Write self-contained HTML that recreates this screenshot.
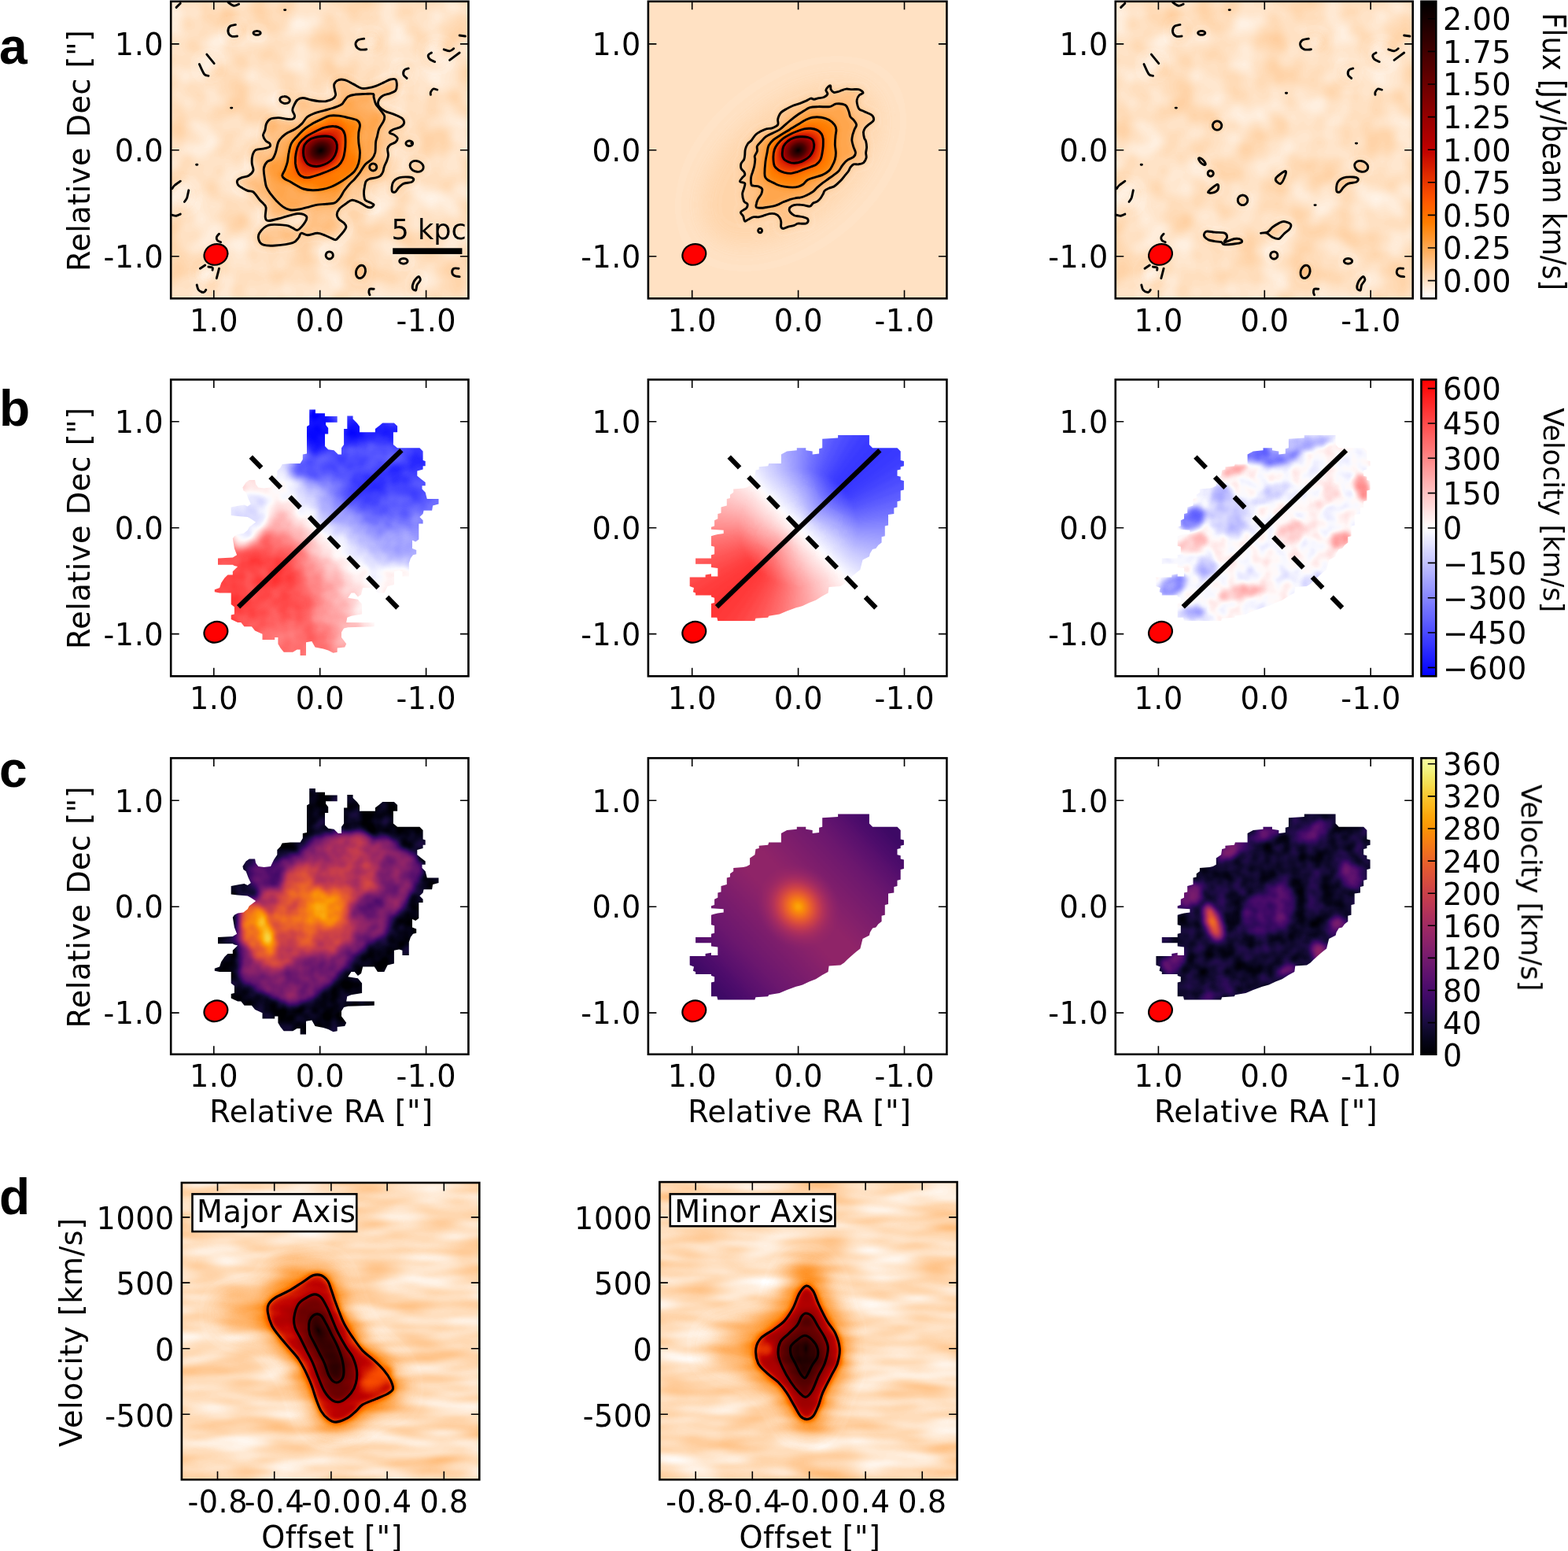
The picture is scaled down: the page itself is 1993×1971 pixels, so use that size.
<!DOCTYPE html><html><head><meta charset="utf-8"><title>figure</title>
<style>html,body{margin:0;padding:0;background:#fff;overflow:hidden;}svg{display:block;}</style></head><body>
<svg width="1993" height="1971" viewBox="0 0 1993 1971" font-family="'DejaVu Sans', 'Liberation Sans', sans-serif">
<defs><filter id="cm_heat" x="0" y="0" width="1" height="1" color-interpolation-filters="sRGB"><feComponentTransfer><feFuncR type="table" tableValues="1.0000 1.0000 1.0000 1.0000 1.0000 1.0000 1.0000 1.0000 1.0000 1.0000 1.0000 1.0000 1.0000 1.0000 1.0000 1.0000 1.0000 1.0000 1.0000 1.0000 1.0000 1.0000 0.9765 0.9529 0.9294 0.9059 0.8824 0.8588 0.8353 0.8118 0.7882 0.7647 0.7353 0.7118 0.6882 0.6647 0.6412 0.6176 0.5941 0.5706 0.5471 0.5235 0.5000 0.4765 0.4529 0.4294 0.4059 0.3824 0.3529 0.3294 0.3059 0.2824 0.2588 0.2353 0.2118 0.1882 0.1647 0.1412 0.1176 0.0941 0.0706 0.0471 0.0235 0.0000"/><feFuncG type="table" tableValues="1.0000 0.9686 0.9373 0.9059 0.8745 0.8431 0.8118 0.7804 0.7490 0.7176 0.6863 0.6549 0.6235 0.5922 0.5608 0.5294 0.4902 0.4588 0.4275 0.3961 0.3647 0.3333 0.3020 0.2706 0.2392 0.2078 0.1765 0.1451 0.1137 0.0824 0.0510 0.0196 0.0000 0.0000 0.0000 0.0000 0.0000 0.0000 0.0000 0.0000 0.0000 0.0000 0.0000 0.0000 0.0000 0.0000 0.0000 0.0000 0.0000 0.0000 0.0000 0.0000 0.0000 0.0000 0.0000 0.0000 0.0000 0.0000 0.0000 0.0000 0.0000 0.0000 0.0000 0.0000"/><feFuncB type="table" tableValues="1.0000 0.9373 0.8745 0.8118 0.7490 0.6863 0.6235 0.5608 0.4980 0.4353 0.3725 0.3098 0.2471 0.1843 0.1216 0.0588 0.0000 0.0000 0.0000 0.0000 0.0000 0.0000 0.0000 0.0000 0.0000 0.0000 0.0000 0.0000 0.0000 0.0000 0.0000 0.0000 0.0000 0.0000 0.0000 0.0000 0.0000 0.0000 0.0000 0.0000 0.0000 0.0000 0.0000 0.0000 0.0000 0.0000 0.0000 0.0000 0.0000 0.0000 0.0000 0.0000 0.0000 0.0000 0.0000 0.0000 0.0000 0.0000 0.0000 0.0000 0.0000 0.0000 0.0000 0.0000"/></feComponentTransfer></filter><filter id="cm_bwr" x="0" y="0" width="1" height="1" color-interpolation-filters="sRGB"><feComponentTransfer><feFuncR type="table" tableValues="0.0000 0.0314 0.0627 0.0941 0.1255 0.1569 0.1882 0.2196 0.2510 0.2824 0.3137 0.3451 0.3765 0.4078 0.4392 0.4706 0.5098 0.5412 0.5725 0.6039 0.6353 0.6667 0.6980 0.7294 0.7608 0.7922 0.8235 0.8549 0.8863 0.9176 0.9490 0.9804 1.0000 1.0000 1.0000 1.0000 1.0000 1.0000 1.0000 1.0000 1.0000 1.0000 1.0000 1.0000 1.0000 1.0000 1.0000 1.0000 1.0000 1.0000 1.0000 1.0000 1.0000 1.0000 1.0000 1.0000 1.0000 1.0000 1.0000 1.0000 1.0000 1.0000 1.0000 1.0000"/><feFuncG type="table" tableValues="0.0000 0.0314 0.0627 0.0941 0.1255 0.1569 0.1882 0.2196 0.2510 0.2824 0.3137 0.3451 0.3765 0.4078 0.4392 0.4706 0.5098 0.5412 0.5725 0.6039 0.6353 0.6667 0.6980 0.7294 0.7608 0.7922 0.8235 0.8549 0.8863 0.9176 0.9490 0.9804 0.9804 0.9490 0.9176 0.8863 0.8549 0.8235 0.7922 0.7608 0.7294 0.6980 0.6667 0.6353 0.6039 0.5725 0.5412 0.5098 0.4706 0.4392 0.4078 0.3765 0.3451 0.3137 0.2824 0.2510 0.2196 0.1882 0.1569 0.1255 0.0941 0.0627 0.0314 0.0000"/><feFuncB type="table" tableValues="1.0000 1.0000 1.0000 1.0000 1.0000 1.0000 1.0000 1.0000 1.0000 1.0000 1.0000 1.0000 1.0000 1.0000 1.0000 1.0000 1.0000 1.0000 1.0000 1.0000 1.0000 1.0000 1.0000 1.0000 1.0000 1.0000 1.0000 1.0000 1.0000 1.0000 1.0000 1.0000 0.9804 0.9490 0.9176 0.8863 0.8549 0.8235 0.7922 0.7608 0.7294 0.6980 0.6667 0.6353 0.6039 0.5725 0.5412 0.5098 0.4706 0.4392 0.4078 0.3765 0.3451 0.3137 0.2824 0.2510 0.2196 0.1882 0.1569 0.1255 0.0941 0.0627 0.0314 0.0000"/></feComponentTransfer></filter><filter id="cm_inf" x="0" y="0" width="1" height="1" color-interpolation-filters="sRGB"><feComponentTransfer><feFuncR type="table" tableValues="0.0015 0.0060 0.0140 0.0258 0.0423 0.0613 0.0820 0.1046 0.1293 0.1558 0.1834 0.2111 0.2383 0.2648 0.2908 0.3163 0.3478 0.3728 0.3977 0.4225 0.4474 0.4723 0.4973 0.5222 0.5472 0.5721 0.5969 0.6217 0.6463 0.6706 0.6946 0.7183 0.7471 0.7696 0.7913 0.8122 0.8323 0.8514 0.8694 0.8863 0.9020 0.9165 0.9296 0.9415 0.9521 0.9613 0.9692 0.9757 0.9819 0.9853 0.9873 0.9879 0.9871 0.9849 0.9812 0.9761 0.9698 0.9625 0.9550 0.9487 0.9464 0.9517 0.9662 0.9884"/><feFuncG type="table" tableValues="0.0005 0.0047 0.0112 0.0193 0.0281 0.0366 0.0433 0.0470 0.0473 0.0446 0.0403 0.0370 0.0366 0.0396 0.0456 0.0535 0.0646 0.0739 0.0833 0.0925 0.1016 0.1105 0.1194 0.1281 0.1369 0.1458 0.1548 0.1642 0.1739 0.1842 0.1950 0.2066 0.2224 0.2361 0.2509 0.2668 0.2839 0.3023 0.3218 0.3426 0.3645 0.3875 0.4115 0.4364 0.4622 0.4887 0.5159 0.5438 0.5794 0.6084 0.6379 0.6677 0.6979 0.7284 0.7591 0.7900 0.8208 0.8515 0.8816 0.9105 0.9372 0.9606 0.9807 0.9984"/><feFuncB type="table" tableValues="0.0139 0.0386 0.0719 0.1059 0.1411 0.1776 0.2153 0.2534 0.2908 0.3253 0.3550 0.3786 0.3964 0.4093 0.4186 0.4251 0.4302 0.4324 0.4332 0.4327 0.4311 0.4283 0.4245 0.4195 0.4135 0.4064 0.3981 0.3888 0.3784 0.3669 0.3544 0.3409 0.3229 0.3075 0.2914 0.2747 0.2574 0.2396 0.2215 0.2030 0.1841 0.1649 0.1454 0.1254 0.1050 0.0843 0.0635 0.0436 0.0262 0.0242 0.0349 0.0583 0.0877 0.1208 0.1569 0.1960 0.2387 0.2855 0.3375 0.3953 0.4586 0.5242 0.5872 0.6449"/></feComponentTransfer></filter><linearGradient id="cg_heat" x1="0" y1="0" x2="0" y2="1"><stop offset="0.0000" stop-color="rgb(0,0,0)"/><stop offset="0.0213" stop-color="rgb(8,0,0)"/><stop offset="0.0426" stop-color="rgb(15,0,0)"/><stop offset="0.0638" stop-color="rgb(24,0,0)"/><stop offset="0.0851" stop-color="rgb(32,0,0)"/><stop offset="0.1064" stop-color="rgb(41,0,0)"/><stop offset="0.1277" stop-color="rgb(48,0,0)"/><stop offset="0.1489" stop-color="rgb(57,0,0)"/><stop offset="0.1702" stop-color="rgb(65,0,0)"/><stop offset="0.1915" stop-color="rgb(74,0,0)"/><stop offset="0.2128" stop-color="rgb(81,0,0)"/><stop offset="0.2340" stop-color="rgb(89,0,0)"/><stop offset="0.2553" stop-color="rgb(98,0,0)"/><stop offset="0.2766" stop-color="rgb(105,0,0)"/><stop offset="0.2979" stop-color="rgb(114,0,0)"/><stop offset="0.3191" stop-color="rgb(122,0,0)"/><stop offset="0.3404" stop-color="rgb(130,0,0)"/><stop offset="0.3617" stop-color="rgb(138,0,0)"/><stop offset="0.3830" stop-color="rgb(147,0,0)"/><stop offset="0.4043" stop-color="rgb(155,0,0)"/><stop offset="0.4255" stop-color="rgb(162,0,0)"/><stop offset="0.4468" stop-color="rgb(171,0,0)"/><stop offset="0.4681" stop-color="rgb(178,0,0)"/><stop offset="0.4894" stop-color="rgb(188,0,0)"/><stop offset="0.5106" stop-color="rgb(195,5,0)"/><stop offset="0.5319" stop-color="rgb(204,17,0)"/><stop offset="0.5532" stop-color="rgb(212,27,0)"/><stop offset="0.5745" stop-color="rgb(220,39,0)"/><stop offset="0.5957" stop-color="rgb(228,49,0)"/><stop offset="0.6170" stop-color="rgb(236,59,0)"/><stop offset="0.6383" stop-color="rgb(244,71,0)"/><stop offset="0.6596" stop-color="rgb(252,81,0)"/><stop offset="0.6809" stop-color="rgb(255,93,0)"/><stop offset="0.7021" stop-color="rgb(255,103,0)"/><stop offset="0.7234" stop-color="rgb(255,115,0)"/><stop offset="0.7447" stop-color="rgb(255,125,0)"/><stop offset="0.7660" stop-color="rgb(255,137,19)"/><stop offset="0.7872" stop-color="rgb(255,147,39)"/><stop offset="0.8085" stop-color="rgb(255,157,59)"/><stop offset="0.8298" stop-color="rgb(255,169,83)"/><stop offset="0.8511" stop-color="rgb(255,179,103)"/><stop offset="0.8723" stop-color="rgb(255,191,127)"/><stop offset="0.8936" stop-color="rgb(255,201,147)"/><stop offset="0.9149" stop-color="rgb(255,213,171)"/><stop offset="0.9362" stop-color="rgb(255,223,191)"/><stop offset="0.9574" stop-color="rgb(255,235,215)"/><stop offset="0.9787" stop-color="rgb(255,245,235)"/><stop offset="1.0000" stop-color="rgb(255,255,255)"/></linearGradient><linearGradient id="cg_bwr" x1="0" y1="0" x2="0" y2="1"><stop offset="0.0000" stop-color="rgb(255,0,0)"/><stop offset="0.0213" stop-color="rgb(255,10,10)"/><stop offset="0.0426" stop-color="rgb(255,20,20)"/><stop offset="0.0638" stop-color="rgb(255,32,32)"/><stop offset="0.0851" stop-color="rgb(255,42,42)"/><stop offset="0.1064" stop-color="rgb(255,54,54)"/><stop offset="0.1277" stop-color="rgb(255,64,64)"/><stop offset="0.1489" stop-color="rgb(255,76,76)"/><stop offset="0.1702" stop-color="rgb(255,86,86)"/><stop offset="0.1915" stop-color="rgb(255,98,98)"/><stop offset="0.2128" stop-color="rgb(255,108,108)"/><stop offset="0.2340" stop-color="rgb(255,118,118)"/><stop offset="0.2553" stop-color="rgb(255,130,130)"/><stop offset="0.2766" stop-color="rgb(255,140,140)"/><stop offset="0.2979" stop-color="rgb(255,152,152)"/><stop offset="0.3191" stop-color="rgb(255,162,162)"/><stop offset="0.3404" stop-color="rgb(255,174,174)"/><stop offset="0.3617" stop-color="rgb(255,184,184)"/><stop offset="0.3830" stop-color="rgb(255,196,196)"/><stop offset="0.4043" stop-color="rgb(255,206,206)"/><stop offset="0.4255" stop-color="rgb(255,216,216)"/><stop offset="0.4468" stop-color="rgb(255,228,228)"/><stop offset="0.4681" stop-color="rgb(255,238,238)"/><stop offset="0.4894" stop-color="rgb(255,250,250)"/><stop offset="0.5106" stop-color="rgb(250,250,255)"/><stop offset="0.5319" stop-color="rgb(238,238,255)"/><stop offset="0.5532" stop-color="rgb(228,228,255)"/><stop offset="0.5745" stop-color="rgb(216,216,255)"/><stop offset="0.5957" stop-color="rgb(206,206,255)"/><stop offset="0.6170" stop-color="rgb(196,196,255)"/><stop offset="0.6383" stop-color="rgb(184,184,255)"/><stop offset="0.6596" stop-color="rgb(174,174,255)"/><stop offset="0.6809" stop-color="rgb(162,162,255)"/><stop offset="0.7021" stop-color="rgb(152,152,255)"/><stop offset="0.7234" stop-color="rgb(140,140,255)"/><stop offset="0.7447" stop-color="rgb(130,130,255)"/><stop offset="0.7660" stop-color="rgb(118,118,255)"/><stop offset="0.7872" stop-color="rgb(108,108,255)"/><stop offset="0.8085" stop-color="rgb(98,98,255)"/><stop offset="0.8298" stop-color="rgb(86,86,255)"/><stop offset="0.8511" stop-color="rgb(76,76,255)"/><stop offset="0.8723" stop-color="rgb(64,64,255)"/><stop offset="0.8936" stop-color="rgb(54,54,255)"/><stop offset="0.9149" stop-color="rgb(42,42,255)"/><stop offset="0.9362" stop-color="rgb(32,32,255)"/><stop offset="0.9574" stop-color="rgb(20,20,255)"/><stop offset="0.9787" stop-color="rgb(10,10,255)"/><stop offset="1.0000" stop-color="rgb(0,0,255)"/></linearGradient><linearGradient id="cg_inf" x1="0" y1="0" x2="0" y2="1"><stop offset="0.0000" stop-color="rgb(252,255,164)"/><stop offset="0.0213" stop-color="rgb(245,249,146)"/><stop offset="0.0426" stop-color="rgb(242,242,125)"/><stop offset="0.0638" stop-color="rgb(242,232,101)"/><stop offset="0.0851" stop-color="rgb(244,223,83)"/><stop offset="0.1064" stop-color="rgb(247,211,64)"/><stop offset="0.1277" stop-color="rgb(249,201,50)"/><stop offset="0.1489" stop-color="rgb(251,190,35)"/><stop offset="0.1702" stop-color="rgb(252,180,24)"/><stop offset="0.1915" stop-color="rgb(252,168,13)"/><stop offset="0.2128" stop-color="rgb(252,159,7)"/><stop offset="0.2340" stop-color="rgb(251,150,6)"/><stop offset="0.2553" stop-color="rgb(249,139,11)"/><stop offset="0.2766" stop-color="rgb(247,130,18)"/><stop offset="0.2979" stop-color="rgb(243,120,25)"/><stop offset="0.3191" stop-color="rgb(240,111,32)"/><stop offset="0.3404" stop-color="rgb(235,102,40)"/><stop offset="0.3617" stop-color="rgb(231,94,46)"/><stop offset="0.3830" stop-color="rgb(225,86,53)"/><stop offset="0.4043" stop-color="rgb(219,80,59)"/><stop offset="0.4255" stop-color="rgb(213,74,65)"/><stop offset="0.4468" stop-color="rgb(206,67,71)"/><stop offset="0.4681" stop-color="rgb(199,62,76)"/><stop offset="0.4894" stop-color="rgb(191,57,82)"/><stop offset="0.5106" stop-color="rgb(183,53,87)"/><stop offset="0.5319" stop-color="rgb(174,48,92)"/><stop offset="0.5532" stop-color="rgb(166,45,96)"/><stop offset="0.5745" stop-color="rgb(157,41,100)"/><stop offset="0.5957" stop-color="rgb(149,38,103)"/><stop offset="0.6170" stop-color="rgb(141,35,105)"/><stop offset="0.6383" stop-color="rgb(132,32,107)"/><stop offset="0.6596" stop-color="rgb(124,29,109)"/><stop offset="0.6809" stop-color="rgb(114,26,110)"/><stop offset="0.7021" stop-color="rgb(106,23,110)"/><stop offset="0.7234" stop-color="rgb(97,19,110)"/><stop offset="0.7447" stop-color="rgb(89,16,110)"/><stop offset="0.7660" stop-color="rgb(79,13,108)"/><stop offset="0.7872" stop-color="rgb(71,11,106)"/><stop offset="0.8085" stop-color="rgb(62,9,102)"/><stop offset="0.8298" stop-color="rgb(52,10,95)"/><stop offset="0.8511" stop-color="rgb(43,11,87)"/><stop offset="0.8723" stop-color="rgb(33,12,74)"/><stop offset="0.8936" stop-color="rgb(25,12,62)"/><stop offset="0.9149" stop-color="rgb(17,10,48)"/><stop offset="0.9362" stop-color="rgb(11,7,36)"/><stop offset="0.9574" stop-color="rgb(5,4,23)"/><stop offset="0.9787" stop-color="rgb(2,2,12)"/><stop offset="1.0000" stop-color="rgb(0,0,4)"/></linearGradient><clipPath id="clip_00"><rect x="217.2" y="1.8" width="378.2" height="377.5"/></clipPath><filter id="f1" filterUnits="userSpaceOnUse" x="217.2" y="1.8" width="378.2" height="377.5" color-interpolation-filters="sRGB"><feTurbulence type="fractalNoise" baseFrequency="0.025" numOctaves="2" seed="7" result="n"/><feColorMatrix in="n" type="matrix" values="1 0 0 0 0 1 0 0 0 0 1 0 0 0 0 0 0 0 0 1" result="ng"/><feComposite in="SourceGraphic" in2="ng" operator="arithmetic" k1="0" k2="1" k3="0.100" k4="-0.050" result="s"/><feComponentTransfer in="s"><feFuncR type="table" tableValues="1.000 1.000 1.000 1.000 1.000 1.000 1.000 1.000 1.000 1.000 1.000 1.000 1.000 1.000 1.000 1.000 1.000 1.000 1.000 1.000 1.000 1.000 0.976 0.953 0.929 0.906 0.882 0.859 0.835 0.812 0.788 0.765 0.735 0.712 0.688 0.665 0.641 0.618 0.594 0.571 0.547 0.524 0.500 0.476 0.453 0.429 0.406 0.382 0.353 0.329 0.306 0.282 0.259 0.235 0.212 0.188 0.165 0.141 0.118 0.094 0.071 0.047 0.024 0.000"/><feFuncG type="table" tableValues="1.000 0.969 0.937 0.906 0.875 0.843 0.812 0.780 0.749 0.718 0.686 0.655 0.624 0.592 0.561 0.529 0.490 0.459 0.427 0.396 0.365 0.333 0.302 0.271 0.239 0.208 0.176 0.145 0.114 0.082 0.051 0.020 0.000 0.000 0.000 0.000 0.000 0.000 0.000 0.000 0.000 0.000 0.000 0.000 0.000 0.000 0.000 0.000 0.000 0.000 0.000 0.000 0.000 0.000 0.000 0.000 0.000 0.000 0.000 0.000 0.000 0.000 0.000 0.000"/><feFuncB type="table" tableValues="1.000 0.937 0.875 0.812 0.749 0.686 0.624 0.561 0.498 0.435 0.373 0.310 0.247 0.184 0.122 0.059 0.000 0.000 0.000 0.000 0.000 0.000 0.000 0.000 0.000 0.000 0.000 0.000 0.000 0.000 0.000 0.000 0.000 0.000 0.000 0.000 0.000 0.000 0.000 0.000 0.000 0.000 0.000 0.000 0.000 0.000 0.000 0.000 0.000 0.000 0.000 0.000 0.000 0.000 0.000 0.000 0.000 0.000 0.000 0.000 0.000 0.000 0.000 0.000"/></feComponentTransfer></filter><filter id="b2" x="-20%" y="-20%" width="140%" height="140%" color-interpolation-filters="sRGB"><feGaussianBlur stdDeviation="6"/></filter><filter id="b3" x="-20%" y="-20%" width="140%" height="140%" color-interpolation-filters="sRGB"><feGaussianBlur stdDeviation="4.5"/></filter><radialGradient id="g4"><stop offset="0" stop-color="rgb(252,252,252)"/><stop offset="0.5" stop-color="rgb(201,201,201)"/><stop offset="1" stop-color="rgb(162,162,162)" stop-opacity="0"/></radialGradient><clipPath id="clip_01"><rect x="823.9" y="1.8" width="379.5" height="377.5"/></clipPath><filter id="f5" filterUnits="userSpaceOnUse" x="823.9" y="1.8" width="379.5" height="377.5" color-interpolation-filters="sRGB"><feComponentTransfer in="SourceGraphic"><feFuncR type="table" tableValues="1.000 1.000 1.000 1.000 1.000 1.000 1.000 1.000 1.000 1.000 1.000 1.000 1.000 1.000 1.000 1.000 1.000 1.000 1.000 1.000 1.000 1.000 0.976 0.953 0.929 0.906 0.882 0.859 0.835 0.812 0.788 0.765 0.735 0.712 0.688 0.665 0.641 0.618 0.594 0.571 0.547 0.524 0.500 0.476 0.453 0.429 0.406 0.382 0.353 0.329 0.306 0.282 0.259 0.235 0.212 0.188 0.165 0.141 0.118 0.094 0.071 0.047 0.024 0.000"/><feFuncG type="table" tableValues="1.000 0.969 0.937 0.906 0.875 0.843 0.812 0.780 0.749 0.718 0.686 0.655 0.624 0.592 0.561 0.529 0.490 0.459 0.427 0.396 0.365 0.333 0.302 0.271 0.239 0.208 0.176 0.145 0.114 0.082 0.051 0.020 0.000 0.000 0.000 0.000 0.000 0.000 0.000 0.000 0.000 0.000 0.000 0.000 0.000 0.000 0.000 0.000 0.000 0.000 0.000 0.000 0.000 0.000 0.000 0.000 0.000 0.000 0.000 0.000 0.000 0.000 0.000 0.000"/><feFuncB type="table" tableValues="1.000 0.937 0.875 0.812 0.749 0.686 0.624 0.561 0.498 0.435 0.373 0.310 0.247 0.184 0.122 0.059 0.000 0.000 0.000 0.000 0.000 0.000 0.000 0.000 0.000 0.000 0.000 0.000 0.000 0.000 0.000 0.000 0.000 0.000 0.000 0.000 0.000 0.000 0.000 0.000 0.000 0.000 0.000 0.000 0.000 0.000 0.000 0.000 0.000 0.000 0.000 0.000 0.000 0.000 0.000 0.000 0.000 0.000 0.000 0.000 0.000 0.000 0.000 0.000"/></feComponentTransfer></filter><filter id="b6" x="-20%" y="-20%" width="140%" height="140%" color-interpolation-filters="sRGB"><feGaussianBlur stdDeviation="14"/></filter><filter id="b7" x="-20%" y="-20%" width="140%" height="140%" color-interpolation-filters="sRGB"><feGaussianBlur stdDeviation="4.0"/></filter><radialGradient id="g8"><stop offset="0" stop-color="rgb(252,252,252)"/><stop offset="0.5" stop-color="rgb(201,201,201)"/><stop offset="1" stop-color="rgb(162,162,162)" stop-opacity="0"/></radialGradient><clipPath id="clip_02"><rect x="1417.8" y="1.8" width="377.9" height="377.5"/></clipPath><filter id="f9" filterUnits="userSpaceOnUse" x="217.2" y="1.8" width="377.9" height="377.5" color-interpolation-filters="sRGB"><feTurbulence type="fractalNoise" baseFrequency="0.025" numOctaves="2" seed="7" result="n"/><feColorMatrix in="n" type="matrix" values="1 0 0 0 0 1 0 0 0 0 1 0 0 0 0 0 0 0 0 1" result="ng"/><feComposite in="SourceGraphic" in2="ng" operator="arithmetic" k1="0" k2="1" k3="0.100" k4="-0.050" result="s"/><feComponentTransfer in="s"><feFuncR type="table" tableValues="1.000 1.000 1.000 1.000 1.000 1.000 1.000 1.000 1.000 1.000 1.000 1.000 1.000 1.000 1.000 1.000 1.000 1.000 1.000 1.000 1.000 1.000 0.976 0.953 0.929 0.906 0.882 0.859 0.835 0.812 0.788 0.765 0.735 0.712 0.688 0.665 0.641 0.618 0.594 0.571 0.547 0.524 0.500 0.476 0.453 0.429 0.406 0.382 0.353 0.329 0.306 0.282 0.259 0.235 0.212 0.188 0.165 0.141 0.118 0.094 0.071 0.047 0.024 0.000"/><feFuncG type="table" tableValues="1.000 0.969 0.937 0.906 0.875 0.843 0.812 0.780 0.749 0.718 0.686 0.655 0.624 0.592 0.561 0.529 0.490 0.459 0.427 0.396 0.365 0.333 0.302 0.271 0.239 0.208 0.176 0.145 0.114 0.082 0.051 0.020 0.000 0.000 0.000 0.000 0.000 0.000 0.000 0.000 0.000 0.000 0.000 0.000 0.000 0.000 0.000 0.000 0.000 0.000 0.000 0.000 0.000 0.000 0.000 0.000 0.000 0.000 0.000 0.000 0.000 0.000 0.000 0.000"/><feFuncB type="table" tableValues="1.000 0.937 0.875 0.812 0.749 0.686 0.624 0.561 0.498 0.435 0.373 0.310 0.247 0.184 0.122 0.059 0.000 0.000 0.000 0.000 0.000 0.000 0.000 0.000 0.000 0.000 0.000 0.000 0.000 0.000 0.000 0.000 0.000 0.000 0.000 0.000 0.000 0.000 0.000 0.000 0.000 0.000 0.000 0.000 0.000 0.000 0.000 0.000 0.000 0.000 0.000 0.000 0.000 0.000 0.000 0.000 0.000 0.000 0.000 0.000 0.000 0.000 0.000 0.000"/></feComponentTransfer></filter><filter id="b10" x="-20%" y="-20%" width="140%" height="140%" color-interpolation-filters="sRGB"><feGaussianBlur stdDeviation="6"/></filter><filter id="b11" x="-20%" y="-20%" width="140%" height="140%" color-interpolation-filters="sRGB"><feGaussianBlur stdDeviation="3"/></filter><clipPath id="clip_10"><rect x="217.2" y="482.4" width="378.2" height="376.9"/></clipPath><clipPath id="m12"><path d="M393.2 520.6 400.9 520.6 400.9 525.2 413 525.2 413 529 428.7 529 428.7 536.7 414.1 536.7 414.1 539.9 417.2 544.1 417.2 551.4 413 551.4 413 567.1 417.2 571.3 424.5 572.3 429.8 577.6 434 577.6 434 569.2 437.1 565 437.1 545.1 441.3 545.1 441.3 528.4 448.6 528.4 448.6 532.6 453.9 537.8 457 542 457 549.3 476.9 549.3 476.9 545.1 482.1 540.9 486.3 537.4 500.9 537.4 505.1 541.6 505.1 549.3 499.9 549.3 499.9 565 505.1 569.2 533.4 569.2 537.6 573.4 537.6 584.9 540.7 585.9 540.7 592.2 537.6 592.2 537.6 596.4 530.3 598.5 530.3 604.8 535.5 609 540.7 613.1 540.7 617.3 536.5 617.3 536.5 621.5 540.7 625.7 542.8 634.1 557.5 634.1 557.5 640.4 550.1 642.5 549.1 648.7 538.6 648.7 537.6 652.9 533.4 657.1 537.6 661.3 537.6 665.5 532.3 665.5 532.3 685.4 528.2 688.5 524 686.4 524 696.9 529.2 699 529.2 704.2 525 705.2 521.9 709.4 519.8 715.7 519.8 732.5 511.4 732.5 511.4 726.2 507.2 725.1 500.9 726.2 500.9 742.9 492.6 745 488.4 753.4 480 753.4 475.8 747.1 461.2 747.1 459.1 755.5 454.9 758.6 450.7 753.4 446.5 753.4 442.3 759.7 454.9 761.8 460.1 768 460.1 780.6 446.5 782.7 441.3 784.8 440.2 791.1 475.8 791.1 475.8 796.3 442.3 797.3 437.1 798.4 434 803.6 434 809.9 437.1 814.1 440.2 818.3 438.2 822.5 428.7 823.5 428.7 828.7 423.5 829.8 417.2 826.6 410.9 824.6 400.5 822.5 396.3 815.1 389 816.2 389 832.9 381.6 832.9 381.6 825.6 377.5 825.6 372.2 828.7 360.7 828.7 356.5 823.5 353.4 818.3 353.4 809.9 349.2 809.9 349.2 813 333.5 813 333.5 805.7 324.1 801.5 319.9 796.3 310.5 796.3 306.3 791.1 302.1 791.1 293.7 786.9 293.7 781.6 297.9 780.6 297.9 771.2 293.7 768 293.7 753.4 279.1 753.4 272.8 752.3 272.8 749.2 279.1 747.1 281.2 740.8 285.4 734.5 289.5 730.4 295.8 730.4 295.8 726.2 302.1 719.9 297.9 718.9 295.8 717.8 277 717.8 277 709.4 295.8 708.4 301.1 705.2 297.9 696.9 295.8 684.3 297.9 681.2 302.1 679.1 309.4 678 314.7 673.8 316.8 669.7 319.9 667.6 325.1 663.4 318.8 659.2 314.7 657.1 302.1 656.1 293.7 655 293.7 644.5 304.2 642.5 310.5 641.4 314.7 643.5 318.8 640.4 315.7 634.1 312.6 625.7 309.4 623.6 308.4 619.4 312.6 613.1 316.8 610 324.1 610 325.1 615.2 328.3 619.4 335.6 620.5 344 619.4 348.1 611.1 352.3 604.8 352.3 598.5 356.5 594.3 358.6 590.1 369.1 589.1 381.6 589.1 384.8 583.8 384.8 577.6 390 576.5 390 542 393.2 539.9Z"/></clipPath><filter id="f13" filterUnits="userSpaceOnUse" x="217.2" y="482.4" width="378.2" height="376.9" color-interpolation-filters="sRGB"><feTurbulence type="fractalNoise" baseFrequency="0.045" numOctaves="2" seed="11" result="n"/><feColorMatrix in="n" type="matrix" values="1 0 0 0 0 1 0 0 0 0 1 0 0 0 0 0 0 0 0 1" result="ng"/><feComposite in="SourceGraphic" in2="ng" operator="arithmetic" k1="0" k2="1" k3="0.120" k4="-0.060" result="s"/><feComponentTransfer in="s"><feFuncR type="table" tableValues="0.000 0.031 0.063 0.094 0.125 0.157 0.188 0.220 0.251 0.282 0.314 0.345 0.376 0.408 0.439 0.471 0.510 0.541 0.573 0.604 0.635 0.667 0.698 0.729 0.761 0.792 0.824 0.855 0.886 0.918 0.949 0.980 1.000 1.000 1.000 1.000 1.000 1.000 1.000 1.000 1.000 1.000 1.000 1.000 1.000 1.000 1.000 1.000 1.000 1.000 1.000 1.000 1.000 1.000 1.000 1.000 1.000 1.000 1.000 1.000 1.000 1.000 1.000 1.000"/><feFuncG type="table" tableValues="0.000 0.031 0.063 0.094 0.125 0.157 0.188 0.220 0.251 0.282 0.314 0.345 0.376 0.408 0.439 0.471 0.510 0.541 0.573 0.604 0.635 0.667 0.698 0.729 0.761 0.792 0.824 0.855 0.886 0.918 0.949 0.980 0.980 0.949 0.918 0.886 0.855 0.824 0.792 0.761 0.729 0.698 0.667 0.635 0.604 0.573 0.541 0.510 0.471 0.439 0.408 0.376 0.345 0.314 0.282 0.251 0.220 0.188 0.157 0.125 0.094 0.063 0.031 0.000"/><feFuncB type="table" tableValues="1.000 1.000 1.000 1.000 1.000 1.000 1.000 1.000 1.000 1.000 1.000 1.000 1.000 1.000 1.000 1.000 1.000 1.000 1.000 1.000 1.000 1.000 1.000 1.000 1.000 1.000 1.000 1.000 1.000 1.000 1.000 1.000 0.980 0.949 0.918 0.886 0.855 0.824 0.792 0.761 0.729 0.698 0.667 0.635 0.604 0.573 0.541 0.510 0.471 0.439 0.408 0.376 0.345 0.314 0.282 0.251 0.220 0.188 0.157 0.125 0.094 0.063 0.031 0.000"/></feComponentTransfer></filter><filter id="b14" x="-20%" y="-20%" width="140%" height="140%" color-interpolation-filters="sRGB"><feGaussianBlur stdDeviation="6"/></filter><radialGradient id="g15"><stop offset="0" stop-color="rgb(128,128,128)" stop-opacity="0.9"/><stop offset="1" stop-color="rgb(128,128,128)" stop-opacity="0"/></radialGradient><clipPath id="clip_11"><rect x="823.9" y="482.4" width="379.5" height="376.9"/></clipPath><clipPath id="m16"><path d="M1065.1 552.9 1104.9 552.9 1104.9 565 1109.1 569.2 1140.5 569.2 1144.7 573.4 1144.7 584.9 1148.9 585.9 1148.9 592.2 1144.7 593.3 1144.7 596.4 1140.5 597.4 1140.5 604.8 1144.7 605.8 1144.7 610 1148.9 611.1 1148.9 622.6 1144.7 623.6 1144.7 636.2 1140.5 637.2 1140.5 644.5 1136.3 645.6 1136.3 652.9 1129 654 1129 667.6 1124.8 668.6 1124.8 681.2 1120.6 682.2 1120.6 689.5 1116.4 692.7 1113.3 696.9 1109.1 697.9 1105.9 703.2 1104.9 707.3 1096.5 711.5 1093.4 724.1 1089.2 727.2 1085 730.8 1080.8 734.5 1076.6 738.3 1072.9 742.1 1068.3 745 1053.6 746.1 1052.6 753.4 1045.2 757.6 1036.9 762.8 1028.5 765.9 1020.1 770.1 1011.8 772.2 1000.2 776.4 990.8 780.6 977.2 782.7 976.2 784.8 960.5 785.8 959.4 789 912.3 789 911.3 784.8 904 784.8 904 767 908.1 765.9 908.1 759.7 904 758.6 904 756.5 884.1 756.5 884.1 753.4 880.9 752.3 882 747.1 876.7 745 876.7 733.5 896.6 733.5 896.6 730.4 904 729.3 904 732.5 912.3 732.5 912.3 722 904 720.9 904 716.8 884.1 716.8 884.1 709.4 904 709.4 904 705.2 908.1 704.2 908.1 694.8 904 693.7 904 681.2 908.1 680.1 912.3 679.1 919.7 678 919.7 673.8 904 672.8 904 669.7 908.1 668.6 908.1 661.3 912.3 659.2 912.3 652.9 916.5 651.9 916.5 644.5 923.8 642.5 923.8 634.1 928 633 928 628.8 932.2 625.7 932.2 621.5 944.8 620.5 949 619.4 953.1 617.3 953.1 609 959.4 604.8 960.5 597.4 964.7 596.4 964.7 593.3 976.2 592.2 977.2 589.1 992.9 589.1 992.9 577.6 1000.2 573.4 1012.8 572.3 1012.8 569.2 1024.3 569.2 1024.3 572.3 1032.7 573.4 1032.7 577.6 1041.1 576.5 1041.1 570.2 1045.2 569.2 1045.2 557.7 1065.1 556.6Z"/></clipPath><filter id="f17" filterUnits="userSpaceOnUse" x="823.9" y="482.4" width="379.5" height="376.9" color-interpolation-filters="sRGB"><feComponentTransfer in="SourceGraphic"><feFuncR type="table" tableValues="0.000 0.031 0.063 0.094 0.125 0.157 0.188 0.220 0.251 0.282 0.314 0.345 0.376 0.408 0.439 0.471 0.510 0.541 0.573 0.604 0.635 0.667 0.698 0.729 0.761 0.792 0.824 0.855 0.886 0.918 0.949 0.980 1.000 1.000 1.000 1.000 1.000 1.000 1.000 1.000 1.000 1.000 1.000 1.000 1.000 1.000 1.000 1.000 1.000 1.000 1.000 1.000 1.000 1.000 1.000 1.000 1.000 1.000 1.000 1.000 1.000 1.000 1.000 1.000"/><feFuncG type="table" tableValues="0.000 0.031 0.063 0.094 0.125 0.157 0.188 0.220 0.251 0.282 0.314 0.345 0.376 0.408 0.439 0.471 0.510 0.541 0.573 0.604 0.635 0.667 0.698 0.729 0.761 0.792 0.824 0.855 0.886 0.918 0.949 0.980 0.980 0.949 0.918 0.886 0.855 0.824 0.792 0.761 0.729 0.698 0.667 0.635 0.604 0.573 0.541 0.510 0.471 0.439 0.408 0.376 0.345 0.314 0.282 0.251 0.220 0.188 0.157 0.125 0.094 0.063 0.031 0.000"/><feFuncB type="table" tableValues="1.000 1.000 1.000 1.000 1.000 1.000 1.000 1.000 1.000 1.000 1.000 1.000 1.000 1.000 1.000 1.000 1.000 1.000 1.000 1.000 1.000 1.000 1.000 1.000 1.000 1.000 1.000 1.000 1.000 1.000 1.000 1.000 0.980 0.949 0.918 0.886 0.855 0.824 0.792 0.761 0.729 0.698 0.667 0.635 0.604 0.573 0.541 0.510 0.471 0.439 0.408 0.376 0.345 0.314 0.282 0.251 0.220 0.188 0.157 0.125 0.094 0.063 0.031 0.000"/></feComponentTransfer></filter><filter id="b18" x="-20%" y="-20%" width="140%" height="140%" color-interpolation-filters="sRGB"><feGaussianBlur stdDeviation="2.0"/></filter><radialGradient id="g19"><stop offset="0" stop-color="rgb(128,128,128)" stop-opacity="1.0"/><stop offset="0.4" stop-color="rgb(128,128,128)" stop-opacity="0.55"/><stop offset="1" stop-color="rgb(128,128,128)" stop-opacity="0"/></radialGradient><clipPath id="clip_12"><rect x="1417.8" y="482.4" width="377.9" height="376.9"/></clipPath><clipPath id="m20"><path d="M1657.8 552.9 1697.6 552.9 1697.6 565 1701.8 569.2 1733.2 569.2 1737.4 573.4 1737.4 584.9 1741.6 585.9 1741.6 592.2 1737.4 593.3 1737.4 596.4 1733.2 597.4 1733.2 604.8 1737.4 605.8 1737.4 610 1741.6 611.1 1741.6 622.6 1737.4 623.6 1737.4 636.2 1733.2 637.2 1733.2 644.5 1729 645.6 1729 652.9 1721.7 654 1721.7 667.6 1717.5 668.6 1717.5 681.2 1713.3 682.2 1713.3 689.5 1709.1 692.7 1706 696.9 1701.8 697.9 1698.6 703.2 1697.6 707.3 1689.2 711.5 1686.1 724.1 1681.9 727.2 1677.7 730.8 1673.5 734.5 1669.3 738.3 1665.6 742.1 1661 745 1646.3 746.1 1645.3 753.4 1637.9 757.6 1629.6 762.8 1621.2 765.9 1612.8 770.1 1604.5 772.2 1592.9 776.4 1583.5 780.6 1569.9 782.7 1568.9 784.8 1553.2 785.8 1552.1 789 1505 789 1504 784.8 1496.7 784.8 1496.7 767 1500.8 765.9 1500.8 759.7 1496.7 758.6 1496.7 756.5 1476.8 756.5 1476.8 753.4 1473.6 752.3 1474.7 747.1 1469.4 745 1469.4 733.5 1489.3 733.5 1489.3 730.4 1496.7 729.3 1496.7 732.5 1505 732.5 1505 722 1496.7 720.9 1496.7 716.8 1476.8 716.8 1476.8 709.4 1496.7 709.4 1496.7 705.2 1500.8 704.2 1500.8 694.8 1496.7 693.7 1496.7 681.2 1500.8 680.1 1505 679.1 1512.4 678 1512.4 673.8 1496.7 672.8 1496.7 669.7 1500.8 668.6 1500.8 661.3 1505 659.2 1505 652.9 1509.2 651.9 1509.2 644.5 1516.5 642.5 1516.5 634.1 1520.7 633 1520.7 628.8 1524.9 625.7 1524.9 621.5 1537.5 620.5 1541.7 619.4 1545.8 617.3 1545.8 609 1552.1 604.8 1553.2 597.4 1557.4 596.4 1557.4 593.3 1568.9 592.2 1569.9 589.1 1585.6 589.1 1585.6 577.6 1592.9 573.4 1605.5 572.3 1605.5 569.2 1617 569.2 1617 572.3 1625.4 573.4 1625.4 577.6 1633.8 576.5 1633.8 570.2 1637.9 569.2 1637.9 557.7 1657.8 556.6Z"/></clipPath><filter id="f21" filterUnits="userSpaceOnUse" x="1417.8" y="482.4" width="377.9" height="376.9" color-interpolation-filters="sRGB"><feTurbulence type="fractalNoise" baseFrequency="0.05" numOctaves="2" seed="23" result="n"/><feColorMatrix in="n" type="matrix" values="1 0 0 0 0 1 0 0 0 0 1 0 0 0 0 0 0 0 0 1" result="ng"/><feComposite in="SourceGraphic" in2="ng" operator="arithmetic" k1="0" k2="1" k3="0.160" k4="-0.080" result="s"/><feComponentTransfer in="s"><feFuncR type="table" tableValues="0.000 0.031 0.063 0.094 0.125 0.157 0.188 0.220 0.251 0.282 0.314 0.345 0.376 0.408 0.439 0.471 0.510 0.541 0.573 0.604 0.635 0.667 0.698 0.729 0.761 0.792 0.824 0.855 0.886 0.918 0.949 0.980 1.000 1.000 1.000 1.000 1.000 1.000 1.000 1.000 1.000 1.000 1.000 1.000 1.000 1.000 1.000 1.000 1.000 1.000 1.000 1.000 1.000 1.000 1.000 1.000 1.000 1.000 1.000 1.000 1.000 1.000 1.000 1.000"/><feFuncG type="table" tableValues="0.000 0.031 0.063 0.094 0.125 0.157 0.188 0.220 0.251 0.282 0.314 0.345 0.376 0.408 0.439 0.471 0.510 0.541 0.573 0.604 0.635 0.667 0.698 0.729 0.761 0.792 0.824 0.855 0.886 0.918 0.949 0.980 0.980 0.949 0.918 0.886 0.855 0.824 0.792 0.761 0.729 0.698 0.667 0.635 0.604 0.573 0.541 0.510 0.471 0.439 0.408 0.376 0.345 0.314 0.282 0.251 0.220 0.188 0.157 0.125 0.094 0.063 0.031 0.000"/><feFuncB type="table" tableValues="1.000 1.000 1.000 1.000 1.000 1.000 1.000 1.000 1.000 1.000 1.000 1.000 1.000 1.000 1.000 1.000 1.000 1.000 1.000 1.000 1.000 1.000 1.000 1.000 1.000 1.000 1.000 1.000 1.000 1.000 1.000 1.000 0.980 0.949 0.918 0.886 0.855 0.824 0.792 0.761 0.729 0.698 0.667 0.635 0.604 0.573 0.541 0.510 0.471 0.439 0.408 0.376 0.345 0.314 0.282 0.251 0.220 0.188 0.157 0.125 0.094 0.063 0.031 0.000"/></feComponentTransfer></filter><filter id="b22" x="-20%" y="-20%" width="140%" height="140%" color-interpolation-filters="sRGB"><feGaussianBlur stdDeviation="3.5"/></filter><clipPath id="clip_20"><rect x="217.2" y="963.4" width="378.2" height="376.4"/></clipPath><clipPath id="m23"><path d="M393.2 1002.1 400.9 1002.1 400.9 1006.7 413 1006.7 413 1010.5 428.7 1010.5 428.7 1018.2 414.1 1018.2 414.1 1021.4 417.2 1025.6 417.2 1032.9 413 1032.9 413 1048.6 417.2 1052.8 424.5 1053.8 429.8 1059.1 434 1059.1 434 1050.7 437.1 1046.5 437.1 1026.6 441.3 1026.6 441.3 1009.9 448.6 1009.9 448.6 1014.1 453.9 1019.3 457 1023.5 457 1030.8 476.9 1030.8 476.9 1026.6 482.1 1022.4 486.3 1018.9 500.9 1018.9 505.1 1023.1 505.1 1030.8 499.9 1030.8 499.9 1046.5 505.1 1050.7 533.4 1050.7 537.6 1054.9 537.6 1066.4 540.7 1067.4 540.7 1073.7 537.6 1073.7 537.6 1077.9 530.3 1080 530.3 1086.3 535.5 1090.5 540.7 1094.6 540.7 1098.8 536.5 1098.8 536.5 1103 540.7 1107.2 542.8 1115.6 557.5 1115.6 557.5 1121.9 550.1 1124 549.1 1130.2 538.6 1130.2 537.6 1134.4 533.4 1138.6 537.6 1142.8 537.6 1147 532.3 1147 532.3 1166.9 528.2 1170 524 1167.9 524 1178.4 529.2 1180.5 529.2 1185.7 525 1186.7 521.9 1190.9 519.8 1197.2 519.8 1214 511.4 1214 511.4 1207.7 507.2 1206.6 500.9 1207.7 500.9 1224.4 492.6 1226.5 488.4 1234.9 480 1234.9 475.8 1228.6 461.2 1228.6 459.1 1237 454.9 1240.1 450.7 1234.9 446.5 1234.9 442.3 1241.2 454.9 1243.3 460.1 1249.5 460.1 1262.1 446.5 1264.2 441.3 1266.3 440.2 1272.6 475.8 1272.6 475.8 1277.8 442.3 1278.8 437.1 1279.9 434 1285.1 434 1291.4 437.1 1295.6 440.2 1299.8 438.2 1304 428.7 1305 428.7 1310.2 423.5 1311.3 417.2 1308.1 410.9 1306.1 400.5 1304 396.3 1296.6 389 1297.7 389 1314.4 381.6 1314.4 381.6 1307.1 377.5 1307.1 372.2 1310.2 360.7 1310.2 356.5 1305 353.4 1299.8 353.4 1291.4 349.2 1291.4 349.2 1294.5 333.5 1294.5 333.5 1287.2 324.1 1283 319.9 1277.8 310.5 1277.8 306.3 1272.6 302.1 1272.6 293.7 1268.4 293.7 1263.1 297.9 1262.1 297.9 1252.7 293.7 1249.5 293.7 1234.9 279.1 1234.9 272.8 1233.8 272.8 1230.7 279.1 1228.6 281.2 1222.3 285.4 1216 289.5 1211.9 295.8 1211.9 295.8 1207.7 302.1 1201.4 297.9 1200.4 295.8 1199.3 277 1199.3 277 1190.9 295.8 1189.9 301.1 1186.7 297.9 1178.4 295.8 1165.8 297.9 1162.7 302.1 1160.6 309.4 1159.5 314.7 1155.3 316.8 1151.2 319.9 1149.1 325.1 1144.9 318.8 1140.7 314.7 1138.6 302.1 1137.6 293.7 1136.5 293.7 1126 304.2 1124 310.5 1122.9 314.7 1125 318.8 1121.9 315.7 1115.6 312.6 1107.2 309.4 1105.1 308.4 1100.9 312.6 1094.6 316.8 1091.5 324.1 1091.5 325.1 1096.7 328.3 1100.9 335.6 1102 344 1100.9 348.1 1092.6 352.3 1086.3 352.3 1080 356.5 1075.8 358.6 1071.6 369.1 1070.6 381.6 1070.6 384.8 1065.3 384.8 1059.1 390 1058 390 1023.5 393.2 1021.4Z"/></clipPath><filter id="f24" filterUnits="userSpaceOnUse" x="217.2" y="963.4" width="378.2" height="376.4" color-interpolation-filters="sRGB"><feTurbulence type="fractalNoise" baseFrequency="0.05" numOctaves="2" seed="5" result="n"/><feColorMatrix in="n" type="matrix" values="1 0 0 0 0 1 0 0 0 0 1 0 0 0 0 0 0 0 0 1" result="ng"/><feComposite in="SourceGraphic" in2="ng" operator="arithmetic" k1="0" k2="1" k3="0.220" k4="-0.110" result="s"/><feComponentTransfer in="s"><feFuncR type="table" tableValues="0.001 0.006 0.014 0.026 0.042 0.061 0.082 0.105 0.129 0.156 0.183 0.211 0.238 0.265 0.291 0.316 0.348 0.373 0.398 0.423 0.447 0.472 0.497 0.522 0.547 0.572 0.597 0.622 0.646 0.671 0.695 0.718 0.747 0.770 0.791 0.812 0.832 0.851 0.869 0.886 0.902 0.916 0.930 0.942 0.952 0.961 0.969 0.976 0.982 0.985 0.987 0.988 0.987 0.985 0.981 0.976 0.970 0.963 0.955 0.949 0.946 0.952 0.966 0.988"/><feFuncG type="table" tableValues="0.000 0.005 0.011 0.019 0.028 0.037 0.043 0.047 0.047 0.045 0.040 0.037 0.037 0.040 0.046 0.053 0.065 0.074 0.083 0.093 0.102 0.111 0.119 0.128 0.137 0.146 0.155 0.164 0.174 0.184 0.195 0.207 0.222 0.236 0.251 0.267 0.284 0.302 0.322 0.343 0.364 0.387 0.411 0.436 0.462 0.489 0.516 0.544 0.579 0.608 0.638 0.668 0.698 0.728 0.759 0.790 0.821 0.851 0.882 0.910 0.937 0.961 0.981 0.998"/><feFuncB type="table" tableValues="0.014 0.039 0.072 0.106 0.141 0.178 0.215 0.253 0.291 0.325 0.355 0.379 0.396 0.409 0.419 0.425 0.430 0.432 0.433 0.433 0.431 0.428 0.424 0.420 0.414 0.406 0.398 0.389 0.378 0.367 0.354 0.341 0.323 0.307 0.291 0.275 0.257 0.240 0.221 0.203 0.184 0.165 0.145 0.125 0.105 0.084 0.063 0.044 0.026 0.024 0.035 0.058 0.088 0.121 0.157 0.196 0.239 0.286 0.337 0.395 0.459 0.524 0.587 0.645"/></feComponentTransfer></filter><filter id="b25" x="-20%" y="-20%" width="140%" height="140%" color-interpolation-filters="sRGB"><feGaussianBlur stdDeviation="5"/></filter><radialGradient id="g26"><stop offset="0" stop-color="rgb(208,208,208)" stop-opacity="1.0"/><stop offset="0.5" stop-color="rgb(208,208,208)" stop-opacity="0.7"/><stop offset="1" stop-color="rgb(208,208,208)" stop-opacity="0"/></radialGradient><clipPath id="clip_21"><rect x="823.9" y="963.4" width="379.5" height="376.4"/></clipPath><clipPath id="m27"><path d="M1065.1 1034.4 1104.9 1034.4 1104.9 1046.5 1109.1 1050.7 1140.5 1050.7 1144.7 1054.9 1144.7 1066.4 1148.9 1067.4 1148.9 1073.7 1144.7 1074.8 1144.7 1077.9 1140.5 1078.9 1140.5 1086.3 1144.7 1087.3 1144.7 1091.5 1148.9 1092.6 1148.9 1104.1 1144.7 1105.1 1144.7 1117.7 1140.5 1118.7 1140.5 1126 1136.3 1127.1 1136.3 1134.4 1129 1135.5 1129 1149.1 1124.8 1150.1 1124.8 1162.7 1120.6 1163.7 1120.6 1171 1116.4 1174.2 1113.3 1178.4 1109.1 1179.4 1105.9 1184.7 1104.9 1188.8 1096.5 1193 1093.4 1205.6 1089.2 1208.7 1085 1212.3 1080.8 1216 1076.6 1219.8 1072.9 1223.6 1068.3 1226.5 1053.6 1227.6 1052.6 1234.9 1045.2 1239.1 1036.9 1244.3 1028.5 1247.4 1020.1 1251.6 1011.8 1253.7 1000.2 1257.9 990.8 1262.1 977.2 1264.2 976.2 1266.3 960.5 1267.3 959.4 1270.5 912.3 1270.5 911.3 1266.3 904 1266.3 904 1248.5 908.1 1247.4 908.1 1241.2 904 1240.1 904 1238 884.1 1238 884.1 1234.9 880.9 1233.8 882 1228.6 876.7 1226.5 876.7 1215 896.6 1215 896.6 1211.9 904 1210.8 904 1214 912.3 1214 912.3 1203.5 904 1202.4 904 1198.3 884.1 1198.3 884.1 1190.9 904 1190.9 904 1186.7 908.1 1185.7 908.1 1176.3 904 1175.2 904 1162.7 908.1 1161.6 912.3 1160.6 919.7 1159.5 919.7 1155.3 904 1154.3 904 1151.2 908.1 1150.1 908.1 1142.8 912.3 1140.7 912.3 1134.4 916.5 1133.4 916.5 1126 923.8 1124 923.8 1115.6 928 1114.5 928 1110.3 932.2 1107.2 932.2 1103 944.8 1102 949 1100.9 953.1 1098.8 953.1 1090.5 959.4 1086.3 960.5 1078.9 964.7 1077.9 964.7 1074.8 976.2 1073.7 977.2 1070.6 992.9 1070.6 992.9 1059.1 1000.2 1054.9 1012.8 1053.8 1012.8 1050.7 1024.3 1050.7 1024.3 1053.8 1032.7 1054.9 1032.7 1059.1 1041.1 1058 1041.1 1051.7 1045.2 1050.7 1045.2 1039.2 1065.1 1038.1Z"/></clipPath><filter id="f28" filterUnits="userSpaceOnUse" x="823.9" y="963.4" width="379.5" height="376.4" color-interpolation-filters="sRGB"><feComponentTransfer in="SourceGraphic"><feFuncR type="table" tableValues="0.001 0.006 0.014 0.026 0.042 0.061 0.082 0.105 0.129 0.156 0.183 0.211 0.238 0.265 0.291 0.316 0.348 0.373 0.398 0.423 0.447 0.472 0.497 0.522 0.547 0.572 0.597 0.622 0.646 0.671 0.695 0.718 0.747 0.770 0.791 0.812 0.832 0.851 0.869 0.886 0.902 0.916 0.930 0.942 0.952 0.961 0.969 0.976 0.982 0.985 0.987 0.988 0.987 0.985 0.981 0.976 0.970 0.963 0.955 0.949 0.946 0.952 0.966 0.988"/><feFuncG type="table" tableValues="0.000 0.005 0.011 0.019 0.028 0.037 0.043 0.047 0.047 0.045 0.040 0.037 0.037 0.040 0.046 0.053 0.065 0.074 0.083 0.093 0.102 0.111 0.119 0.128 0.137 0.146 0.155 0.164 0.174 0.184 0.195 0.207 0.222 0.236 0.251 0.267 0.284 0.302 0.322 0.343 0.364 0.387 0.411 0.436 0.462 0.489 0.516 0.544 0.579 0.608 0.638 0.668 0.698 0.728 0.759 0.790 0.821 0.851 0.882 0.910 0.937 0.961 0.981 0.998"/><feFuncB type="table" tableValues="0.014 0.039 0.072 0.106 0.141 0.178 0.215 0.253 0.291 0.325 0.355 0.379 0.396 0.409 0.419 0.425 0.430 0.432 0.433 0.433 0.431 0.428 0.424 0.420 0.414 0.406 0.398 0.389 0.378 0.367 0.354 0.341 0.323 0.307 0.291 0.275 0.257 0.240 0.221 0.203 0.184 0.165 0.145 0.125 0.105 0.084 0.063 0.044 0.026 0.024 0.035 0.058 0.088 0.121 0.157 0.196 0.239 0.286 0.337 0.395 0.459 0.524 0.587 0.645"/></feComponentTransfer></filter><filter id="b29" x="-20%" y="-20%" width="140%" height="140%" color-interpolation-filters="sRGB"><feGaussianBlur stdDeviation="2"/></filter><linearGradient id="g30" gradientUnits="userSpaceOnUse" x1="-150" y1="0" x2="150" y2="0"><stop offset="0" stop-color="rgb(49,49,49)"/><stop offset="0.2" stop-color="rgb(76,76,76)"/><stop offset="0.45" stop-color="rgb(100,100,100)"/><stop offset="0.55" stop-color="rgb(100,100,100)"/><stop offset="0.8" stop-color="rgb(76,76,76)"/><stop offset="1" stop-color="rgb(49,49,49)"/></linearGradient><radialGradient id="g31"><stop offset="0" stop-color="rgb(211,211,211)"/><stop offset="0.18" stop-color="rgb(184,184,184)"/><stop offset="0.45" stop-color="rgb(142,142,142)"/><stop offset="0.75" stop-color="rgb(114,114,114)" stop-opacity="0.6"/><stop offset="1" stop-color="rgb(104,104,104)" stop-opacity="0"/></radialGradient><clipPath id="clip_22"><rect x="1417.8" y="963.4" width="377.9" height="376.4"/></clipPath><clipPath id="m32"><path d="M1657.8 1034.4 1697.6 1034.4 1697.6 1046.5 1701.8 1050.7 1733.2 1050.7 1737.4 1054.9 1737.4 1066.4 1741.6 1067.4 1741.6 1073.7 1737.4 1074.8 1737.4 1077.9 1733.2 1078.9 1733.2 1086.3 1737.4 1087.3 1737.4 1091.5 1741.6 1092.6 1741.6 1104.1 1737.4 1105.1 1737.4 1117.7 1733.2 1118.7 1733.2 1126 1729 1127.1 1729 1134.4 1721.7 1135.5 1721.7 1149.1 1717.5 1150.1 1717.5 1162.7 1713.3 1163.7 1713.3 1171 1709.1 1174.2 1706 1178.4 1701.8 1179.4 1698.6 1184.7 1697.6 1188.8 1689.2 1193 1686.1 1205.6 1681.9 1208.7 1677.7 1212.3 1673.5 1216 1669.3 1219.8 1665.6 1223.6 1661 1226.5 1646.3 1227.6 1645.3 1234.9 1637.9 1239.1 1629.6 1244.3 1621.2 1247.4 1612.8 1251.6 1604.5 1253.7 1592.9 1257.9 1583.5 1262.1 1569.9 1264.2 1568.9 1266.3 1553.2 1267.3 1552.1 1270.5 1505 1270.5 1504 1266.3 1496.7 1266.3 1496.7 1248.5 1500.8 1247.4 1500.8 1241.2 1496.7 1240.1 1496.7 1238 1476.8 1238 1476.8 1234.9 1473.6 1233.8 1474.7 1228.6 1469.4 1226.5 1469.4 1215 1489.3 1215 1489.3 1211.9 1496.7 1210.8 1496.7 1214 1505 1214 1505 1203.5 1496.7 1202.4 1496.7 1198.3 1476.8 1198.3 1476.8 1190.9 1496.7 1190.9 1496.7 1186.7 1500.8 1185.7 1500.8 1176.3 1496.7 1175.2 1496.7 1162.7 1500.8 1161.6 1505 1160.6 1512.4 1159.5 1512.4 1155.3 1496.7 1154.3 1496.7 1151.2 1500.8 1150.1 1500.8 1142.8 1505 1140.7 1505 1134.4 1509.2 1133.4 1509.2 1126 1516.5 1124 1516.5 1115.6 1520.7 1114.5 1520.7 1110.3 1524.9 1107.2 1524.9 1103 1537.5 1102 1541.7 1100.9 1545.8 1098.8 1545.8 1090.5 1552.1 1086.3 1553.2 1078.9 1557.4 1077.9 1557.4 1074.8 1568.9 1073.7 1569.9 1070.6 1585.6 1070.6 1585.6 1059.1 1592.9 1054.9 1605.5 1053.8 1605.5 1050.7 1617 1050.7 1617 1053.8 1625.4 1054.9 1625.4 1059.1 1633.8 1058 1633.8 1051.7 1637.9 1050.7 1637.9 1039.2 1657.8 1038.1Z"/></clipPath><filter id="f33" filterUnits="userSpaceOnUse" x="1417.8" y="963.4" width="377.9" height="376.4" color-interpolation-filters="sRGB"><feTurbulence type="fractalNoise" baseFrequency="0.05" numOctaves="2" seed="17" result="n"/><feColorMatrix in="n" type="matrix" values="1 0 0 0 0 1 0 0 0 0 1 0 0 0 0 0 0 0 0 1" result="ng"/><feComposite in="SourceGraphic" in2="ng" operator="arithmetic" k1="0" k2="1" k3="0.220" k4="-0.110" result="s"/><feComponentTransfer in="s"><feFuncR type="table" tableValues="0.001 0.006 0.014 0.026 0.042 0.061 0.082 0.105 0.129 0.156 0.183 0.211 0.238 0.265 0.291 0.316 0.348 0.373 0.398 0.423 0.447 0.472 0.497 0.522 0.547 0.572 0.597 0.622 0.646 0.671 0.695 0.718 0.747 0.770 0.791 0.812 0.832 0.851 0.869 0.886 0.902 0.916 0.930 0.942 0.952 0.961 0.969 0.976 0.982 0.985 0.987 0.988 0.987 0.985 0.981 0.976 0.970 0.963 0.955 0.949 0.946 0.952 0.966 0.988"/><feFuncG type="table" tableValues="0.000 0.005 0.011 0.019 0.028 0.037 0.043 0.047 0.047 0.045 0.040 0.037 0.037 0.040 0.046 0.053 0.065 0.074 0.083 0.093 0.102 0.111 0.119 0.128 0.137 0.146 0.155 0.164 0.174 0.184 0.195 0.207 0.222 0.236 0.251 0.267 0.284 0.302 0.322 0.343 0.364 0.387 0.411 0.436 0.462 0.489 0.516 0.544 0.579 0.608 0.638 0.668 0.698 0.728 0.759 0.790 0.821 0.851 0.882 0.910 0.937 0.961 0.981 0.998"/><feFuncB type="table" tableValues="0.014 0.039 0.072 0.106 0.141 0.178 0.215 0.253 0.291 0.325 0.355 0.379 0.396 0.409 0.419 0.425 0.430 0.432 0.433 0.433 0.431 0.428 0.424 0.420 0.414 0.406 0.398 0.389 0.378 0.367 0.354 0.341 0.323 0.307 0.291 0.275 0.257 0.240 0.221 0.203 0.184 0.165 0.145 0.125 0.105 0.084 0.063 0.044 0.026 0.024 0.035 0.058 0.088 0.121 0.157 0.196 0.239 0.286 0.337 0.395 0.459 0.524 0.587 0.645"/></feComponentTransfer></filter><filter id="b34" x="-20%" y="-20%" width="140%" height="140%" color-interpolation-filters="sRGB"><feGaussianBlur stdDeviation="4"/></filter><clipPath id="clipd0"><rect x="230.9" y="1503" width="378.4" height="377.3"/></clipPath><filter id="f35" filterUnits="userSpaceOnUse" x="230.9" y="1503" width="378.4" height="377.3" color-interpolation-filters="sRGB"><feTurbulence type="fractalNoise" baseFrequency="0.012 0.045" numOctaves="2" seed="31" result="n"/><feColorMatrix in="n" type="matrix" values="1 0 0 0 0 1 0 0 0 0 1 0 0 0 0 0 0 0 0 1" result="ng"/><feComposite in="SourceGraphic" in2="ng" operator="arithmetic" k1="0" k2="1" k3="0.170" k4="-0.085" result="s"/><feComponentTransfer in="s"><feFuncR type="table" tableValues="1.000 1.000 1.000 1.000 1.000 1.000 1.000 1.000 1.000 1.000 1.000 1.000 1.000 1.000 1.000 1.000 1.000 1.000 1.000 1.000 1.000 1.000 0.976 0.953 0.929 0.906 0.882 0.859 0.835 0.812 0.788 0.765 0.735 0.712 0.688 0.665 0.641 0.618 0.594 0.571 0.547 0.524 0.500 0.476 0.453 0.429 0.406 0.382 0.353 0.329 0.306 0.282 0.259 0.235 0.212 0.188 0.165 0.141 0.118 0.094 0.071 0.047 0.024 0.000"/><feFuncG type="table" tableValues="1.000 0.969 0.937 0.906 0.875 0.843 0.812 0.780 0.749 0.718 0.686 0.655 0.624 0.592 0.561 0.529 0.490 0.459 0.427 0.396 0.365 0.333 0.302 0.271 0.239 0.208 0.176 0.145 0.114 0.082 0.051 0.020 0.000 0.000 0.000 0.000 0.000 0.000 0.000 0.000 0.000 0.000 0.000 0.000 0.000 0.000 0.000 0.000 0.000 0.000 0.000 0.000 0.000 0.000 0.000 0.000 0.000 0.000 0.000 0.000 0.000 0.000 0.000 0.000"/><feFuncB type="table" tableValues="1.000 0.937 0.875 0.812 0.749 0.686 0.624 0.561 0.498 0.435 0.373 0.310 0.247 0.184 0.122 0.059 0.000 0.000 0.000 0.000 0.000 0.000 0.000 0.000 0.000 0.000 0.000 0.000 0.000 0.000 0.000 0.000 0.000 0.000 0.000 0.000 0.000 0.000 0.000 0.000 0.000 0.000 0.000 0.000 0.000 0.000 0.000 0.000 0.000 0.000 0.000 0.000 0.000 0.000 0.000 0.000 0.000 0.000 0.000 0.000 0.000 0.000 0.000 0.000"/></feComponentTransfer></filter><filter id="b36" x="-20%" y="-20%" width="140%" height="140%" color-interpolation-filters="sRGB"><feGaussianBlur stdDeviation="12"/></filter><filter id="b37" x="-20%" y="-20%" width="140%" height="140%" color-interpolation-filters="sRGB"><feGaussianBlur stdDeviation="4"/></filter><radialGradient id="g38"><stop offset="0" stop-color="rgb(247,247,247)"/><stop offset="1" stop-color="rgb(204,204,204)" stop-opacity="0"/></radialGradient><clipPath id="clipd1"><rect x="838.4" y="1502.1" width="378.2" height="378.2"/></clipPath><filter id="f39" filterUnits="userSpaceOnUse" x="838.4" y="1502.1" width="378.2" height="378.2" color-interpolation-filters="sRGB"><feTurbulence type="fractalNoise" baseFrequency="0.012 0.045" numOctaves="2" seed="32" result="n"/><feColorMatrix in="n" type="matrix" values="1 0 0 0 0 1 0 0 0 0 1 0 0 0 0 0 0 0 0 1" result="ng"/><feComposite in="SourceGraphic" in2="ng" operator="arithmetic" k1="0" k2="1" k3="0.170" k4="-0.085" result="s"/><feComponentTransfer in="s"><feFuncR type="table" tableValues="1.000 1.000 1.000 1.000 1.000 1.000 1.000 1.000 1.000 1.000 1.000 1.000 1.000 1.000 1.000 1.000 1.000 1.000 1.000 1.000 1.000 1.000 0.976 0.953 0.929 0.906 0.882 0.859 0.835 0.812 0.788 0.765 0.735 0.712 0.688 0.665 0.641 0.618 0.594 0.571 0.547 0.524 0.500 0.476 0.453 0.429 0.406 0.382 0.353 0.329 0.306 0.282 0.259 0.235 0.212 0.188 0.165 0.141 0.118 0.094 0.071 0.047 0.024 0.000"/><feFuncG type="table" tableValues="1.000 0.969 0.937 0.906 0.875 0.843 0.812 0.780 0.749 0.718 0.686 0.655 0.624 0.592 0.561 0.529 0.490 0.459 0.427 0.396 0.365 0.333 0.302 0.271 0.239 0.208 0.176 0.145 0.114 0.082 0.051 0.020 0.000 0.000 0.000 0.000 0.000 0.000 0.000 0.000 0.000 0.000 0.000 0.000 0.000 0.000 0.000 0.000 0.000 0.000 0.000 0.000 0.000 0.000 0.000 0.000 0.000 0.000 0.000 0.000 0.000 0.000 0.000 0.000"/><feFuncB type="table" tableValues="1.000 0.937 0.875 0.812 0.749 0.686 0.624 0.561 0.498 0.435 0.373 0.310 0.247 0.184 0.122 0.059 0.000 0.000 0.000 0.000 0.000 0.000 0.000 0.000 0.000 0.000 0.000 0.000 0.000 0.000 0.000 0.000 0.000 0.000 0.000 0.000 0.000 0.000 0.000 0.000 0.000 0.000 0.000 0.000 0.000 0.000 0.000 0.000 0.000 0.000 0.000 0.000 0.000 0.000 0.000 0.000 0.000 0.000 0.000 0.000 0.000 0.000 0.000 0.000"/></feComponentTransfer></filter><filter id="b40" x="-20%" y="-20%" width="140%" height="140%" color-interpolation-filters="sRGB"><feGaussianBlur stdDeviation="12"/></filter><filter id="b41" x="-20%" y="-20%" width="140%" height="140%" color-interpolation-filters="sRGB"><feGaussianBlur stdDeviation="4"/></filter><radialGradient id="g42"><stop offset="0" stop-color="rgb(247,247,247)"/><stop offset="1" stop-color="rgb(204,204,204)" stop-opacity="0"/></radialGradient></defs>
<rect width="1993" height="1971" fill="#fff"/>
<g clip-path="url(#clip_00)">
<g filter="url(#f1)"><rect x="212.2" y="-3.2" width="388.2" height="387.5" fill="rgb(15,15,15)"/><g filter="url(#b2)"><circle cx="264.9" cy="83.7" r="9.4" fill="rgb(5,5,5)"/><circle cx="229.3" cy="249.1" r="14.7" fill="rgb(5,5,5)"/><circle cx="554.8" cy="69.1" r="12.6" fill="rgb(5,5,5)"/><circle cx="262.8" cy="347.5" r="10.5" fill="rgb(5,5,5)"/><circle cx="471" cy="52.3" r="7.3" fill="rgb(5,5,5)"/><circle cx="512.9" cy="92.1" r="6.3" fill="rgb(5,5,5)"/><circle cx="297.3" cy="39.8" r="7.3" fill="rgb(5,5,5)"/></g><g filter="url(#b3)"><path d="M425.7 115.3C425.4 112.9 424 109.2 424.8 106.9C425.7 104.6 428.3 102.4 430.7 101.5C433.1 100.7 436 101 439.1 101.9C442.1 102.8 445.8 105.2 449.1 106.9C452.5 108.6 456.1 111.4 459.2 112.2C462.2 113.1 464.5 112.4 467.5 111.9C470.6 111.4 474.2 110.6 477.6 109.4C480.9 108.2 484.6 106.3 487.6 104.9C490.7 103.5 493.5 101.7 496 101C498.5 100.4 501.3 99.8 502.7 101C504.1 102.3 504.4 106.2 504.4 108.6C504.4 110.9 504.1 113.6 502.7 115.3C501.3 116.9 498.8 117.5 496 118.6C493.2 119.7 488.5 120.3 486 122C483.5 123.6 481.6 126.4 480.9 128.7C480.2 130.9 480.4 133.3 481.8 135.4C483.2 137.4 486.1 139.5 489.3 141.2C492.5 142.9 497.4 143.9 501 145.4C504.7 146.9 509 148.6 511.1 150.4C513.2 152.2 513.9 154.5 513.6 156.3C513.3 158.1 511.8 159.9 509.4 161.3C507 162.7 501.7 163.4 499.4 164.7C497 165.9 494.9 167.7 495.2 168.8C495.5 170 499.4 170.2 501 171.4C502.7 172.5 504.9 174 505.2 175.5C505.5 177.1 504.2 179.2 502.7 180.6C501.2 182 497.7 182.5 496 183.9C494.3 185.3 493.1 186.7 492.7 188.9C492.2 191.2 493.6 194.8 493.5 197.3C493.4 199.8 492.7 201.6 491.8 204C491 206.4 489.3 209.2 488.5 211.5C487.6 213.9 487.6 216.3 486.8 218.2C486 220.2 485 222 483.5 223.3C481.9 224.5 480 225.1 477.6 225.8C475.2 226.5 471.3 226.6 469.2 227.5C467.1 228.3 466 229.1 465 230.8C464.1 232.5 463.8 235 463.4 237.5C462.9 240 462.4 243.1 462.5 245.9C462.7 248.7 462.8 252.3 464.2 254.2C465.6 256.2 469.1 256.6 470.9 257.6C472.7 258.6 474.9 259.1 475.1 260.1C475.2 261.1 473.3 263 471.7 263.5C470.2 263.9 468.2 263.6 465.9 262.6C463.5 261.6 460.6 259 457.5 257.6C454.4 256.2 450.5 254 447.5 254.2C444.4 254.5 441.7 257.5 439.1 259.3C436.4 261.1 433.4 262.9 431.5 265.1C429.7 267.4 428.3 270.4 428.2 272.7C428.1 274.9 429.2 276.7 430.7 278.5C432.2 280.3 435.9 281.9 437.4 283.5C438.9 285.2 440.1 286.8 439.9 288.6C439.8 290.4 438 292.5 436.6 294.4C435.2 296.4 433.1 298.6 431.5 300.3C430 302 428.6 303.8 427.4 304.5C426.1 305.1 426.4 305 424.2 304.1C421.9 303.3 417.4 300.8 414 299.5C410.5 298.1 407.4 296.4 403.6 296.3C399.8 296.2 394.5 298.8 391 298.8C387.6 298.8 384.7 295.7 382.8 296.3C380.9 296.8 381.3 300.1 379.5 302.1C377.7 304.2 376.9 307 371.9 308.7C367 310.3 355.9 311.6 349.7 312C343.5 312.4 338.2 312.3 334.8 311.2C331.3 310.1 329.9 307.8 329.1 305.3C328.2 302.8 327.7 299.5 329.7 296.3C331.8 293.1 335.8 287.7 341.5 286.1C347.1 284.4 358.6 285.8 363.7 286.4C368.8 287 369.4 288.8 371.9 289.7C374.4 290.7 376 293.5 378.6 292.3C381.3 291 386.1 285.1 387.8 282.2C389.6 279.3 390.9 276.6 389.3 274.8C387.8 273.1 383.8 271.2 378.6 271.5C373.4 271.8 364.2 275.3 358 276.8C351.8 278.4 344.9 280.6 341.5 280.5C338 280.4 337.8 279.1 337.3 276.3C336.7 273.6 338.4 266.8 338.1 264C337.8 261.1 336.6 260.9 335.3 259.3C333.9 257.6 331.9 256.2 330.2 254.2C328.6 252.3 326.7 249.4 325.2 247.5C323.7 245.7 322.7 244.2 321 243.4C319.4 242.5 317.3 243.2 315.2 242.5C313.1 241.8 310.6 240.4 308.5 239.2C306.4 237.9 303.7 236.7 302.6 235C301.5 233.3 301.1 230.7 301.8 229.1C302.5 227.6 304.4 226.8 306.8 225.8C309.2 224.8 313.5 224.8 316 223.3C318.5 221.7 321.2 219.2 321.9 216.6C322.6 213.9 320.3 210.6 320.2 207.4C320 204.1 320.2 200.1 321 197.3C321.9 194.5 322.8 192 325.2 190.6C327.6 189.2 332.3 189.6 335.3 188.9C338.2 188.2 341.5 187.5 342.8 186.4C344 185.3 343.6 183.5 342.8 182.2C342 181 339.2 180.6 337.8 178.9C336.4 177.2 334.6 174.4 334.4 172.2C334.3 170 336.2 168 336.9 165.5C337.6 163 337.5 159.5 338.6 157.1C339.7 154.7 341.1 152.5 343.6 151.3C346.1 150 350.1 149.6 353.7 149.6C357.3 149.6 362.3 151 365.4 151.3C368.5 151.5 370.6 152 372.1 151.3C373.6 150.6 374.7 148.9 374.6 147.1C374.6 145.3 371.9 142.6 371.8 140.4C371.6 138.1 372.7 135.9 373.8 133.7C374.8 131.4 376.1 128.5 378 127C379.8 125.4 381.7 124.5 384.7 124.5C387.6 124.5 392.1 126.3 395.5 127C399 127.7 402.5 128.4 405.6 128.7C408.7 128.9 411.2 129.1 414 128.7C416.8 128.2 420.2 127.4 422.3 126.1C424.4 124.9 426 122.9 426.5 121.1C427.1 119.3 426 117.6 425.7 115.3Z" fill="rgb(31,31,31)"/><path d="M358.7 173.9C356.7 175.8 355.1 177.2 353.7 180.6C352.3 183.9 351.6 190.3 350.3 194C349.1 197.6 348 200.4 346.1 202.3C344.3 204.3 341.3 203.7 339.4 205.7C337.6 207.6 335.7 210.4 335.3 214.1C334.8 217.7 336 223.5 336.6 227.5C337.2 231.4 337.4 234.4 338.6 237.5C339.8 240.6 341.4 242.8 343.6 245.9C345.9 248.9 349.4 253.1 352 255.9C354.7 258.7 356.7 260.8 359.5 262.6C362.3 264.4 365.3 266.2 368.7 266.8C372.2 267.4 376.3 266.7 380.5 266C384.7 265.3 390 263.6 393.9 262.6C397.8 261.6 400.6 260.7 403.9 260.1C407.3 259.5 410.3 259.7 414 259.3C417.6 258.8 422.6 259 425.7 257.6C428.8 256.2 430.4 253.4 432.4 250.9C434.3 248.4 435.5 245.3 437.4 242.5C439.4 239.7 441.9 236.7 444.1 234.1C446.3 231.6 448.6 230 450.8 227.5C453 224.9 455.3 222.1 457.5 219.1C459.7 216 461.7 211.8 464.2 209C466.7 206.2 470.5 204.8 472.6 202.3C474.7 199.8 475.9 197.6 476.8 194C477.6 190.3 477.2 183.9 477.6 180.6C478 177.2 478.6 176.7 479.3 173.9C480 171.1 480.4 167.2 481.8 163.8C483.2 160.5 486.5 156.6 487.6 153.8C488.8 151 489.3 149.6 488.5 147.1C487.6 144.6 484.4 141.2 482.6 138.7C480.8 136.2 478.8 134.5 477.6 132C476.3 129.5 475.6 125.7 475.1 123.6C474.5 121.5 476.1 120.1 474.2 119.4C472.4 118.7 468.1 119.3 464.2 119.4C460.3 119.6 454.4 119.7 450.8 120.3C447.2 120.8 444.7 121.4 442.4 122.8C440.2 124.2 438.8 127 437.4 128.7C436 130.3 436.3 131.4 434.1 132.8C431.8 134.2 427.6 135.8 424 137C420.4 138.3 416.2 139.3 412.3 140.4C408.4 141.5 404.2 142.3 400.6 143.7C396.9 145.1 393.3 146.5 390.5 148.7C387.7 151 386.3 154.6 383.8 157.1C381.3 159.6 378.5 161.9 375.4 163.8C372.4 165.8 368.2 167.2 365.4 168.8C362.6 170.5 360.7 171.9 358.7 173.9Z" fill="rgb(45,45,45)"/><path d="M368.3 128.1C368.2 128.9 367.5 129.8 366.7 130.4C365.8 130.9 364.5 131.3 363.3 131.4C362.1 131.5 360.5 131.2 359.4 130.7C358.3 130.3 357.1 129.4 356.5 128.6C355.9 127.8 355.6 126.7 355.8 125.9C355.9 125 356.6 124.1 357.4 123.6C358.3 123 359.6 122.6 360.8 122.6C362 122.5 363.6 122.8 364.7 123.2C365.8 123.7 367 124.5 367.6 125.4C368.2 126.2 368.5 127.2 368.3 128.1Z" fill="rgb(30,30,30)"/><path d="M478.8 212.4C478.8 213.3 478.4 214.3 477.9 215C477.4 215.8 476.5 216.4 475.6 216.7C474.8 217 473.7 217 472.8 216.7C472 216.4 471.1 215.8 470.6 215C470.1 214.3 469.7 213.3 469.7 212.4C469.7 211.5 470.1 210.4 470.6 209.7C471.1 209 472 208.4 472.8 208.1C473.7 207.8 474.8 207.8 475.6 208.1C476.5 208.4 477.4 209 477.9 209.7C478.4 210.4 478.8 211.5 478.8 212.4Z" fill="rgb(30,30,30)"/><path d="M524.6 182.2C524.6 182.9 524.3 183.7 523.8 184.2C523.3 184.7 522.4 185.2 521.6 185.4C520.8 185.6 519.8 185.6 518.9 185.4C518.1 185.2 517.3 184.7 516.8 184.2C516.3 183.7 515.9 182.9 515.9 182.2C515.9 181.6 516.3 180.8 516.8 180.3C517.3 179.7 518.1 179.3 518.9 179.1C519.8 178.9 520.8 178.9 521.6 179.1C522.4 179.3 523.3 179.7 523.8 180.3C524.3 180.8 524.6 181.6 524.6 182.2Z" fill="rgb(30,30,30)"/><path d="M358.7 223.3C358.7 221.3 360.9 218.7 362.1 215.7C363.2 212.8 364.6 209.3 365.4 205.7C366.2 202.1 366.2 197.9 367.1 194C367.9 190.1 368.7 185.6 370.4 182.2C372.1 178.9 374.3 176.9 377.1 173.9C379.9 170.8 383.8 166.6 387.2 163.8C390.5 161 393.6 159.2 397.2 157.1C400.8 155 405.3 152.9 408.9 151.3C412.6 149.6 415.4 147.8 419 147.1C422.6 146.4 426.8 146.7 430.7 147.1C434.6 147.5 438.5 148.6 442.4 149.6C446.3 150.6 451.6 151.4 454.1 152.9C456.7 154.5 457.2 156.1 457.5 158.8C457.8 161.4 456.1 165.2 455.8 168.8C455.5 172.5 455.5 176.4 455.8 180.6C456.1 184.8 457.5 189.5 457.5 194C457.5 198.4 456.9 203.4 455.8 207.4C454.7 211.3 453.3 214.3 450.8 217.4C448.3 220.5 444.1 223.3 440.8 225.8C437.4 228.3 434.1 230.5 430.7 232.5C427.4 234.4 424.3 236.1 420.7 237.5C417 238.9 412.8 240.1 408.9 240.8C405 241.5 401.1 241.8 397.2 241.7C393.3 241.5 388.8 241 385.5 240C382.1 239 379.9 237.4 377.1 235.8C374.3 234.3 371.3 232.2 368.7 230.8C366.2 229.4 363.7 228.7 362.1 227.5C360.4 226.2 358.7 225.2 358.7 223.3Z" fill="rgb(64,64,64)"/><path d="M375.4 207.4C375.2 203.4 375.4 198.1 376.3 194C377.1 189.8 378.4 185.6 380.5 182.2C382.6 178.9 385.5 176.4 388.8 173.9C392.2 171.4 396.7 169.1 400.6 167.2C404.5 165.2 408.4 163.3 412.3 162.1C416.2 161 420.4 160.2 424 160.5C427.6 160.7 431.7 162.1 434.1 163.8C436.4 165.5 437.4 167.7 438.2 170.5C439.1 173.3 439.1 176.9 439.1 180.6C439.1 184.2 438.8 188.7 438.2 192.3C437.7 195.9 437.1 199.3 435.7 202.3C434.3 205.4 432.4 208.5 429.9 210.7C427.4 212.9 423.9 214.2 420.7 215.7C417.4 217.3 414 218.7 410.6 219.9C407.3 221.2 403.9 222.3 400.6 223.3C397.2 224.2 393.6 225.8 390.5 225.8C387.4 225.8 384.2 224.7 382.1 223.3C380.1 221.9 379.1 220.1 378 217.4C376.8 214.8 375.7 211.3 375.4 207.4Z" fill="rgb(103,103,103)"/><path d="M385.5 194C385.5 190.9 385.8 186.7 387.2 183.9C388.6 181.1 391.1 178.9 393.9 177.2C396.7 175.5 400.6 174.6 403.9 173.9C407.3 173.2 410.9 172.9 414 173C417 173.2 420.1 173.4 422.3 174.7C424.6 176 426.4 178.2 427.4 180.6C428.3 182.9 428.5 186.1 428.2 188.9C427.9 191.7 426.9 194.8 425.7 197.3C424.4 199.8 422.9 202.1 420.7 204C418.4 206 415.4 207.8 412.3 209C409.2 210.3 405.6 211.5 402.2 211.5C398.9 211.5 394.7 210.6 392.2 209C389.7 207.5 388.3 204.8 387.2 202.3C386.1 199.8 385.5 197 385.5 194Z" fill="rgb(162,162,162)"/><path d="M331.2 41.9C331.2 42.4 330.9 42.9 330.3 43.3C329.8 43.7 328.9 44.1 328 44.3C327.2 44.4 326.1 44.4 325.2 44.3C324.3 44.1 323.4 43.7 322.9 43.3C322.4 42.9 322 42.4 322 41.9C322 41.4 322.4 40.8 322.9 40.4C323.4 40 324.3 39.6 325.2 39.5C326.1 39.3 327.2 39.3 328 39.5C328.9 39.6 329.8 40 330.3 40.4C330.9 40.8 331.2 41.4 331.2 41.9Z" fill="rgb(26,26,26)"/><path d="M537.9 214.4C537.5 215.6 536.3 216.9 535 217.5C533.7 218.2 531.7 218.5 530 218.3C528.3 218.1 526.3 217.4 524.9 216.5C523.5 215.5 522.2 214 521.6 212.7C521 211.3 520.9 209.6 521.4 208.4C521.8 207.2 523 205.9 524.3 205.3C525.6 204.6 527.6 204.3 529.3 204.5C531 204.7 533 205.4 534.4 206.4C535.8 207.3 537.1 208.8 537.7 210.1C538.3 211.5 538.4 213.2 537.9 214.4Z" fill="rgb(26,26,26)"/><path d="M498.3 242.8C497.7 240.9 497.9 235.1 499.3 232.3C500.7 229.5 503.3 227.3 506.6 226.1C509.9 224.8 516 224.8 519.2 225C522.3 225.2 524.8 226.1 525.5 227.1C526.2 228.2 525.5 230.2 523.4 231.3C521.3 232.3 515.7 232.2 512.9 233.4C510.1 234.6 508.4 236.9 506.6 238.6C504.9 240.4 503.8 243.2 502.4 243.9C501 244.5 498.8 244.7 498.3 242.8Z" fill="rgb(26,26,26)"/><path d="M423.3 324.4C423.3 325.3 423 326.4 422.4 327.1C421.9 327.9 421 328.5 420.1 328.8C419.3 329.1 418.1 329.1 417.3 328.8C416.4 328.5 415.5 327.9 415 327.1C414.5 326.4 414.1 325.3 414.1 324.4C414.1 323.5 414.5 322.5 415 321.7C415.5 321 416.4 320.3 417.3 320.1C418.1 319.8 419.3 319.8 420.1 320.1C421 320.3 421.9 321 422.4 321.7C423 322.5 423.3 323.5 423.3 324.4Z" fill="rgb(26,26,26)"/><path d="M464.1 346.9C463.7 348.5 462.8 350.2 461.8 351.3C460.8 352.5 459.4 353.3 458.2 353.5C457 353.7 455.6 353.4 454.7 352.6C453.8 351.8 452.9 350.4 452.6 348.9C452.3 347.4 452.4 345.4 452.8 343.9C453.2 342.3 454.2 340.5 455.2 339.4C456.2 338.3 457.6 337.4 458.8 337.2C460 337 461.4 337.4 462.3 338.1C463.2 338.9 464 340.4 464.3 341.8C464.6 343.3 464.6 345.3 464.1 346.9Z" fill="rgb(26,26,26)"/><path d="M518.1 331.8C518.1 332.4 517.7 333.2 517.1 333.7C516.5 334.3 515.5 334.7 514.5 334.9C513.5 335.2 512.3 335.2 511.3 334.9C510.3 334.7 509.3 334.3 508.7 333.7C508.1 333.2 507.7 332.4 507.7 331.8C507.7 331.1 508.1 330.3 508.7 329.8C509.3 329.3 510.3 328.8 511.3 328.6C512.3 328.4 513.5 328.4 514.5 328.6C515.5 328.8 516.5 329.3 517.1 329.8C517.7 330.3 518.1 331.1 518.1 331.8Z" fill="rgb(26,26,26)"/><path d="M524.4 366.3C524 364.6 524.7 360.8 525.9 358.3C527.1 355.9 530.3 352.1 531.7 351.6C533.1 351.2 534.5 354.1 534.3 355.8C534 357.6 531 360 530.1 362.1C529.1 364.3 529.5 368.1 528.6 368.8C527.7 369.5 524.9 368 524.4 366.3Z" fill="rgb(26,26,26)"/></g><ellipse cx="407.8" cy="191.5" rx="24" ry="19" transform="rotate(-28 407.8 191.5)" fill="url(#g4)"/></g><g fill="none" stroke="#000" stroke-width="2.9" stroke-linejoin="round" stroke-linecap="round"><path d="M425.7 115.3C425.4 112.9 424 109.2 424.8 106.9C425.7 104.6 428.3 102.4 430.7 101.5C433.1 100.7 436 101 439.1 101.9C442.1 102.8 445.8 105.2 449.1 106.9C452.5 108.6 456.1 111.4 459.2 112.2C462.2 113.1 464.5 112.4 467.5 111.9C470.6 111.4 474.2 110.6 477.6 109.4C480.9 108.2 484.6 106.3 487.6 104.9C490.7 103.5 493.5 101.7 496 101C498.5 100.4 501.3 99.8 502.7 101C504.1 102.3 504.4 106.2 504.4 108.6C504.4 110.9 504.1 113.6 502.7 115.3C501.3 116.9 498.8 117.5 496 118.6C493.2 119.7 488.5 120.3 486 122C483.5 123.6 481.6 126.4 480.9 128.7C480.2 130.9 480.4 133.3 481.8 135.4C483.2 137.4 486.1 139.5 489.3 141.2C492.5 142.9 497.4 143.9 501 145.4C504.7 146.9 509 148.6 511.1 150.4C513.2 152.2 513.9 154.5 513.6 156.3C513.3 158.1 511.8 159.9 509.4 161.3C507 162.7 501.7 163.4 499.4 164.7C497 165.9 494.9 167.7 495.2 168.8C495.5 170 499.4 170.2 501 171.4C502.7 172.5 504.9 174 505.2 175.5C505.5 177.1 504.2 179.2 502.7 180.6C501.2 182 497.7 182.5 496 183.9C494.3 185.3 493.1 186.7 492.7 188.9C492.2 191.2 493.6 194.8 493.5 197.3C493.4 199.8 492.7 201.6 491.8 204C491 206.4 489.3 209.2 488.5 211.5C487.6 213.9 487.6 216.3 486.8 218.2C486 220.2 485 222 483.5 223.3C481.9 224.5 480 225.1 477.6 225.8C475.2 226.5 471.3 226.6 469.2 227.5C467.1 228.3 466 229.1 465 230.8C464.1 232.5 463.8 235 463.4 237.5C462.9 240 462.4 243.1 462.5 245.9C462.7 248.7 462.8 252.3 464.2 254.2C465.6 256.2 469.1 256.6 470.9 257.6C472.7 258.6 474.9 259.1 475.1 260.1C475.2 261.1 473.3 263 471.7 263.5C470.2 263.9 468.2 263.6 465.9 262.6C463.5 261.6 460.6 259 457.5 257.6C454.4 256.2 450.5 254 447.5 254.2C444.4 254.5 441.7 257.5 439.1 259.3C436.4 261.1 433.4 262.9 431.5 265.1C429.7 267.4 428.3 270.4 428.2 272.7C428.1 274.9 429.2 276.7 430.7 278.5C432.2 280.3 435.9 281.9 437.4 283.5C438.9 285.2 440.1 286.8 439.9 288.6C439.8 290.4 438 292.5 436.6 294.4C435.2 296.4 433.1 298.6 431.5 300.3C430 302 428.6 303.8 427.4 304.5C426.1 305.1 426.4 305 424.2 304.1C421.9 303.3 417.4 300.8 414 299.5C410.5 298.1 407.4 296.4 403.6 296.3C399.8 296.2 394.5 298.8 391 298.8C387.6 298.8 384.7 295.7 382.8 296.3C380.9 296.8 381.3 300.1 379.5 302.1C377.7 304.2 376.9 307 371.9 308.7C367 310.3 355.9 311.6 349.7 312C343.5 312.4 338.2 312.3 334.8 311.2C331.3 310.1 329.9 307.8 329.1 305.3C328.2 302.8 327.7 299.5 329.7 296.3C331.8 293.1 335.8 287.7 341.5 286.1C347.1 284.4 358.6 285.8 363.7 286.4C368.8 287 369.4 288.8 371.9 289.7C374.4 290.7 376 293.5 378.6 292.3C381.3 291 386.1 285.1 387.8 282.2C389.6 279.3 390.9 276.6 389.3 274.8C387.8 273.1 383.8 271.2 378.6 271.5C373.4 271.8 364.2 275.3 358 276.8C351.8 278.4 344.9 280.6 341.5 280.5C338 280.4 337.8 279.1 337.3 276.3C336.7 273.6 338.4 266.8 338.1 264C337.8 261.1 336.6 260.9 335.3 259.3C333.9 257.6 331.9 256.2 330.2 254.2C328.6 252.3 326.7 249.4 325.2 247.5C323.7 245.7 322.7 244.2 321 243.4C319.4 242.5 317.3 243.2 315.2 242.5C313.1 241.8 310.6 240.4 308.5 239.2C306.4 237.9 303.7 236.7 302.6 235C301.5 233.3 301.1 230.7 301.8 229.1C302.5 227.6 304.4 226.8 306.8 225.8C309.2 224.8 313.5 224.8 316 223.3C318.5 221.7 321.2 219.2 321.9 216.6C322.6 213.9 320.3 210.6 320.2 207.4C320 204.1 320.2 200.1 321 197.3C321.9 194.5 322.8 192 325.2 190.6C327.6 189.2 332.3 189.6 335.3 188.9C338.2 188.2 341.5 187.5 342.8 186.4C344 185.3 343.6 183.5 342.8 182.2C342 181 339.2 180.6 337.8 178.9C336.4 177.2 334.6 174.4 334.4 172.2C334.3 170 336.2 168 336.9 165.5C337.6 163 337.5 159.5 338.6 157.1C339.7 154.7 341.1 152.5 343.6 151.3C346.1 150 350.1 149.6 353.7 149.6C357.3 149.6 362.3 151 365.4 151.3C368.5 151.5 370.6 152 372.1 151.3C373.6 150.6 374.7 148.9 374.6 147.1C374.6 145.3 371.9 142.6 371.8 140.4C371.6 138.1 372.7 135.9 373.8 133.7C374.8 131.4 376.1 128.5 378 127C379.8 125.4 381.7 124.5 384.7 124.5C387.6 124.5 392.1 126.3 395.5 127C399 127.7 402.5 128.4 405.6 128.7C408.7 128.9 411.2 129.1 414 128.7C416.8 128.2 420.2 127.4 422.3 126.1C424.4 124.9 426 122.9 426.5 121.1C427.1 119.3 426 117.6 425.7 115.3Z"/><path d="M358.7 173.9C356.7 175.8 355.1 177.2 353.7 180.6C352.3 183.9 351.6 190.3 350.3 194C349.1 197.6 348 200.4 346.1 202.3C344.3 204.3 341.3 203.7 339.4 205.7C337.6 207.6 335.7 210.4 335.3 214.1C334.8 217.7 336 223.5 336.6 227.5C337.2 231.4 337.4 234.4 338.6 237.5C339.8 240.6 341.4 242.8 343.6 245.9C345.9 248.9 349.4 253.1 352 255.9C354.7 258.7 356.7 260.8 359.5 262.6C362.3 264.4 365.3 266.2 368.7 266.8C372.2 267.4 376.3 266.7 380.5 266C384.7 265.3 390 263.6 393.9 262.6C397.8 261.6 400.6 260.7 403.9 260.1C407.3 259.5 410.3 259.7 414 259.3C417.6 258.8 422.6 259 425.7 257.6C428.8 256.2 430.4 253.4 432.4 250.9C434.3 248.4 435.5 245.3 437.4 242.5C439.4 239.7 441.9 236.7 444.1 234.1C446.3 231.6 448.6 230 450.8 227.5C453 224.9 455.3 222.1 457.5 219.1C459.7 216 461.7 211.8 464.2 209C466.7 206.2 470.5 204.8 472.6 202.3C474.7 199.8 475.9 197.6 476.8 194C477.6 190.3 477.2 183.9 477.6 180.6C478 177.2 478.6 176.7 479.3 173.9C480 171.1 480.4 167.2 481.8 163.8C483.2 160.5 486.5 156.6 487.6 153.8C488.8 151 489.3 149.6 488.5 147.1C487.6 144.6 484.4 141.2 482.6 138.7C480.8 136.2 478.8 134.5 477.6 132C476.3 129.5 475.6 125.7 475.1 123.6C474.5 121.5 476.1 120.1 474.2 119.4C472.4 118.7 468.1 119.3 464.2 119.4C460.3 119.6 454.4 119.7 450.8 120.3C447.2 120.8 444.7 121.4 442.4 122.8C440.2 124.2 438.8 127 437.4 128.7C436 130.3 436.3 131.4 434.1 132.8C431.8 134.2 427.6 135.8 424 137C420.4 138.3 416.2 139.3 412.3 140.4C408.4 141.5 404.2 142.3 400.6 143.7C396.9 145.1 393.3 146.5 390.5 148.7C387.7 151 386.3 154.6 383.8 157.1C381.3 159.6 378.5 161.9 375.4 163.8C372.4 165.8 368.2 167.2 365.4 168.8C362.6 170.5 360.7 171.9 358.7 173.9Z"/><path d="M358.7 223.3C358.7 221.3 360.9 218.7 362.1 215.7C363.2 212.8 364.6 209.3 365.4 205.7C366.2 202.1 366.2 197.9 367.1 194C367.9 190.1 368.7 185.6 370.4 182.2C372.1 178.9 374.3 176.9 377.1 173.9C379.9 170.8 383.8 166.6 387.2 163.8C390.5 161 393.6 159.2 397.2 157.1C400.8 155 405.3 152.9 408.9 151.3C412.6 149.6 415.4 147.8 419 147.1C422.6 146.4 426.8 146.7 430.7 147.1C434.6 147.5 438.5 148.6 442.4 149.6C446.3 150.6 451.6 151.4 454.1 152.9C456.7 154.5 457.2 156.1 457.5 158.8C457.8 161.4 456.1 165.2 455.8 168.8C455.5 172.5 455.5 176.4 455.8 180.6C456.1 184.8 457.5 189.5 457.5 194C457.5 198.4 456.9 203.4 455.8 207.4C454.7 211.3 453.3 214.3 450.8 217.4C448.3 220.5 444.1 223.3 440.8 225.8C437.4 228.3 434.1 230.5 430.7 232.5C427.4 234.4 424.3 236.1 420.7 237.5C417 238.9 412.8 240.1 408.9 240.8C405 241.5 401.1 241.8 397.2 241.7C393.3 241.5 388.8 241 385.5 240C382.1 239 379.9 237.4 377.1 235.8C374.3 234.3 371.3 232.2 368.7 230.8C366.2 229.4 363.7 228.7 362.1 227.5C360.4 226.2 358.7 225.2 358.7 223.3Z"/><path d="M375.4 207.4C375.2 203.4 375.4 198.1 376.3 194C377.1 189.8 378.4 185.6 380.5 182.2C382.6 178.9 385.5 176.4 388.8 173.9C392.2 171.4 396.7 169.1 400.6 167.2C404.5 165.2 408.4 163.3 412.3 162.1C416.2 161 420.4 160.2 424 160.5C427.6 160.7 431.7 162.1 434.1 163.8C436.4 165.5 437.4 167.7 438.2 170.5C439.1 173.3 439.1 176.9 439.1 180.6C439.1 184.2 438.8 188.7 438.2 192.3C437.7 195.9 437.1 199.3 435.7 202.3C434.3 205.4 432.4 208.5 429.9 210.7C427.4 212.9 423.9 214.2 420.7 215.7C417.4 217.3 414 218.7 410.6 219.9C407.3 221.2 403.9 222.3 400.6 223.3C397.2 224.2 393.6 225.8 390.5 225.8C387.4 225.8 384.2 224.7 382.1 223.3C380.1 221.9 379.1 220.1 378 217.4C376.8 214.8 375.7 211.3 375.4 207.4Z"/><path d="M385.5 194C385.5 190.9 385.8 186.7 387.2 183.9C388.6 181.1 391.1 178.9 393.9 177.2C396.7 175.5 400.6 174.6 403.9 173.9C407.3 173.2 410.9 172.9 414 173C417 173.2 420.1 173.4 422.3 174.7C424.6 176 426.4 178.2 427.4 180.6C428.3 182.9 428.5 186.1 428.2 188.9C427.9 191.7 426.9 194.8 425.7 197.3C424.4 199.8 422.9 202.1 420.7 204C418.4 206 415.4 207.8 412.3 209C409.2 210.3 405.6 211.5 402.2 211.5C398.9 211.5 394.7 210.6 392.2 209C389.7 207.5 388.3 204.8 387.2 202.3C386.1 199.8 385.5 197 385.5 194Z"/><path d="M368.3 128.1C368.2 128.9 367.5 129.8 366.7 130.4C365.8 130.9 364.5 131.3 363.3 131.4C362.1 131.5 360.5 131.2 359.4 130.7C358.3 130.3 357.1 129.4 356.5 128.6C355.9 127.8 355.6 126.7 355.8 125.9C355.9 125 356.6 124.1 357.4 123.6C358.3 123 359.6 122.6 360.8 122.6C362 122.5 363.6 122.8 364.7 123.2C365.8 123.7 367 124.5 367.6 125.4C368.2 126.2 368.5 127.2 368.3 128.1Z"/><path d="M478.8 212.4C478.8 213.3 478.4 214.3 477.9 215C477.4 215.8 476.5 216.4 475.6 216.7C474.8 217 473.7 217 472.8 216.7C472 216.4 471.1 215.8 470.6 215C470.1 214.3 469.7 213.3 469.7 212.4C469.7 211.5 470.1 210.4 470.6 209.7C471.1 209 472 208.4 472.8 208.1C473.7 207.8 474.8 207.8 475.6 208.1C476.5 208.4 477.4 209 477.9 209.7C478.4 210.4 478.8 211.5 478.8 212.4Z"/><path d="M524.6 182.2C524.6 182.9 524.3 183.7 523.8 184.2C523.3 184.7 522.4 185.2 521.6 185.4C520.8 185.6 519.8 185.6 518.9 185.4C518.1 185.2 517.3 184.7 516.8 184.2C516.3 183.7 515.9 182.9 515.9 182.2C515.9 181.6 516.3 180.8 516.8 180.3C517.3 179.7 518.1 179.3 518.9 179.1C519.8 178.9 520.8 178.9 521.6 179.1C522.4 179.3 523.3 179.7 523.8 180.3C524.3 180.8 524.6 181.6 524.6 182.2Z"/><path d="M331.2 41.9C331.2 42.4 330.9 42.9 330.3 43.3C329.8 43.7 328.9 44.1 328 44.3C327.2 44.4 326.1 44.4 325.2 44.3C324.3 44.1 323.4 43.7 322.9 43.3C322.4 42.9 322 42.4 322 41.9C322 41.4 322.4 40.8 322.9 40.4C323.4 40 324.3 39.6 325.2 39.5C326.1 39.3 327.2 39.3 328 39.5C328.9 39.6 329.8 40 330.3 40.4C330.9 40.8 331.2 41.4 331.2 41.9Z"/><path d="M537.9 214.4C537.5 215.6 536.3 216.9 535 217.5C533.7 218.2 531.7 218.5 530 218.3C528.3 218.1 526.3 217.4 524.9 216.5C523.5 215.5 522.2 214 521.6 212.7C521 211.3 520.9 209.6 521.4 208.4C521.8 207.2 523 205.9 524.3 205.3C525.6 204.6 527.6 204.3 529.3 204.5C531 204.7 533 205.4 534.4 206.4C535.8 207.3 537.1 208.8 537.7 210.1C538.3 211.5 538.4 213.2 537.9 214.4Z"/><path d="M498.3 242.8C497.7 240.9 497.9 235.1 499.3 232.3C500.7 229.5 503.3 227.3 506.6 226.1C509.9 224.8 516 224.8 519.2 225C522.3 225.2 524.8 226.1 525.5 227.1C526.2 228.2 525.5 230.2 523.4 231.3C521.3 232.3 515.7 232.2 512.9 233.4C510.1 234.6 508.4 236.9 506.6 238.6C504.9 240.4 503.8 243.2 502.4 243.9C501 244.5 498.8 244.7 498.3 242.8Z"/><path d="M423.3 324.4C423.3 325.3 423 326.4 422.4 327.1C421.9 327.9 421 328.5 420.1 328.8C419.3 329.1 418.1 329.1 417.3 328.8C416.4 328.5 415.5 327.9 415 327.1C414.5 326.4 414.1 325.3 414.1 324.4C414.1 323.5 414.5 322.5 415 321.7C415.5 321 416.4 320.3 417.3 320.1C418.1 319.8 419.3 319.8 420.1 320.1C421 320.3 421.9 321 422.4 321.7C423 322.5 423.3 323.5 423.3 324.4Z"/><path d="M464.1 346.9C463.7 348.5 462.8 350.2 461.8 351.3C460.8 352.5 459.4 353.3 458.2 353.5C457 353.7 455.6 353.4 454.7 352.6C453.8 351.8 452.9 350.4 452.6 348.9C452.3 347.4 452.4 345.4 452.8 343.9C453.2 342.3 454.2 340.5 455.2 339.4C456.2 338.3 457.6 337.4 458.8 337.2C460 337 461.4 337.4 462.3 338.1C463.2 338.9 464 340.4 464.3 341.8C464.6 343.3 464.6 345.3 464.1 346.9Z"/><path d="M518.1 331.8C518.1 332.4 517.7 333.2 517.1 333.7C516.5 334.3 515.5 334.7 514.5 334.9C513.5 335.2 512.3 335.2 511.3 334.9C510.3 334.7 509.3 334.3 508.7 333.7C508.1 333.2 507.7 332.4 507.7 331.8C507.7 331.1 508.1 330.3 508.7 329.8C509.3 329.3 510.3 328.8 511.3 328.6C512.3 328.4 513.5 328.4 514.5 328.6C515.5 328.8 516.5 329.3 517.1 329.8C517.7 330.3 518.1 331.1 518.1 331.8Z"/><path d="M524.4 366.3C524 364.6 524.7 360.8 525.9 358.3C527.1 355.9 530.3 352.1 531.7 351.6C533.1 351.2 534.5 354.1 534.3 355.8C534 357.6 531 360 530.1 362.1C529.1 364.3 529.5 368.1 528.6 368.8C527.7 369.5 524.9 368 524.4 366.3Z"/><path d="M293.6 137.1h0.01M294.8 137.1h0.01"/><path d="M522.8 182.1h0.01M524 182.1h0.01"/><path d="M249.6 209.3h0.01M250.8 209.3h0.01"/><path d="M361.6 12.6h0.01M362.8 12.6h0.01"/><path d="M299.4 31.4C298.2 31.7 293.6 31.9 292.1 33.5C290.5 35.1 289.6 38.7 290 40.8C290.3 42.9 292.3 45.2 294.2 46C296.1 46.9 300.3 46 301.5 46"/><path d="M462.7 49.2C461.3 49.5 456 49.9 454.3 51.3C452.6 52.7 451.7 55.6 452.2 57.6C452.7 59.5 455.2 61.9 457.4 62.8C459.7 63.7 464.4 62.8 465.8 62.8"/><path d="M519.2 86.9C518.3 87.2 515 87.6 514 89C512.9 90.4 512.4 93.5 512.9 95.2C513.4 97 516.4 98.7 517.1 99.4"/><path d="M555.8 114.1C554.9 113.9 552 112.5 550.6 113C549.2 113.6 548 116 547.4 117.2C546.9 118.4 547.4 119.8 547.4 120.4"/><path d="M583 341.2C582 341.2 578.1 340.3 576.7 341.2C575.4 342.1 574.5 344.8 574.7 346.4C574.8 348 576.2 349.7 577.8 350.6C579.4 351.5 583 351.5 584.1 351.6"/><path d="M475.2 367.3C474.4 367.3 471 366.6 470 367.3C468.9 368 468.9 370.3 468.9 371.5C468.9 372.8 469.8 374.1 470 374.7"/><path d="M250.2 362.1C250.6 363.2 250.9 366.8 252.3 368.4C253.7 370 257 371.5 258.6 371.5C260.2 371.5 261.2 368.9 261.7 368.4"/><path d="M254.4 341.2 260.7 337"/><path d="M264.9 339.1C265.7 339.3 269.2 339.4 270.1 340.1C271 340.8 270.1 342.8 270.1 343.3"/><path d="M278.5 341.2 275.3 353.7"/><path d="M262.8 69.1 272.2 80.6"/><path d="M253.4 81.6C254.4 83.7 257.7 91.7 259.6 94.2C261.6 96.6 264 95.9 264.9 96.3"/><path d="M229.3 230.2C228.1 231.1 223.7 233.9 222 235.5C220.2 237 219.3 239 218.8 239.7"/><path d="M239.8 241.8C239.4 243.3 238.5 248.7 237.7 251.2C236.8 253.6 235 255.5 234.5 256.4"/><path d="M218.8 273.2C219.7 273.3 222.3 274.4 224.1 274.2C225.8 274 228.4 272.5 229.3 272.1"/><path d="M548.5 67C547.8 67.5 544.7 68.7 544.3 70.1C544 71.5 545 74 546.4 75.4C547.8 76.7 551.6 78 552.7 78.5"/><path d="M584.1 67 571.5 76.4"/><path d="M564.2 62.8C565.4 63.1 569.4 65.1 571.5 64.9C573.6 64.7 575.9 62.3 576.7 61.7"/><path d="M584.1 45 591.4 46"/><path d="M278.5 297.2C278 297.9 275.7 300 275.3 301.4C275 302.8 275.5 304.6 276.4 305.6C277.3 306.6 279.9 307.3 280.6 307.7"/><path d="M283.7 321.3C284.1 321.6 284.9 323.2 285.8 323.4C286.7 323.6 288.4 322.5 288.9 322.3"/><path d="M290 3.1C291.2 3.8 295 7 297.3 7.3C299.6 7.7 302.5 5.6 303.6 5.2"/><path d="M224.1 9.4 229.3 4.2"/></g>
</g>
<g clip-path="url(#clip_01)">
<g filter="url(#f5)"><rect x="818.9" y="-3.2" width="389.5" height="387.5" fill="rgb(15,15,15)"/><g filter="url(#b6)"><ellipse cx="1005" cy="208" rx="135" ry="75" transform="rotate(-40 1005 208)" fill="rgb(21,21,21)"/></g><g filter="url(#b7)"><path d="M944.7 274.8C943.8 272.9 940.8 271.3 941.5 269.5C942.2 267.8 947.4 266.1 948.8 264.3C950.2 262.6 950.4 260.5 949.9 259.1C949.4 257.7 946.7 258 945.7 255.9C944.7 253.8 943.6 249.3 943.6 246.5C943.6 243.7 945.2 241.5 945.7 239.2C946.2 236.9 947.6 234.3 946.7 232.9C945.9 231.5 941 232 940.5 230.8C939.9 229.6 942.6 227 943.6 225.6C944.7 224.2 946.4 223.7 946.7 222.4C947.1 221.2 946.5 219.7 945.7 218.3C944.9 216.9 942.6 215.8 942 214.1C941.4 212.3 941.4 209.7 942 207.8C942.6 205.9 944.9 204.3 945.7 202.6C946.5 200.8 946.5 199.4 946.7 197.3C947 195.2 946.7 192.4 947.3 190C947.9 187.6 949.1 184.6 950.4 182.7C951.7 180.8 953.5 180.4 955.1 178.5C956.8 176.6 958.4 173.1 960.4 171.2C962.3 169.2 964.4 168.2 966.6 167C968.9 165.8 971.5 164.5 974 163.8C976.4 163.1 978.8 163.7 981.3 162.8C983.7 161.9 987.4 160.4 988.6 158.6C989.8 156.9 988.4 154.1 988.6 152.3C988.8 150.6 989 149.7 989.7 148.1C990.4 146.6 991.2 144.5 992.8 142.9C994.4 141.3 996.6 140.1 999.1 138.7C1001.5 137.3 1004.5 135.8 1007.4 134.5C1010.4 133.3 1014.1 132.4 1016.9 131.4C1019.7 130.4 1021.9 129.3 1024.2 128.3C1026.5 127.2 1028.7 125.5 1030.5 125.1C1032.2 124.8 1032.9 126.3 1034.7 126.2C1036.4 126.1 1038.8 125 1040.9 124.6C1043 124.2 1045.4 124.4 1047.2 123.5C1049 122.7 1051.5 120.8 1051.9 119.4C1052.4 117.9 1049.7 116.1 1049.8 114.7C1049.9 113.2 1051.5 111.4 1052.4 110.5C1053.4 109.5 1055 108.4 1055.6 108.9C1056.2 109.4 1055.4 112.2 1056.1 113.6C1056.8 115 1058.3 116.7 1059.8 117.3C1061.3 117.8 1063.3 117.2 1065 116.7C1066.8 116.3 1068.5 115.3 1070.2 114.7C1072 114 1073.4 113.3 1075.5 113.1C1077.6 112.9 1080.2 113.5 1082.8 113.6C1085.4 113.7 1089.1 113.3 1091.2 113.6C1093.3 114 1094.4 114.9 1095.4 115.7C1096.3 116.5 1097.5 117.4 1096.9 118.3C1096.4 119.2 1093.5 119.4 1092.2 120.9C1090.9 122.4 1089.4 124.9 1089.1 127.2C1088.7 129.5 1089.6 132.6 1090.1 134.5C1090.6 136.5 1091.2 137.7 1092.2 138.7C1093.3 139.8 1094.5 139.9 1096.4 140.8C1098.3 141.7 1101.6 142.9 1103.7 144C1105.8 145 1107.8 145.7 1109 147.1C1110.1 148.5 1110.7 150.9 1110.5 152.3C1110.4 153.7 1109.1 154.4 1107.9 155.5C1106.8 156.5 1105.1 157.4 1103.7 158.6C1102.3 159.8 1100.6 161.2 1099.5 162.8C1098.5 164.4 1097.6 165.9 1097.5 168C1097.3 170.1 1098 173.4 1098.5 175.4C1099 177.3 1100.1 177.6 1100.6 179.5C1101.1 181.5 1101.6 184.4 1101.6 186.9C1101.6 189.3 1100.7 191.9 1100.6 194.2C1100.5 196.5 1101.6 198.4 1101.1 200.5C1100.6 202.6 1099.1 205.4 1097.5 206.8C1095.8 208.1 1093.3 208.5 1091.2 208.8C1089.1 209.2 1086.6 208.1 1084.9 208.8C1083.1 209.5 1081.8 211.6 1080.7 213C1079.7 214.4 1079.7 215.6 1078.6 217.2C1077.6 218.8 1075.8 220.7 1074.4 222.4C1073 224.2 1071.8 225.9 1070.2 227.7C1068.7 229.4 1066.8 231.3 1065 232.9C1063.3 234.5 1061.7 236.1 1059.8 237.1C1057.9 238.1 1055.4 238.3 1053.5 239.2C1051.6 240.1 1049.5 241.1 1048.3 242.3C1047 243.6 1047 245 1046.2 246.5C1045.3 248.1 1044.3 250.2 1043 251.8C1041.8 253.3 1040.4 254.9 1038.8 255.9C1037.3 257 1035.2 257 1033.6 258C1032 259.1 1031.5 261.8 1029.4 262.2C1027.3 262.7 1023.8 261 1021.1 260.6C1018.3 260.3 1015.1 260 1012.7 260.1C1010.2 260.3 1008 260.8 1006.4 261.7C1004.8 262.6 1003.6 264.1 1003.3 265.4C1002.9 266.7 1003.3 268.1 1004.3 269.5C1005.4 270.9 1007.8 272.9 1009.5 273.7C1011.3 274.6 1012.9 274.4 1014.8 274.8C1016.7 275.1 1019.1 275.3 1021.1 275.8C1023 276.3 1025.3 276.9 1026.3 277.9C1027.2 279 1027.2 281.1 1026.8 282.1C1026.5 283.2 1025.5 283.8 1024.2 284.2C1022.9 284.5 1020.7 284.2 1019 284.2C1017.2 284.2 1015.3 283.8 1013.7 284.2C1012.2 284.5 1011.6 285.6 1009.5 286.3C1007.4 287 1003.4 287.7 1001.2 288.4C998.9 289.1 997.3 290.5 995.9 290.5C994.5 290.5 993.3 289.8 992.8 288.4C992.3 287 993 283.8 992.8 282.1C992.6 280.4 992.4 279.3 991.7 277.9C991.1 276.5 989.8 274.8 988.6 273.7C987.4 272.7 986.2 272 984.4 271.6C982.7 271.3 980.6 271.2 978.1 271.6C975.7 272.1 972 273.6 969.8 274.3C967.5 275 966.6 275.6 964.5 275.8C962.4 276.1 959.5 275.3 957.2 275.8C954.9 276.3 952.7 278.1 950.9 279C949.2 279.8 947.8 281.8 946.7 281.1C945.7 280.4 945.5 276.7 944.7 274.8Z" fill="rgb(31,31,31)"/><path d="M955.1 235C954.5 233.3 954.3 228.4 954.6 225.6C954.9 222.8 956 220.7 956.7 218.3C957.4 215.8 958.3 213.6 958.8 210.9C959.3 208.3 959.7 204.7 959.8 202.6C959.9 200.5 958.9 200.1 959.3 198.4C959.7 196.6 961.9 194.2 962.4 192.1C963 190 961.6 187.9 962.4 185.8C963.3 183.7 965.8 181.6 967.7 179.5C969.6 177.4 971.5 175 974 173.3C976.4 171.5 979.5 170.5 982.3 169.1C985.1 167.7 988.1 166.6 990.7 164.9C993.3 163.1 995.6 160.7 998 158.6C1000.5 156.5 1002.7 154.4 1005.4 152.3C1008 150.2 1010.9 148 1013.7 146C1016.5 144.1 1019.5 142.4 1022.1 140.8C1024.7 139.2 1026.5 137.5 1029.4 136.6C1032.4 135.8 1035.7 135.8 1039.9 135.6C1044.1 135.4 1050.7 136.2 1054.5 135.6C1058.4 135 1059.6 132.3 1062.9 131.9C1066.2 131.6 1071.8 132 1074.4 133.5C1077 135 1077.6 138.4 1078.6 140.8C1079.7 143.3 1079.7 146.2 1080.7 148.1C1081.8 150.1 1083.6 150.6 1084.9 152.3C1086.2 154.1 1088.4 156.5 1088.6 158.6C1088.7 160.7 1086.7 162.8 1085.9 164.9C1085.2 167 1084.4 168.9 1083.8 171.2C1083.3 173.4 1082.6 175.9 1082.8 178.5C1083 181.1 1084.1 184.2 1084.9 186.9C1085.7 189.5 1087.5 192.1 1087.5 194.2C1087.5 196.3 1086.4 198 1084.9 199.4C1083.4 200.8 1080.4 201.5 1078.6 202.6C1076.9 203.6 1075.8 204.3 1074.4 205.7C1073 207.1 1071.6 209 1070.2 210.9C1068.8 212.9 1067.8 215.3 1066.1 217.2C1064.3 219.1 1062 220.7 1059.8 222.4C1057.5 224.2 1054.9 225.9 1052.4 227.7C1050 229.4 1047.4 231.2 1045.1 232.9C1042.9 234.7 1040.8 236.4 1038.8 238.1C1036.9 239.9 1035.7 241.8 1033.6 243.4C1031.5 245 1028.7 246.3 1026.3 247.6C1023.8 248.8 1021.6 250 1019 250.7C1016.3 251.4 1013.2 251.2 1010.6 251.8C1008 252.3 1005.9 253 1003.3 253.8C1000.6 254.7 997.3 255.9 994.9 257C992.4 258 990.7 259.3 988.6 260.1C986.5 261 984.6 261.7 982.3 262.2C980.1 262.7 977.4 262.9 975 263.3C972.6 263.6 969.9 264.3 967.7 264.3C965.4 264.3 962.4 264.1 961.4 263.3C960.4 262.4 961 260.8 961.4 259.1C961.7 257.3 962.4 254.9 963.5 252.8C964.5 250.7 966.8 248.6 967.7 246.5C968.5 244.4 969.2 241.8 968.7 240.2C968.2 238.7 966.3 237.8 964.5 237.1C962.8 236.4 959.8 236.4 958.3 236.1C956.7 235.7 955.7 236.8 955.1 235Z" fill="rgb(45,45,45)"/><path d="M968.6 293.1C968.6 293.6 968.4 294.3 968.1 294.7C967.8 295.1 967.4 295.5 966.9 295.7C966.4 295.8 965.8 295.8 965.3 295.7C964.9 295.5 964.4 295.1 964.1 294.7C963.8 294.3 963.6 293.6 963.6 293.1C963.6 292.6 963.8 291.9 964.1 291.5C964.4 291.1 964.9 290.7 965.3 290.5C965.8 290.3 966.4 290.3 966.9 290.5C967.4 290.7 967.8 291.1 968.1 291.5C968.4 291.9 968.6 292.6 968.6 293.1Z" fill="rgb(30,30,30)"/><path d="M971.9 220.4C971.9 217 972.4 210.1 972.9 205.7C973.4 201.3 974.3 197.7 975 194.2C975.7 190.7 975.7 187.6 977.1 184.8C978.5 182 980.8 179.7 983.4 177.4C986 175.2 989.5 173.3 992.8 171.2C996.1 169.1 999.8 167 1003.3 164.9C1006.7 162.8 1010.2 160.7 1013.7 158.6C1017.2 156.5 1021.1 153.9 1024.2 152.3C1027.3 150.8 1029.2 149.7 1032.6 149.2C1035.9 148.7 1040.6 148.7 1044.1 149.2C1047.6 149.7 1050.7 150.8 1053.5 152.3C1056.3 153.9 1059.3 156.5 1060.8 158.6C1062.4 160.7 1062.7 162.4 1062.9 164.9C1063.1 167.3 1062.1 170.1 1061.9 173.3C1061.6 176.4 1061.3 180.2 1061.3 183.7C1061.4 187.2 1062.4 191.1 1062.4 194.2C1062.4 197.3 1062.1 199.8 1061.3 202.6C1060.6 205.4 1059 208.5 1057.7 210.9C1056.4 213.4 1055.6 215.3 1053.5 217.2C1051.4 219.1 1048.3 221.1 1045.1 222.4C1042 223.8 1037.8 224.5 1034.7 225.6C1031.5 226.6 1028.6 227.3 1026.3 228.7C1024 230.1 1023 232.6 1021.1 234C1019.1 235.4 1017 236.4 1014.8 237.1C1012.5 237.8 1010.4 238.1 1007.4 238.1C1004.5 238.1 1000.1 237.6 997 237.1C993.8 236.6 991.1 235.9 988.6 235C986.2 234.1 984.4 232.9 982.3 231.9C980.2 230.8 977.6 229.8 976 228.7C974.5 227.7 973.6 227 972.9 225.6C972.2 224.2 971.9 223.7 971.9 220.4Z" fill="rgb(64,64,64)"/><path d="M982.9 199.4C982.9 195.9 983.5 192.8 984.4 190C985.4 187.2 986.9 184.9 988.6 182.7C990.4 180.4 992.4 178.3 994.9 176.4C997.3 174.5 1000.3 172.7 1003.3 171.2C1006.2 169.6 1009.5 168.2 1012.7 167C1015.8 165.8 1019.1 164.5 1022.1 163.8C1025.1 163.2 1027.7 163.1 1030.5 163.3C1033.3 163.6 1036.6 164.3 1038.8 165.4C1041.1 166.5 1042.9 168.3 1044.1 170.1C1045.3 172 1045.8 173.8 1046.2 176.4C1046.5 179 1046.3 182.9 1046.2 185.8C1046 188.8 1045.6 191.4 1045.1 194.2C1044.6 197 1044.3 200.1 1043 202.6C1041.8 205 1039.9 207.3 1037.8 208.8C1035.7 210.4 1033.1 210.9 1030.5 212C1027.9 213 1024.9 214.1 1022.1 215.1C1019.3 216.2 1016.5 217.4 1013.7 218.3C1010.9 219.1 1008.1 220.2 1005.4 220.4C1002.6 220.5 999.6 220 997 219.3C994.4 218.6 991.7 217.6 989.7 216.2C987.6 214.8 985.6 213.7 984.4 210.9C983.3 208.1 982.9 202.9 982.9 199.4Z" fill="rgb(103,103,103)"/><path d="M994.4 194.2C994.5 191.9 994.8 188.3 995.9 185.8C997.1 183.4 999.1 181.3 1001.2 179.5C1003.3 177.8 1005.9 176.3 1008.5 175.4C1011.1 174.4 1013.9 174 1016.9 173.8C1019.8 173.6 1023.7 173.7 1026.3 174.3C1028.9 174.9 1031.2 175.9 1032.6 177.4C1034 179 1034.5 181.5 1034.7 183.7C1034.8 186 1034.5 188.6 1033.6 191.1C1032.7 193.5 1031.3 196.3 1029.4 198.4C1027.5 200.5 1024.7 202.2 1022.1 203.6C1019.5 205 1016.5 206.2 1013.7 206.8C1010.9 207.3 1008 207.3 1005.4 206.8C1002.7 206.2 999.8 204.8 998 203.6C996.3 202.4 995.5 201 994.9 199.4C994.3 197.9 994.2 196.5 994.4 194.2Z" fill="rgb(162,162,162)"/></g><ellipse cx="1014.5" cy="191" rx="20" ry="16" transform="rotate(-30 1014.5 191)" fill="url(#g8)"/></g><g fill="none" stroke="#000" stroke-width="2.9" stroke-linejoin="round" stroke-linecap="round"><path d="M944.7 274.8C943.8 272.9 940.8 271.3 941.5 269.5C942.2 267.8 947.4 266.1 948.8 264.3C950.2 262.6 950.4 260.5 949.9 259.1C949.4 257.7 946.7 258 945.7 255.9C944.7 253.8 943.6 249.3 943.6 246.5C943.6 243.7 945.2 241.5 945.7 239.2C946.2 236.9 947.6 234.3 946.7 232.9C945.9 231.5 941 232 940.5 230.8C939.9 229.6 942.6 227 943.6 225.6C944.7 224.2 946.4 223.7 946.7 222.4C947.1 221.2 946.5 219.7 945.7 218.3C944.9 216.9 942.6 215.8 942 214.1C941.4 212.3 941.4 209.7 942 207.8C942.6 205.9 944.9 204.3 945.7 202.6C946.5 200.8 946.5 199.4 946.7 197.3C947 195.2 946.7 192.4 947.3 190C947.9 187.6 949.1 184.6 950.4 182.7C951.7 180.8 953.5 180.4 955.1 178.5C956.8 176.6 958.4 173.1 960.4 171.2C962.3 169.2 964.4 168.2 966.6 167C968.9 165.8 971.5 164.5 974 163.8C976.4 163.1 978.8 163.7 981.3 162.8C983.7 161.9 987.4 160.4 988.6 158.6C989.8 156.9 988.4 154.1 988.6 152.3C988.8 150.6 989 149.7 989.7 148.1C990.4 146.6 991.2 144.5 992.8 142.9C994.4 141.3 996.6 140.1 999.1 138.7C1001.5 137.3 1004.5 135.8 1007.4 134.5C1010.4 133.3 1014.1 132.4 1016.9 131.4C1019.7 130.4 1021.9 129.3 1024.2 128.3C1026.5 127.2 1028.7 125.5 1030.5 125.1C1032.2 124.8 1032.9 126.3 1034.7 126.2C1036.4 126.1 1038.8 125 1040.9 124.6C1043 124.2 1045.4 124.4 1047.2 123.5C1049 122.7 1051.5 120.8 1051.9 119.4C1052.4 117.9 1049.7 116.1 1049.8 114.7C1049.9 113.2 1051.5 111.4 1052.4 110.5C1053.4 109.5 1055 108.4 1055.6 108.9C1056.2 109.4 1055.4 112.2 1056.1 113.6C1056.8 115 1058.3 116.7 1059.8 117.3C1061.3 117.8 1063.3 117.2 1065 116.7C1066.8 116.3 1068.5 115.3 1070.2 114.7C1072 114 1073.4 113.3 1075.5 113.1C1077.6 112.9 1080.2 113.5 1082.8 113.6C1085.4 113.7 1089.1 113.3 1091.2 113.6C1093.3 114 1094.4 114.9 1095.4 115.7C1096.3 116.5 1097.5 117.4 1096.9 118.3C1096.4 119.2 1093.5 119.4 1092.2 120.9C1090.9 122.4 1089.4 124.9 1089.1 127.2C1088.7 129.5 1089.6 132.6 1090.1 134.5C1090.6 136.5 1091.2 137.7 1092.2 138.7C1093.3 139.8 1094.5 139.9 1096.4 140.8C1098.3 141.7 1101.6 142.9 1103.7 144C1105.8 145 1107.8 145.7 1109 147.1C1110.1 148.5 1110.7 150.9 1110.5 152.3C1110.4 153.7 1109.1 154.4 1107.9 155.5C1106.8 156.5 1105.1 157.4 1103.7 158.6C1102.3 159.8 1100.6 161.2 1099.5 162.8C1098.5 164.4 1097.6 165.9 1097.5 168C1097.3 170.1 1098 173.4 1098.5 175.4C1099 177.3 1100.1 177.6 1100.6 179.5C1101.1 181.5 1101.6 184.4 1101.6 186.9C1101.6 189.3 1100.7 191.9 1100.6 194.2C1100.5 196.5 1101.6 198.4 1101.1 200.5C1100.6 202.6 1099.1 205.4 1097.5 206.8C1095.8 208.1 1093.3 208.5 1091.2 208.8C1089.1 209.2 1086.6 208.1 1084.9 208.8C1083.1 209.5 1081.8 211.6 1080.7 213C1079.7 214.4 1079.7 215.6 1078.6 217.2C1077.6 218.8 1075.8 220.7 1074.4 222.4C1073 224.2 1071.8 225.9 1070.2 227.7C1068.7 229.4 1066.8 231.3 1065 232.9C1063.3 234.5 1061.7 236.1 1059.8 237.1C1057.9 238.1 1055.4 238.3 1053.5 239.2C1051.6 240.1 1049.5 241.1 1048.3 242.3C1047 243.6 1047 245 1046.2 246.5C1045.3 248.1 1044.3 250.2 1043 251.8C1041.8 253.3 1040.4 254.9 1038.8 255.9C1037.3 257 1035.2 257 1033.6 258C1032 259.1 1031.5 261.8 1029.4 262.2C1027.3 262.7 1023.8 261 1021.1 260.6C1018.3 260.3 1015.1 260 1012.7 260.1C1010.2 260.3 1008 260.8 1006.4 261.7C1004.8 262.6 1003.6 264.1 1003.3 265.4C1002.9 266.7 1003.3 268.1 1004.3 269.5C1005.4 270.9 1007.8 272.9 1009.5 273.7C1011.3 274.6 1012.9 274.4 1014.8 274.8C1016.7 275.1 1019.1 275.3 1021.1 275.8C1023 276.3 1025.3 276.9 1026.3 277.9C1027.2 279 1027.2 281.1 1026.8 282.1C1026.5 283.2 1025.5 283.8 1024.2 284.2C1022.9 284.5 1020.7 284.2 1019 284.2C1017.2 284.2 1015.3 283.8 1013.7 284.2C1012.2 284.5 1011.6 285.6 1009.5 286.3C1007.4 287 1003.4 287.7 1001.2 288.4C998.9 289.1 997.3 290.5 995.9 290.5C994.5 290.5 993.3 289.8 992.8 288.4C992.3 287 993 283.8 992.8 282.1C992.6 280.4 992.4 279.3 991.7 277.9C991.1 276.5 989.8 274.8 988.6 273.7C987.4 272.7 986.2 272 984.4 271.6C982.7 271.3 980.6 271.2 978.1 271.6C975.7 272.1 972 273.6 969.8 274.3C967.5 275 966.6 275.6 964.5 275.8C962.4 276.1 959.5 275.3 957.2 275.8C954.9 276.3 952.7 278.1 950.9 279C949.2 279.8 947.8 281.8 946.7 281.1C945.7 280.4 945.5 276.7 944.7 274.8Z"/><path d="M955.1 235C954.5 233.3 954.3 228.4 954.6 225.6C954.9 222.8 956 220.7 956.7 218.3C957.4 215.8 958.3 213.6 958.8 210.9C959.3 208.3 959.7 204.7 959.8 202.6C959.9 200.5 958.9 200.1 959.3 198.4C959.7 196.6 961.9 194.2 962.4 192.1C963 190 961.6 187.9 962.4 185.8C963.3 183.7 965.8 181.6 967.7 179.5C969.6 177.4 971.5 175 974 173.3C976.4 171.5 979.5 170.5 982.3 169.1C985.1 167.7 988.1 166.6 990.7 164.9C993.3 163.1 995.6 160.7 998 158.6C1000.5 156.5 1002.7 154.4 1005.4 152.3C1008 150.2 1010.9 148 1013.7 146C1016.5 144.1 1019.5 142.4 1022.1 140.8C1024.7 139.2 1026.5 137.5 1029.4 136.6C1032.4 135.8 1035.7 135.8 1039.9 135.6C1044.1 135.4 1050.7 136.2 1054.5 135.6C1058.4 135 1059.6 132.3 1062.9 131.9C1066.2 131.6 1071.8 132 1074.4 133.5C1077 135 1077.6 138.4 1078.6 140.8C1079.7 143.3 1079.7 146.2 1080.7 148.1C1081.8 150.1 1083.6 150.6 1084.9 152.3C1086.2 154.1 1088.4 156.5 1088.6 158.6C1088.7 160.7 1086.7 162.8 1085.9 164.9C1085.2 167 1084.4 168.9 1083.8 171.2C1083.3 173.4 1082.6 175.9 1082.8 178.5C1083 181.1 1084.1 184.2 1084.9 186.9C1085.7 189.5 1087.5 192.1 1087.5 194.2C1087.5 196.3 1086.4 198 1084.9 199.4C1083.4 200.8 1080.4 201.5 1078.6 202.6C1076.9 203.6 1075.8 204.3 1074.4 205.7C1073 207.1 1071.6 209 1070.2 210.9C1068.8 212.9 1067.8 215.3 1066.1 217.2C1064.3 219.1 1062 220.7 1059.8 222.4C1057.5 224.2 1054.9 225.9 1052.4 227.7C1050 229.4 1047.4 231.2 1045.1 232.9C1042.9 234.7 1040.8 236.4 1038.8 238.1C1036.9 239.9 1035.7 241.8 1033.6 243.4C1031.5 245 1028.7 246.3 1026.3 247.6C1023.8 248.8 1021.6 250 1019 250.7C1016.3 251.4 1013.2 251.2 1010.6 251.8C1008 252.3 1005.9 253 1003.3 253.8C1000.6 254.7 997.3 255.9 994.9 257C992.4 258 990.7 259.3 988.6 260.1C986.5 261 984.6 261.7 982.3 262.2C980.1 262.7 977.4 262.9 975 263.3C972.6 263.6 969.9 264.3 967.7 264.3C965.4 264.3 962.4 264.1 961.4 263.3C960.4 262.4 961 260.8 961.4 259.1C961.7 257.3 962.4 254.9 963.5 252.8C964.5 250.7 966.8 248.6 967.7 246.5C968.5 244.4 969.2 241.8 968.7 240.2C968.2 238.7 966.3 237.8 964.5 237.1C962.8 236.4 959.8 236.4 958.3 236.1C956.7 235.7 955.7 236.8 955.1 235Z"/><path d="M971.9 220.4C971.9 217 972.4 210.1 972.9 205.7C973.4 201.3 974.3 197.7 975 194.2C975.7 190.7 975.7 187.6 977.1 184.8C978.5 182 980.8 179.7 983.4 177.4C986 175.2 989.5 173.3 992.8 171.2C996.1 169.1 999.8 167 1003.3 164.9C1006.7 162.8 1010.2 160.7 1013.7 158.6C1017.2 156.5 1021.1 153.9 1024.2 152.3C1027.3 150.8 1029.2 149.7 1032.6 149.2C1035.9 148.7 1040.6 148.7 1044.1 149.2C1047.6 149.7 1050.7 150.8 1053.5 152.3C1056.3 153.9 1059.3 156.5 1060.8 158.6C1062.4 160.7 1062.7 162.4 1062.9 164.9C1063.1 167.3 1062.1 170.1 1061.9 173.3C1061.6 176.4 1061.3 180.2 1061.3 183.7C1061.4 187.2 1062.4 191.1 1062.4 194.2C1062.4 197.3 1062.1 199.8 1061.3 202.6C1060.6 205.4 1059 208.5 1057.7 210.9C1056.4 213.4 1055.6 215.3 1053.5 217.2C1051.4 219.1 1048.3 221.1 1045.1 222.4C1042 223.8 1037.8 224.5 1034.7 225.6C1031.5 226.6 1028.6 227.3 1026.3 228.7C1024 230.1 1023 232.6 1021.1 234C1019.1 235.4 1017 236.4 1014.8 237.1C1012.5 237.8 1010.4 238.1 1007.4 238.1C1004.5 238.1 1000.1 237.6 997 237.1C993.8 236.6 991.1 235.9 988.6 235C986.2 234.1 984.4 232.9 982.3 231.9C980.2 230.8 977.6 229.8 976 228.7C974.5 227.7 973.6 227 972.9 225.6C972.2 224.2 971.9 223.7 971.9 220.4Z"/><path d="M982.9 199.4C982.9 195.9 983.5 192.8 984.4 190C985.4 187.2 986.9 184.9 988.6 182.7C990.4 180.4 992.4 178.3 994.9 176.4C997.3 174.5 1000.3 172.7 1003.3 171.2C1006.2 169.6 1009.5 168.2 1012.7 167C1015.8 165.8 1019.1 164.5 1022.1 163.8C1025.1 163.2 1027.7 163.1 1030.5 163.3C1033.3 163.6 1036.6 164.3 1038.8 165.4C1041.1 166.5 1042.9 168.3 1044.1 170.1C1045.3 172 1045.8 173.8 1046.2 176.4C1046.5 179 1046.3 182.9 1046.2 185.8C1046 188.8 1045.6 191.4 1045.1 194.2C1044.6 197 1044.3 200.1 1043 202.6C1041.8 205 1039.9 207.3 1037.8 208.8C1035.7 210.4 1033.1 210.9 1030.5 212C1027.9 213 1024.9 214.1 1022.1 215.1C1019.3 216.2 1016.5 217.4 1013.7 218.3C1010.9 219.1 1008.1 220.2 1005.4 220.4C1002.6 220.5 999.6 220 997 219.3C994.4 218.6 991.7 217.6 989.7 216.2C987.6 214.8 985.6 213.7 984.4 210.9C983.3 208.1 982.9 202.9 982.9 199.4Z"/><path d="M994.4 194.2C994.5 191.9 994.8 188.3 995.9 185.8C997.1 183.4 999.1 181.3 1001.2 179.5C1003.3 177.8 1005.9 176.3 1008.5 175.4C1011.1 174.4 1013.9 174 1016.9 173.8C1019.8 173.6 1023.7 173.7 1026.3 174.3C1028.9 174.9 1031.2 175.9 1032.6 177.4C1034 179 1034.5 181.5 1034.7 183.7C1034.8 186 1034.5 188.6 1033.6 191.1C1032.7 193.5 1031.3 196.3 1029.4 198.4C1027.5 200.5 1024.7 202.2 1022.1 203.6C1019.5 205 1016.5 206.2 1013.7 206.8C1010.9 207.3 1008 207.3 1005.4 206.8C1002.7 206.2 999.8 204.8 998 203.6C996.3 202.4 995.5 201 994.9 199.4C994.3 197.9 994.2 196.5 994.4 194.2Z"/><path d="M968.6 293.1C968.6 293.6 968.4 294.3 968.1 294.7C967.8 295.1 967.4 295.5 966.9 295.7C966.4 295.8 965.8 295.8 965.3 295.7C964.9 295.5 964.4 295.1 964.1 294.7C963.8 294.3 963.6 293.6 963.6 293.1C963.6 292.6 963.8 291.9 964.1 291.5C964.4 291.1 964.9 290.7 965.3 290.5C965.8 290.3 966.4 290.3 966.9 290.5C967.4 290.7 967.8 291.1 968.1 291.5C968.4 291.9 968.6 292.6 968.6 293.1Z"/></g>
</g>
<g clip-path="url(#clip_02)">
<g transform="translate(1200.6 0)"><g filter="url(#f9)"><rect x="212.2" y="-3.2" width="387.9" height="387.5" fill="rgb(15,15,15)"/><g filter="url(#b10)"><circle cx="264.9" cy="83.7" r="9.4" fill="rgb(5,5,5)"/><circle cx="229.3" cy="249.1" r="14.7" fill="rgb(5,5,5)"/><circle cx="554.8" cy="69.1" r="12.6" fill="rgb(5,5,5)"/><circle cx="262.8" cy="347.5" r="10.5" fill="rgb(5,5,5)"/><circle cx="471" cy="52.3" r="7.3" fill="rgb(5,5,5)"/><circle cx="512.9" cy="92.1" r="6.3" fill="rgb(5,5,5)"/><circle cx="297.3" cy="39.8" r="7.3" fill="rgb(5,5,5)"/></g><g filter="url(#b11)"><path d="M331.2 41.9C331.2 42.4 330.9 42.9 330.3 43.3C329.8 43.7 328.9 44.1 328 44.3C327.2 44.4 326.1 44.4 325.2 44.3C324.3 44.1 323.4 43.7 322.9 43.3C322.4 42.9 322 42.4 322 41.9C322 41.4 322.4 40.8 322.9 40.4C323.4 40 324.3 39.6 325.2 39.5C326.1 39.3 327.2 39.3 328 39.5C328.9 39.6 329.8 40 330.3 40.4C330.9 40.8 331.2 41.4 331.2 41.9Z" fill="rgb(26,26,26)"/><path d="M352.2 159.5C352.2 160.6 351.7 161.9 351.1 162.8C350.4 163.7 349.3 164.5 348.2 164.9C347.2 165.2 345.8 165.2 344.8 164.9C343.7 164.5 342.6 163.7 341.9 162.8C341.3 161.9 340.8 160.6 340.8 159.5C340.8 158.4 341.3 157.1 341.9 156.2C342.6 155.3 343.7 154.5 344.8 154.1C345.8 153.8 347.2 153.8 348.2 154.1C349.3 154.5 350.4 155.3 351.1 156.2C351.7 157.1 352.2 158.4 352.2 159.5Z" fill="rgb(26,26,26)"/><path d="M331.4 209.3C331.1 209.6 330.4 209.6 329.7 209.4C329 209.1 328 208.5 327.1 207.8C326.3 207.1 325.2 206.1 324.6 205.3C323.9 204.4 323.3 203.4 323 202.6C322.8 201.9 322.8 201.3 323.1 201C323.4 200.7 324 200.7 324.8 200.9C325.5 201.1 326.5 201.8 327.4 202.4C328.2 203.1 329.2 204.1 329.9 205C330.6 205.9 331.2 206.9 331.5 207.6C331.7 208.3 331.7 209 331.4 209.3Z" fill="rgb(26,26,26)"/><path d="M341.7 220.4C341.7 221.1 341.4 221.9 341 222.5C340.6 223.1 339.9 223.6 339.2 223.8C338.6 224 337.7 224 337 223.8C336.4 223.6 335.7 223.1 335.2 222.5C334.8 221.9 334.6 221.1 334.6 220.4C334.6 219.7 334.8 218.9 335.2 218.3C335.7 217.8 336.4 217.2 337 217C337.7 216.8 338.6 216.8 339.2 217C339.9 217.2 340.6 217.8 341 218.3C341.4 218.9 341.7 219.7 341.7 220.4Z" fill="rgb(26,26,26)"/><path d="M335 243.9C335.9 242.1 344.4 235 346.5 234.4C348.6 233.9 348.4 239 347.5 240.7C346.7 242.5 343.4 244.4 341.3 244.9C339.2 245.4 334.1 245.6 335 243.9Z" fill="rgb(26,26,26)"/><path d="M385.2 254.3C385.2 255.5 384.7 257 384 258C383.3 259 382.1 259.9 380.9 260.3C379.7 260.7 378.2 260.7 377 260.3C375.8 259.9 374.6 259 373.9 258C373.1 257 372.7 255.5 372.7 254.3C372.7 253.1 373.1 251.6 373.9 250.6C374.6 249.6 375.8 248.7 377 248.3C378.2 248 379.7 248 380.9 248.3C382.1 248.7 383.3 249.6 384 250.6C384.7 251.6 385.2 253.1 385.2 254.3Z" fill="rgb(26,26,26)"/><path d="M420.8 227.1C421.7 224.5 430.2 218.6 432.3 217.7C434.4 216.8 434.2 219.3 433.4 221.9C432.5 224.5 429.2 232.5 427.1 233.4C425 234.3 419.9 229.7 420.8 227.1Z" fill="rgb(26,26,26)"/><path d="M537.9 214.4C537.5 215.6 536.3 216.9 535 217.5C533.7 218.2 531.7 218.5 530 218.3C528.3 218.1 526.3 217.4 524.9 216.5C523.5 215.5 522.2 214 521.6 212.7C521 211.3 520.9 209.6 521.4 208.4C521.8 207.2 523 205.9 524.3 205.3C525.6 204.6 527.6 204.3 529.3 204.5C531 204.7 533 205.4 534.4 206.4C535.8 207.3 537.1 208.8 537.7 210.1C538.3 211.5 538.4 213.2 537.9 214.4Z" fill="rgb(26,26,26)"/><path d="M498.3 242.8C497.7 240.9 497.9 235.1 499.3 232.3C500.7 229.5 503.3 227.3 506.6 226.1C509.9 224.8 516 224.8 519.2 225C522.3 225.2 524.8 226.1 525.5 227.1C526.2 228.2 525.5 230.2 523.4 231.3C521.3 232.3 515.7 232.2 512.9 233.4C510.1 234.6 508.4 236.9 506.6 238.6C504.9 240.4 503.8 243.2 502.4 243.9C501 244.5 498.8 244.7 498.3 242.8Z" fill="rgb(26,26,26)"/><path d="M329.8 299.3C329.4 297.6 330.6 294.8 332.9 294.1C335.2 293.4 339.5 294.8 343.4 295.1C347.2 295.5 353.3 295.1 355.9 296.2C358.5 297.2 359.1 299.5 359.1 301.4C359.1 303.3 354.4 307.3 355.9 307.7C357.5 308 365 304 368.5 303.5C372 303 375.6 303.7 376.9 304.6C378.1 305.4 379.3 307.7 375.8 308.7C372.3 309.8 359.9 311 355.9 310.8C351.9 310.7 353.8 308.4 351.7 307.7C349.6 307 346.2 307.2 343.4 306.6C340.6 306.1 337.3 305.8 335 304.6C332.7 303.3 330.1 301.1 329.8 299.3Z" fill="rgb(26,26,26)"/><path d="M402 296.2C402.1 296 407.9 296.4 410.3 295.1C412.8 293.9 414.2 290.8 416.6 288.9C419.1 286.9 422.6 284.8 425 283.6C427.4 282.4 428.8 281.4 431.3 281.5C433.7 281.7 438.4 283.1 439.6 284.7C440.9 286.2 440 288.9 438.6 290.9C437.2 293 433.5 295.1 431.3 297.2C429 299.3 427.4 302.8 425 303.5C422.6 304.2 419.2 302.6 416.6 301.4C414 300.2 411.7 297.1 409.3 296.2C406.9 295.3 401.8 296.4 402 296.2Z" fill="rgb(26,26,26)"/><path d="M423.3 324.4C423.3 325.3 423 326.4 422.4 327.1C421.9 327.9 421 328.5 420.1 328.8C419.3 329.1 418.1 329.1 417.3 328.8C416.4 328.5 415.5 327.9 415 327.1C414.5 326.4 414.1 325.3 414.1 324.4C414.1 323.5 414.5 322.5 415 321.7C415.5 321 416.4 320.3 417.3 320.1C418.1 319.8 419.3 319.8 420.1 320.1C421 320.3 421.9 321 422.4 321.7C423 322.5 423.3 323.5 423.3 324.4Z" fill="rgb(26,26,26)"/><path d="M464.1 346.9C463.7 348.5 462.8 350.2 461.8 351.3C460.8 352.5 459.4 353.3 458.2 353.5C457 353.7 455.6 353.4 454.7 352.6C453.8 351.8 452.9 350.4 452.6 348.9C452.3 347.4 452.4 345.4 452.8 343.9C453.2 342.3 454.2 340.5 455.2 339.4C456.2 338.3 457.6 337.4 458.8 337.2C460 337 461.4 337.4 462.3 338.1C463.2 338.9 464 340.4 464.3 341.8C464.6 343.3 464.6 345.3 464.1 346.9Z" fill="rgb(26,26,26)"/><path d="M518.1 331.8C518.1 332.4 517.7 333.2 517.1 333.7C516.5 334.3 515.5 334.7 514.5 334.9C513.5 335.2 512.3 335.2 511.3 334.9C510.3 334.7 509.3 334.3 508.7 333.7C508.1 333.2 507.7 332.4 507.7 331.8C507.7 331.1 508.1 330.3 508.7 329.8C509.3 329.3 510.3 328.8 511.3 328.6C512.3 328.4 513.5 328.4 514.5 328.6C515.5 328.8 516.5 329.3 517.1 329.8C517.7 330.3 518.1 331.1 518.1 331.8Z" fill="rgb(26,26,26)"/><path d="M524.4 366.3C524 364.6 524.7 360.8 525.9 358.3C527.1 355.9 530.3 352.1 531.7 351.6C533.1 351.2 534.5 354.1 534.3 355.8C534 357.6 531 360 530.1 362.1C529.1 364.3 529.5 368.1 528.6 368.8C527.7 369.5 524.9 368 524.4 366.3Z" fill="rgb(26,26,26)"/></g></g><g fill="none" stroke="#000" stroke-width="2.9" stroke-linejoin="round" stroke-linecap="round"><path d="M331.2 41.9C331.2 42.4 330.9 42.9 330.3 43.3C329.8 43.7 328.9 44.1 328 44.3C327.2 44.4 326.1 44.4 325.2 44.3C324.3 44.1 323.4 43.7 322.9 43.3C322.4 42.9 322 42.4 322 41.9C322 41.4 322.4 40.8 322.9 40.4C323.4 40 324.3 39.6 325.2 39.5C326.1 39.3 327.2 39.3 328 39.5C328.9 39.6 329.8 40 330.3 40.4C330.9 40.8 331.2 41.4 331.2 41.9Z"/><path d="M352.2 159.5C352.2 160.6 351.7 161.9 351.1 162.8C350.4 163.7 349.3 164.5 348.2 164.9C347.2 165.2 345.8 165.2 344.8 164.9C343.7 164.5 342.6 163.7 341.9 162.8C341.3 161.9 340.8 160.6 340.8 159.5C340.8 158.4 341.3 157.1 341.9 156.2C342.6 155.3 343.7 154.5 344.8 154.1C345.8 153.8 347.2 153.8 348.2 154.1C349.3 154.5 350.4 155.3 351.1 156.2C351.7 157.1 352.2 158.4 352.2 159.5Z"/><path d="M331.4 209.3C331.1 209.6 330.4 209.6 329.7 209.4C329 209.1 328 208.5 327.1 207.8C326.3 207.1 325.2 206.1 324.6 205.3C323.9 204.4 323.3 203.4 323 202.6C322.8 201.9 322.8 201.3 323.1 201C323.4 200.7 324 200.7 324.8 200.9C325.5 201.1 326.5 201.8 327.4 202.4C328.2 203.1 329.2 204.1 329.9 205C330.6 205.9 331.2 206.9 331.5 207.6C331.7 208.3 331.7 209 331.4 209.3Z"/><path d="M341.7 220.4C341.7 221.1 341.4 221.9 341 222.5C340.6 223.1 339.9 223.6 339.2 223.8C338.6 224 337.7 224 337 223.8C336.4 223.6 335.7 223.1 335.2 222.5C334.8 221.9 334.6 221.1 334.6 220.4C334.6 219.7 334.8 218.9 335.2 218.3C335.7 217.8 336.4 217.2 337 217C337.7 216.8 338.6 216.8 339.2 217C339.9 217.2 340.6 217.8 341 218.3C341.4 218.9 341.7 219.7 341.7 220.4Z"/><path d="M335 243.9C335.9 242.1 344.4 235 346.5 234.4C348.6 233.9 348.4 239 347.5 240.7C346.7 242.5 343.4 244.4 341.3 244.9C339.2 245.4 334.1 245.6 335 243.9Z"/><path d="M385.2 254.3C385.2 255.5 384.7 257 384 258C383.3 259 382.1 259.9 380.9 260.3C379.7 260.7 378.2 260.7 377 260.3C375.8 259.9 374.6 259 373.9 258C373.1 257 372.7 255.5 372.7 254.3C372.7 253.1 373.1 251.6 373.9 250.6C374.6 249.6 375.8 248.7 377 248.3C378.2 248 379.7 248 380.9 248.3C382.1 248.7 383.3 249.6 384 250.6C384.7 251.6 385.2 253.1 385.2 254.3Z"/><path d="M420.8 227.1C421.7 224.5 430.2 218.6 432.3 217.7C434.4 216.8 434.2 219.3 433.4 221.9C432.5 224.5 429.2 232.5 427.1 233.4C425 234.3 419.9 229.7 420.8 227.1Z"/><path d="M537.9 214.4C537.5 215.6 536.3 216.9 535 217.5C533.7 218.2 531.7 218.5 530 218.3C528.3 218.1 526.3 217.4 524.9 216.5C523.5 215.5 522.2 214 521.6 212.7C521 211.3 520.9 209.6 521.4 208.4C521.8 207.2 523 205.9 524.3 205.3C525.6 204.6 527.6 204.3 529.3 204.5C531 204.7 533 205.4 534.4 206.4C535.8 207.3 537.1 208.8 537.7 210.1C538.3 211.5 538.4 213.2 537.9 214.4Z"/><path d="M498.3 242.8C497.7 240.9 497.9 235.1 499.3 232.3C500.7 229.5 503.3 227.3 506.6 226.1C509.9 224.8 516 224.8 519.2 225C522.3 225.2 524.8 226.1 525.5 227.1C526.2 228.2 525.5 230.2 523.4 231.3C521.3 232.3 515.7 232.2 512.9 233.4C510.1 234.6 508.4 236.9 506.6 238.6C504.9 240.4 503.8 243.2 502.4 243.9C501 244.5 498.8 244.7 498.3 242.8Z"/><path d="M329.8 299.3C329.4 297.6 330.6 294.8 332.9 294.1C335.2 293.4 339.5 294.8 343.4 295.1C347.2 295.5 353.3 295.1 355.9 296.2C358.5 297.2 359.1 299.5 359.1 301.4C359.1 303.3 354.4 307.3 355.9 307.7C357.5 308 365 304 368.5 303.5C372 303 375.6 303.7 376.9 304.6C378.1 305.4 379.3 307.7 375.8 308.7C372.3 309.8 359.9 311 355.9 310.8C351.9 310.7 353.8 308.4 351.7 307.7C349.6 307 346.2 307.2 343.4 306.6C340.6 306.1 337.3 305.8 335 304.6C332.7 303.3 330.1 301.1 329.8 299.3Z"/><path d="M402 296.2C402.1 296 407.9 296.4 410.3 295.1C412.8 293.9 414.2 290.8 416.6 288.9C419.1 286.9 422.6 284.8 425 283.6C427.4 282.4 428.8 281.4 431.3 281.5C433.7 281.7 438.4 283.1 439.6 284.7C440.9 286.2 440 288.9 438.6 290.9C437.2 293 433.5 295.1 431.3 297.2C429 299.3 427.4 302.8 425 303.5C422.6 304.2 419.2 302.6 416.6 301.4C414 300.2 411.7 297.1 409.3 296.2C406.9 295.3 401.8 296.4 402 296.2Z"/><path d="M423.3 324.4C423.3 325.3 423 326.4 422.4 327.1C421.9 327.9 421 328.5 420.1 328.8C419.3 329.1 418.1 329.1 417.3 328.8C416.4 328.5 415.5 327.9 415 327.1C414.5 326.4 414.1 325.3 414.1 324.4C414.1 323.5 414.5 322.5 415 321.7C415.5 321 416.4 320.3 417.3 320.1C418.1 319.8 419.3 319.8 420.1 320.1C421 320.3 421.9 321 422.4 321.7C423 322.5 423.3 323.5 423.3 324.4Z"/><path d="M464.1 346.9C463.7 348.5 462.8 350.2 461.8 351.3C460.8 352.5 459.4 353.3 458.2 353.5C457 353.7 455.6 353.4 454.7 352.6C453.8 351.8 452.9 350.4 452.6 348.9C452.3 347.4 452.4 345.4 452.8 343.9C453.2 342.3 454.2 340.5 455.2 339.4C456.2 338.3 457.6 337.4 458.8 337.2C460 337 461.4 337.4 462.3 338.1C463.2 338.9 464 340.4 464.3 341.8C464.6 343.3 464.6 345.3 464.1 346.9Z"/><path d="M518.1 331.8C518.1 332.4 517.7 333.2 517.1 333.7C516.5 334.3 515.5 334.7 514.5 334.9C513.5 335.2 512.3 335.2 511.3 334.9C510.3 334.7 509.3 334.3 508.7 333.7C508.1 333.2 507.7 332.4 507.7 331.8C507.7 331.1 508.1 330.3 508.7 329.8C509.3 329.3 510.3 328.8 511.3 328.6C512.3 328.4 513.5 328.4 514.5 328.6C515.5 328.8 516.5 329.3 517.1 329.8C517.7 330.3 518.1 331.1 518.1 331.8Z"/><path d="M524.4 366.3C524 364.6 524.7 360.8 525.9 358.3C527.1 355.9 530.3 352.1 531.7 351.6C533.1 351.2 534.5 354.1 534.3 355.8C534 357.6 531 360 530.1 362.1C529.1 364.3 529.5 368.1 528.6 368.8C527.7 369.5 524.9 368 524.4 366.3Z"/><path d="M433.8 118.3h0.01M435 118.3h0.01"/><path d="M293.6 137.1h0.01M294.8 137.1h0.01"/><path d="M522.8 182.1h0.01M524 182.1h0.01"/><path d="M470.4 260.6h0.01M471.6 260.6h0.01"/><path d="M249.6 209.3h0.01M250.8 209.3h0.01"/><path d="M361.6 12.6h0.01M362.8 12.6h0.01"/><path d="M299.4 31.4C298.2 31.7 293.6 31.9 292.1 33.5C290.5 35.1 289.6 38.7 290 40.8C290.3 42.9 292.3 45.2 294.2 46C296.1 46.9 300.3 46 301.5 46"/><path d="M462.7 49.2C461.3 49.5 456 49.9 454.3 51.3C452.6 52.7 451.7 55.6 452.2 57.6C452.7 59.5 455.2 61.9 457.4 62.8C459.7 63.7 464.4 62.8 465.8 62.8"/><path d="M519.2 86.9C518.3 87.2 515 87.6 514 89C512.9 90.4 512.4 93.5 512.9 95.2C513.4 97 516.4 98.7 517.1 99.4"/><path d="M555.8 114.1C554.9 113.9 552 112.5 550.6 113C549.2 113.6 548 116 547.4 117.2C546.9 118.4 547.4 119.8 547.4 120.4"/><path d="M583 341.2C582 341.2 578.1 340.3 576.7 341.2C575.4 342.1 574.5 344.8 574.7 346.4C574.8 348 576.2 349.7 577.8 350.6C579.4 351.5 583 351.5 584.1 351.6"/><path d="M475.2 367.3C474.4 367.3 471 366.6 470 367.3C468.9 368 468.9 370.3 468.9 371.5C468.9 372.8 469.8 374.1 470 374.7"/><path d="M250.2 362.1C250.6 363.2 250.9 366.8 252.3 368.4C253.7 370 257 371.5 258.6 371.5C260.2 371.5 261.2 368.9 261.7 368.4"/><path d="M254.4 341.2 260.7 337"/><path d="M264.9 339.1C265.7 339.3 269.2 339.4 270.1 340.1C271 340.8 270.1 342.8 270.1 343.3"/><path d="M278.5 341.2 275.3 353.7"/><path d="M262.8 69.1 272.2 80.6"/><path d="M253.4 81.6C254.4 83.7 257.7 91.7 259.6 94.2C261.6 96.6 264 95.9 264.9 96.3"/><path d="M229.3 230.2C228.1 231.1 223.7 233.9 222 235.5C220.2 237 219.3 239 218.8 239.7"/><path d="M239.8 241.8C239.4 243.3 238.5 248.7 237.7 251.2C236.8 253.6 235 255.5 234.5 256.4"/><path d="M218.8 273.2C219.7 273.3 222.3 274.4 224.1 274.2C225.8 274 228.4 272.5 229.3 272.1"/><path d="M548.5 67C547.8 67.5 544.7 68.7 544.3 70.1C544 71.5 545 74 546.4 75.4C547.8 76.7 551.6 78 552.7 78.5"/><path d="M584.1 67 571.5 76.4"/><path d="M564.2 62.8C565.4 63.1 569.4 65.1 571.5 64.9C573.6 64.7 575.9 62.3 576.7 61.7"/><path d="M584.1 45 591.4 46"/><path d="M278.5 297.2C278 297.9 275.7 300 275.3 301.4C275 302.8 275.5 304.6 276.4 305.6C277.3 306.6 279.9 307.3 280.6 307.7"/><path d="M283.7 321.3C284.1 321.6 284.9 323.2 285.8 323.4C286.7 323.6 288.4 322.5 288.9 322.3"/><path d="M290 3.1C291.2 3.8 295 7 297.3 7.3C299.6 7.7 302.5 5.6 303.6 5.2"/><path d="M224.1 9.4 229.3 4.2"/></g></g>
</g>
<g clip-path="url(#clip_10)">
<g clip-path="url(#m12)"><g filter="url(#f13)"><g transform="translate(406.7 670.7)"><g filter="url(#b14)"><g transform="rotate(-43.5)"><path d="M0 0L330 -1.3L329.1 24.3Z" fill="rgb(24,24,24)"/><path d="M0 0L329.3 21.7L326.6 47.2Z" fill="rgb(25,25,25)"/><path d="M0 0L327 44.6L322.5 69.9Z" fill="rgb(27,27,27)"/><path d="M0 0L323.1 67.3L316.8 92.2Z" fill="rgb(30,30,30)"/><path d="M0 0L317.6 89.7L309.6 114.1Z" fill="rgb(34,34,34)"/><path d="M0 0L310.5 111.6L300.9 135.4Z" fill="rgb(38,38,38)"/><path d="M0 0L302 133L290.8 156.1Z" fill="rgb(43,43,43)"/><path d="M0 0L292 153.8L279.2 176Z" fill="rgb(49,49,49)"/><path d="M0 0L280.6 173.8L266.2 195Z" fill="rgb(54,54,54)"/><path d="M0 0L267.7 192.9L251.9 213.1Z" fill="rgb(59,59,59)"/><path d="M0 0L253.6 211.1L236.5 230.2Z" fill="rgb(65,65,65)"/><path d="M0 0L238.3 228.3L219.8 246.1Z" fill="rgb(71,71,71)"/><path d="M0 0L221.8 244.4L202.1 260.9Z" fill="rgb(76,76,76)"/><path d="M0 0L204.2 259.2L183.4 274.3Z" fill="rgb(82,82,82)"/><path d="M0 0L185.6 272.8L163.9 286.4Z" fill="rgb(87,87,87)"/><path d="M0 0L166.1 285.1L143.5 297.2Z" fill="rgb(92,92,92)"/><path d="M0 0L145.8 296L122.4 306.5Z" fill="rgb(97,97,97)"/><path d="M0 0L124.8 305.5L100.7 314.3Z" fill="rgb(103,103,103)"/><path d="M0 0L103.2 313.4L78.6 320.5Z" fill="rgb(108,108,108)"/><path d="M0 0L81.1 319.9L56 325.2Z" fill="rgb(113,113,113)"/><path d="M0 0L58.6 324.8L33.2 328.3Z" fill="rgb(118,118,118)"/><path d="M0 0L35.8 328.1L10.2 329.8Z" fill="rgb(123,123,123)"/><path d="M0 0L12.8 329.8L-12.8 329.8Z" fill="rgb(128,128,128)"/><path d="M0 0L-10.2 329.8L-35.8 328.1Z" fill="rgb(132,132,132)"/><path d="M0 0L-33.2 328.3L-58.6 324.8Z" fill="rgb(137,137,137)"/><path d="M0 0L-56 325.2L-81.1 319.9Z" fill="rgb(142,142,142)"/><path d="M0 0L-78.6 320.5L-103.2 313.4Z" fill="rgb(147,147,147)"/><path d="M0 0L-100.7 314.3L-124.8 305.5Z" fill="rgb(152,152,152)"/><path d="M0 0L-122.4 306.5L-145.8 296Z" fill="rgb(158,158,158)"/><path d="M0 0L-143.5 297.2L-166.1 285.1Z" fill="rgb(163,163,163)"/><path d="M0 0L-163.9 286.4L-185.6 272.8Z" fill="rgb(168,168,168)"/><path d="M0 0L-183.4 274.3L-204.2 259.2Z" fill="rgb(173,173,173)"/><path d="M0 0L-202.1 260.9L-221.8 244.4Z" fill="rgb(179,179,179)"/><path d="M0 0L-219.8 246.1L-238.3 228.3Z" fill="rgb(184,184,184)"/><path d="M0 0L-236.5 230.2L-253.6 211.1Z" fill="rgb(190,190,190)"/><path d="M0 0L-251.9 213.1L-267.7 192.9Z" fill="rgb(196,196,196)"/><path d="M0 0L-266.2 195L-280.6 173.8Z" fill="rgb(201,201,201)"/><path d="M0 0L-279.2 176L-292 153.8Z" fill="rgb(206,206,206)"/><path d="M0 0L-290.8 156.1L-302 133Z" fill="rgb(212,212,212)"/><path d="M0 0L-300.9 135.4L-310.5 111.6Z" fill="rgb(217,217,217)"/><path d="M0 0L-309.6 114.1L-317.6 89.7Z" fill="rgb(221,221,221)"/><path d="M0 0L-316.8 92.2L-323.1 67.3Z" fill="rgb(225,225,225)"/><path d="M0 0L-322.5 69.9L-327 44.6Z" fill="rgb(228,228,228)"/><path d="M0 0L-326.6 47.2L-329.3 21.7Z" fill="rgb(230,230,230)"/><path d="M0 0L-329.1 24.3L-330 -1.3Z" fill="rgb(231,231,231)"/><path d="M0 0L-330 1.3L-329.1 -24.3Z" fill="rgb(231,231,231)"/><path d="M0 0L-329.3 -21.7L-326.6 -47.2Z" fill="rgb(230,230,230)"/><path d="M0 0L-327 -44.6L-322.5 -69.9Z" fill="rgb(228,228,228)"/><path d="M0 0L-323.1 -67.3L-316.8 -92.2Z" fill="rgb(225,225,225)"/><path d="M0 0L-317.6 -89.7L-309.6 -114.1Z" fill="rgb(221,221,221)"/><path d="M0 0L-310.5 -111.6L-300.9 -135.4Z" fill="rgb(217,217,217)"/><path d="M0 0L-302 -133L-290.8 -156.1Z" fill="rgb(212,212,212)"/><path d="M0 0L-292 -153.8L-279.2 -176Z" fill="rgb(206,206,206)"/><path d="M0 0L-280.6 -173.8L-266.2 -195Z" fill="rgb(201,201,201)"/><path d="M0 0L-267.7 -192.9L-251.9 -213.1Z" fill="rgb(196,196,196)"/><path d="M0 0L-253.6 -211.1L-236.5 -230.2Z" fill="rgb(190,190,190)"/><path d="M0 0L-238.3 -228.3L-219.8 -246.1Z" fill="rgb(184,184,184)"/><path d="M0 0L-221.8 -244.4L-202.1 -260.9Z" fill="rgb(179,179,179)"/><path d="M0 0L-204.2 -259.2L-183.4 -274.3Z" fill="rgb(173,173,173)"/><path d="M0 0L-185.6 -272.8L-163.9 -286.4Z" fill="rgb(168,168,168)"/><path d="M0 0L-166.1 -285.1L-143.5 -297.2Z" fill="rgb(163,163,163)"/><path d="M0 0L-145.8 -296L-122.4 -306.5Z" fill="rgb(158,158,158)"/><path d="M0 0L-124.8 -305.5L-100.7 -314.3Z" fill="rgb(152,152,152)"/><path d="M0 0L-103.2 -313.4L-78.6 -320.5Z" fill="rgb(147,147,147)"/><path d="M0 0L-81.1 -319.9L-56 -325.2Z" fill="rgb(142,142,142)"/><path d="M0 0L-58.6 -324.8L-33.2 -328.3Z" fill="rgb(137,137,137)"/><path d="M0 0L-35.8 -328.1L-10.2 -329.8Z" fill="rgb(132,132,132)"/><path d="M0 0L-12.8 -329.8L12.8 -329.8Z" fill="rgb(128,128,128)"/><path d="M0 0L10.2 -329.8L35.8 -328.1Z" fill="rgb(123,123,123)"/><path d="M0 0L33.2 -328.3L58.6 -324.8Z" fill="rgb(118,118,118)"/><path d="M0 0L56 -325.2L81.1 -319.9Z" fill="rgb(113,113,113)"/><path d="M0 0L78.6 -320.5L103.2 -313.4Z" fill="rgb(108,108,108)"/><path d="M0 0L100.7 -314.3L124.8 -305.5Z" fill="rgb(103,103,103)"/><path d="M0 0L122.4 -306.5L145.8 -296Z" fill="rgb(97,97,97)"/><path d="M0 0L143.5 -297.2L166.1 -285.1Z" fill="rgb(92,92,92)"/><path d="M0 0L163.9 -286.4L185.6 -272.8Z" fill="rgb(87,87,87)"/><path d="M0 0L183.4 -274.3L204.2 -259.2Z" fill="rgb(82,82,82)"/><path d="M0 0L202.1 -260.9L221.8 -244.4Z" fill="rgb(76,76,76)"/><path d="M0 0L219.8 -246.1L238.3 -228.3Z" fill="rgb(71,71,71)"/><path d="M0 0L236.5 -230.2L253.6 -211.1Z" fill="rgb(65,65,65)"/><path d="M0 0L251.9 -213.1L267.7 -192.9Z" fill="rgb(59,59,59)"/><path d="M0 0L266.2 -195L280.6 -173.8Z" fill="rgb(54,54,54)"/><path d="M0 0L279.2 -176L292 -153.8Z" fill="rgb(49,49,49)"/><path d="M0 0L290.8 -156.1L302 -133Z" fill="rgb(43,43,43)"/><path d="M0 0L300.9 -135.4L310.5 -111.6Z" fill="rgb(38,38,38)"/><path d="M0 0L309.6 -114.1L317.6 -89.7Z" fill="rgb(34,34,34)"/><path d="M0 0L316.8 -92.2L323.1 -67.3Z" fill="rgb(30,30,30)"/><path d="M0 0L322.5 -69.9L327 -44.6Z" fill="rgb(27,27,27)"/><path d="M0 0L326.6 -47.2L329.3 -21.7Z" fill="rgb(25,25,25)"/><path d="M0 0L329.1 -24.3L330 1.3Z" fill="rgb(24,24,24)"/><ellipse cx="0" cy="0" rx="70" ry="70" transform="rotate(0)" fill="url(#g15)"/></g><ellipse cx="-2" cy="-124" rx="22" ry="35" transform="rotate(0 -2 -124)" fill="rgb(4,4,4)"/><ellipse cx="40" cy="-115" rx="15" ry="28" transform="rotate(0 40 -115)" fill="rgb(8,8,8)"/><ellipse cx="90" cy="-110" rx="45" ry="20" transform="rotate(0 90 -110)" fill="rgb(16,16,16)"/><ellipse cx="40" cy="-85" rx="80" ry="20" transform="rotate(-10 40 -85)" fill="rgb(42,42,42)"/><ellipse cx="-100" cy="-10" rx="45" ry="30" transform="rotate(-40 -100 -10)" fill="rgb(116,116,116)"/><ellipse cx="-60" cy="110" rx="45" ry="35" transform="rotate(-40 -60 110)" fill="rgb(213,213,213)"/><ellipse cx="-130" cy="40" rx="25" ry="35" transform="rotate(0 -130 40)" fill="rgb(211,211,211)"/><ellipse cx="85" cy="90" rx="50" ry="30" transform="rotate(-40 85 90)" fill="rgb(133,133,133)"/><ellipse cx="-140" cy="-60" rx="25" ry="18" transform="rotate(0 -140 -60)" fill="rgb(108,108,108)"/><ellipse cx="-95" cy="75" rx="40" ry="40" transform="rotate(0 -95 75)" fill="rgb(219,219,219)"/><ellipse cx="-30" cy="140" rx="50" ry="25" transform="rotate(0 -30 140)" fill="rgb(199,199,199)"/></g></g></g></g><path d="M303.1 771.2L510.4 572.3" stroke="#000" stroke-width="6.2" fill="none"/><path d="M318.8 580.6L506 773.1" stroke="#000" stroke-width="6.2" stroke-dasharray="19.2 16.3" fill="none"/>
</g>
<g clip-path="url(#clip_11)">
<g clip-path="url(#m16)"><g filter="url(#f17)"><g transform="translate(1014.6 670.7)"><g filter="url(#b18)"><g transform="rotate(-43.5)"><path d="M0 0L330 -1.3L329.1 24.3Z" fill="rgb(28,28,28)"/><path d="M0 0L329.3 21.7L326.6 47.2Z" fill="rgb(29,29,29)"/><path d="M0 0L327 44.6L322.5 69.9Z" fill="rgb(31,31,31)"/><path d="M0 0L323.1 67.3L316.8 92.2Z" fill="rgb(34,34,34)"/><path d="M0 0L317.6 89.7L309.6 114.1Z" fill="rgb(38,38,38)"/><path d="M0 0L310.5 111.6L300.9 135.4Z" fill="rgb(42,42,42)"/><path d="M0 0L302 133L290.8 156.1Z" fill="rgb(47,47,47)"/><path d="M0 0L292 153.8L279.2 176Z" fill="rgb(52,52,52)"/><path d="M0 0L280.6 173.8L266.2 195Z" fill="rgb(57,57,57)"/><path d="M0 0L267.7 192.9L251.9 213.1Z" fill="rgb(62,62,62)"/><path d="M0 0L253.6 211.1L236.5 230.2Z" fill="rgb(67,67,67)"/><path d="M0 0L238.3 228.3L219.8 246.1Z" fill="rgb(73,73,73)"/><path d="M0 0L221.8 244.4L202.1 260.9Z" fill="rgb(78,78,78)"/><path d="M0 0L204.2 259.2L183.4 274.3Z" fill="rgb(83,83,83)"/><path d="M0 0L185.6 272.8L163.9 286.4Z" fill="rgb(89,89,89)"/><path d="M0 0L166.1 285.1L143.5 297.2Z" fill="rgb(94,94,94)"/><path d="M0 0L145.8 296L122.4 306.5Z" fill="rgb(99,99,99)"/><path d="M0 0L124.8 305.5L100.7 314.3Z" fill="rgb(104,104,104)"/><path d="M0 0L103.2 313.4L78.6 320.5Z" fill="rgb(108,108,108)"/><path d="M0 0L81.1 319.9L56 325.2Z" fill="rgb(113,113,113)"/><path d="M0 0L58.6 324.8L33.2 328.3Z" fill="rgb(118,118,118)"/><path d="M0 0L35.8 328.1L10.2 329.8Z" fill="rgb(123,123,123)"/><path d="M0 0L12.8 329.8L-12.8 329.8Z" fill="rgb(128,128,128)"/><path d="M0 0L-10.2 329.8L-35.8 328.1Z" fill="rgb(132,132,132)"/><path d="M0 0L-33.2 328.3L-58.6 324.8Z" fill="rgb(137,137,137)"/><path d="M0 0L-56 325.2L-81.1 319.9Z" fill="rgb(142,142,142)"/><path d="M0 0L-78.6 320.5L-103.2 313.4Z" fill="rgb(147,147,147)"/><path d="M0 0L-100.7 314.3L-124.8 305.5Z" fill="rgb(151,151,151)"/><path d="M0 0L-122.4 306.5L-145.8 296Z" fill="rgb(156,156,156)"/><path d="M0 0L-143.5 297.2L-166.1 285.1Z" fill="rgb(161,161,161)"/><path d="M0 0L-163.9 286.4L-185.6 272.8Z" fill="rgb(166,166,166)"/><path d="M0 0L-183.4 274.3L-204.2 259.2Z" fill="rgb(172,172,172)"/><path d="M0 0L-202.1 260.9L-221.8 244.4Z" fill="rgb(177,177,177)"/><path d="M0 0L-219.8 246.1L-238.3 228.3Z" fill="rgb(182,182,182)"/><path d="M0 0L-236.5 230.2L-253.6 211.1Z" fill="rgb(188,188,188)"/><path d="M0 0L-251.9 213.1L-267.7 192.9Z" fill="rgb(193,193,193)"/><path d="M0 0L-266.2 195L-280.6 173.8Z" fill="rgb(198,198,198)"/><path d="M0 0L-279.2 176L-292 153.8Z" fill="rgb(203,203,203)"/><path d="M0 0L-290.8 156.1L-302 133Z" fill="rgb(208,208,208)"/><path d="M0 0L-300.9 135.4L-310.5 111.6Z" fill="rgb(213,213,213)"/><path d="M0 0L-309.6 114.1L-317.6 89.7Z" fill="rgb(217,217,217)"/><path d="M0 0L-316.8 92.2L-323.1 67.3Z" fill="rgb(221,221,221)"/><path d="M0 0L-322.5 69.9L-327 44.6Z" fill="rgb(224,224,224)"/><path d="M0 0L-326.6 47.2L-329.3 21.7Z" fill="rgb(226,226,226)"/><path d="M0 0L-329.1 24.3L-330 -1.3Z" fill="rgb(227,227,227)"/><path d="M0 0L-330 1.3L-329.1 -24.3Z" fill="rgb(227,227,227)"/><path d="M0 0L-329.3 -21.7L-326.6 -47.2Z" fill="rgb(226,226,226)"/><path d="M0 0L-327 -44.6L-322.5 -69.9Z" fill="rgb(224,224,224)"/><path d="M0 0L-323.1 -67.3L-316.8 -92.2Z" fill="rgb(221,221,221)"/><path d="M0 0L-317.6 -89.7L-309.6 -114.1Z" fill="rgb(217,217,217)"/><path d="M0 0L-310.5 -111.6L-300.9 -135.4Z" fill="rgb(213,213,213)"/><path d="M0 0L-302 -133L-290.8 -156.1Z" fill="rgb(208,208,208)"/><path d="M0 0L-292 -153.8L-279.2 -176Z" fill="rgb(203,203,203)"/><path d="M0 0L-280.6 -173.8L-266.2 -195Z" fill="rgb(198,198,198)"/><path d="M0 0L-267.7 -192.9L-251.9 -213.1Z" fill="rgb(193,193,193)"/><path d="M0 0L-253.6 -211.1L-236.5 -230.2Z" fill="rgb(188,188,188)"/><path d="M0 0L-238.3 -228.3L-219.8 -246.1Z" fill="rgb(182,182,182)"/><path d="M0 0L-221.8 -244.4L-202.1 -260.9Z" fill="rgb(177,177,177)"/><path d="M0 0L-204.2 -259.2L-183.4 -274.3Z" fill="rgb(172,172,172)"/><path d="M0 0L-185.6 -272.8L-163.9 -286.4Z" fill="rgb(166,166,166)"/><path d="M0 0L-166.1 -285.1L-143.5 -297.2Z" fill="rgb(161,161,161)"/><path d="M0 0L-145.8 -296L-122.4 -306.5Z" fill="rgb(156,156,156)"/><path d="M0 0L-124.8 -305.5L-100.7 -314.3Z" fill="rgb(151,151,151)"/><path d="M0 0L-103.2 -313.4L-78.6 -320.5Z" fill="rgb(147,147,147)"/><path d="M0 0L-81.1 -319.9L-56 -325.2Z" fill="rgb(142,142,142)"/><path d="M0 0L-58.6 -324.8L-33.2 -328.3Z" fill="rgb(137,137,137)"/><path d="M0 0L-35.8 -328.1L-10.2 -329.8Z" fill="rgb(132,132,132)"/><path d="M0 0L-12.8 -329.8L12.8 -329.8Z" fill="rgb(128,128,128)"/><path d="M0 0L10.2 -329.8L35.8 -328.1Z" fill="rgb(123,123,123)"/><path d="M0 0L33.2 -328.3L58.6 -324.8Z" fill="rgb(118,118,118)"/><path d="M0 0L56 -325.2L81.1 -319.9Z" fill="rgb(113,113,113)"/><path d="M0 0L78.6 -320.5L103.2 -313.4Z" fill="rgb(108,108,108)"/><path d="M0 0L100.7 -314.3L124.8 -305.5Z" fill="rgb(104,104,104)"/><path d="M0 0L122.4 -306.5L145.8 -296Z" fill="rgb(99,99,99)"/><path d="M0 0L143.5 -297.2L166.1 -285.1Z" fill="rgb(94,94,94)"/><path d="M0 0L163.9 -286.4L185.6 -272.8Z" fill="rgb(89,89,89)"/><path d="M0 0L183.4 -274.3L204.2 -259.2Z" fill="rgb(83,83,83)"/><path d="M0 0L202.1 -260.9L221.8 -244.4Z" fill="rgb(78,78,78)"/><path d="M0 0L219.8 -246.1L238.3 -228.3Z" fill="rgb(73,73,73)"/><path d="M0 0L236.5 -230.2L253.6 -211.1Z" fill="rgb(67,67,67)"/><path d="M0 0L251.9 -213.1L267.7 -192.9Z" fill="rgb(62,62,62)"/><path d="M0 0L266.2 -195L280.6 -173.8Z" fill="rgb(57,57,57)"/><path d="M0 0L279.2 -176L292 -153.8Z" fill="rgb(52,52,52)"/><path d="M0 0L290.8 -156.1L302 -133Z" fill="rgb(47,47,47)"/><path d="M0 0L300.9 -135.4L310.5 -111.6Z" fill="rgb(42,42,42)"/><path d="M0 0L309.6 -114.1L317.6 -89.7Z" fill="rgb(38,38,38)"/><path d="M0 0L316.8 -92.2L323.1 -67.3Z" fill="rgb(34,34,34)"/><path d="M0 0L322.5 -69.9L327 -44.6Z" fill="rgb(31,31,31)"/><path d="M0 0L326.6 -47.2L329.3 -21.7Z" fill="rgb(29,29,29)"/><path d="M0 0L329.1 -24.3L330 1.3Z" fill="rgb(28,28,28)"/><ellipse cx="0" cy="0" rx="75" ry="75" transform="rotate(0)" fill="url(#g19)"/></g></g></g></g></g><path d="M911 771.2L1118.3 572.3" stroke="#000" stroke-width="6.2" fill="none"/><path d="M926.7 580.6L1113.9 773.1" stroke="#000" stroke-width="6.2" stroke-dasharray="19.2 16.3" fill="none"/>
</g>
<g clip-path="url(#clip_12)">
<g clip-path="url(#m20)"><g filter="url(#f21)"><g transform="translate(1607.3 670.7)"><rect x="-200" y="-200" width="400" height="400" fill="rgb(128,128,128)"/><g filter="url(#b22)"><ellipse cx="-30" cy="-93" rx="12" ry="9" transform="rotate(0 -30 -93)" fill="rgb(24,24,24)"/><ellipse cx="0" cy="-96" rx="30" ry="11" transform="rotate(-15 0 -96)" fill="rgb(52,52,52)"/><ellipse cx="45" cy="-106" rx="40" ry="10" transform="rotate(-10 45 -106)" fill="rgb(88,88,88)"/><ellipse cx="20" cy="-88" rx="25" ry="8" transform="rotate(-15 20 -88)" fill="rgb(68,68,68)"/><ellipse cx="-92" cy="-12" rx="18" ry="13" transform="rotate(-35 -92 -12)" fill="rgb(52,52,52)"/><ellipse cx="-116" cy="73" rx="19" ry="12" transform="rotate(-35 -116 73)" fill="rgb(68,68,68)"/><ellipse cx="-92" cy="108" rx="16" ry="9" transform="rotate(0 -92 108)" fill="rgb(84,84,84)"/><ellipse cx="-38" cy="-74" rx="16" ry="7" transform="rotate(-20 -38 -74)" fill="rgb(173,173,173)"/><ellipse cx="-91" cy="19" rx="20" ry="11" transform="rotate(-20 -91 19)" fill="rgb(162,162,162)"/><ellipse cx="124" cy="-52" rx="9" ry="17" transform="rotate(-10 124 -52)" fill="rgb(185,185,185)"/><ellipse cx="97" cy="15" rx="14" ry="10" transform="rotate(-40 97 15)" fill="rgb(177,177,177)"/><ellipse cx="33" cy="8" rx="22" ry="15" transform="rotate(-40 33 8)" fill="rgb(149,149,149)"/><ellipse cx="-45" cy="-18" rx="28" ry="30" transform="rotate(-40 -45 -18)" fill="rgb(106,106,106)"/><ellipse cx="-30" cy="82" rx="30" ry="9" transform="rotate(-10 -30 82)" fill="rgb(159,159,159)"/><ellipse cx="60" cy="70" rx="18" ry="10" transform="rotate(-40 60 70)" fill="rgb(104,104,104)"/><ellipse cx="10" cy="-45" rx="30" ry="10" transform="rotate(-30 10 -45)" fill="rgb(110,110,110)"/><ellipse cx="-75" cy="50" rx="15" ry="12" transform="rotate(-40 -75 50)" fill="rgb(98,98,98)"/><ellipse cx="80" cy="-40" rx="20" ry="10" transform="rotate(-40 80 -40)" fill="rgb(143,143,143)"/><ellipse cx="-55" cy="-45" rx="14" ry="10" transform="rotate(0 -55 -45)" fill="rgb(88,88,88)"/></g></g></g></g><path d="M1503.7 771.2L1711 572.3" stroke="#000" stroke-width="6.2" fill="none"/><path d="M1519.4 580.6L1706.6 773.1" stroke="#000" stroke-width="6.2" stroke-dasharray="19.2 16.3" fill="none"/>
</g>
<g clip-path="url(#clip_20)">
<g clip-path="url(#m23)"><g filter="url(#f24)"><rect x="217.2" y="963.4" width="378.2" height="376.4" fill="rgb(10,10,10)"/><g filter="url(#b25)"><path d="M302.1 1201.4 300 1186.7 308.4 1170 314.7 1157.4 318.8 1144.9 327.2 1136.5 337.7 1121.9 339.8 1107.2 352.3 1098.8 369.1 1086.3 383.7 1082.1 390 1073.7 398.4 1065.3 410.9 1060.1 431.9 1059.1 461.2 1054.9 473.7 1065.3 498.9 1065.3 511.4 1077.9 530.3 1090.5 536.5 1103 532.3 1115.6 524 1128.1 517.7 1144.9 511.4 1155.3 500.9 1165.8 492.6 1182.6 482.1 1193 467.5 1201.4 454.9 1211.9 446.5 1220.2 434 1232.8 419.3 1249.5 404.7 1262.1 387.9 1272.6 369.1 1276.8 356.5 1270.5 339.8 1266.3 327.2 1257.9 310.5 1249.5 304.2 1234.9 306.3 1218.1Z" fill="rgb(87,87,87)"/><g transform="translate(406.7 1152.2)"><ellipse cx="-10" cy="5" rx="95" ry="60" transform="rotate(-40 -10 5)" fill="rgb(133,133,133)"/><ellipse cx="-8" cy="2" rx="55" ry="40" transform="rotate(-40 -8 2)" fill="rgb(161,161,161)"/><ellipse cx="25" cy="-60" rx="45" ry="25" transform="rotate(-40 25 -60)" fill="rgb(119,119,119)"/><ellipse cx="45" cy="-50" rx="40" ry="18" transform="rotate(-30 45 -50)" fill="rgb(125,125,125)"/><ellipse cx="-80" cy="30" rx="20" ry="40" transform="rotate(-20 -80 30)" fill="rgb(173,173,173)"/><ellipse cx="-70" cy="-40" rx="25" ry="20" transform="rotate(0 -70 -40)" fill="rgb(62,62,62)"/><ellipse cx="60" cy="0" rx="25" ry="15" transform="rotate(-40 60 0)" fill="rgb(76,76,76)"/><ellipse cx="-20" cy="90" rx="40" ry="25" transform="rotate(-40 -20 90)" fill="rgb(83,83,83)"/><ellipse cx="0" cy="0" rx="30" ry="30" transform="rotate(0)" fill="url(#g26)"/><ellipse cx="-70" cy="30" rx="7" ry="28" transform="rotate(-15 -70 30)" fill="rgb(222,222,222)"/></g></g></g></g>
</g>
<g clip-path="url(#clip_21)">
<g clip-path="url(#m27)"><g filter="url(#f28)"><g transform="translate(1014.6 1152.2)"><g filter="url(#b29)"><g transform="rotate(-43.5)"><rect x="-200" y="-200" width="400" height="400" fill="url(#g30)"/></g><ellipse cx="0" cy="0" rx="50" ry="56" transform="rotate(-40)" fill="url(#g31)"/></g></g></g></g>
</g>
<g clip-path="url(#clip_22)">
<g clip-path="url(#m32)"><g filter="url(#f33)"><rect x="1417.8" y="963.4" width="377.9" height="376.4" fill="rgb(21,21,21)"/><g transform="translate(1607.3 1152.2)"><g filter="url(#b34)"><ellipse cx="-95" cy="-15" rx="16" ry="14" transform="rotate(-30 -95 -15)" fill="rgb(87,87,87)"/><ellipse cx="-42" cy="-73" rx="22" ry="9" transform="rotate(-35 -42 -73)" fill="rgb(90,90,90)"/><ellipse cx="0" cy="-92" rx="22" ry="8" transform="rotate(-20 0 -92)" fill="rgb(62,62,62)"/><ellipse cx="70" cy="58" rx="10" ry="16" transform="rotate(-40 70 58)" fill="rgb(97,97,97)"/><ellipse cx="27" cy="81" rx="12" ry="6" transform="rotate(-30 27 81)" fill="rgb(90,90,90)"/><ellipse cx="-116" cy="71" rx="18" ry="12" transform="rotate(-35 -116 71)" fill="rgb(66,66,66)"/><ellipse cx="5" cy="3" rx="40" ry="28" transform="rotate(-40 5 3)" fill="rgb(52,52,52)"/><ellipse cx="-66" cy="20" rx="9" ry="24" transform="rotate(-20 -66 20)" fill="rgb(149,149,149)"/><ellipse cx="-66" cy="18" rx="5" ry="16" transform="rotate(-20 -66 18)" fill="rgb(173,173,173)"/><ellipse cx="60" cy="-95" rx="30" ry="10" transform="rotate(-20 60 -95)" fill="rgb(59,59,59)"/><ellipse cx="110" cy="-40" rx="12" ry="20" transform="rotate(-40 110 -40)" fill="rgb(69,69,69)"/><ellipse cx="-60" cy="110" rx="25" ry="8" transform="rotate(-20 -60 110)" fill="rgb(42,42,42)"/><ellipse cx="-120" cy="5" rx="8" ry="10" transform="rotate(0 -120 5)" fill="rgb(76,76,76)"/><ellipse cx="95" cy="25" rx="10" ry="14" transform="rotate(-40 95 25)" fill="rgb(76,76,76)"/></g></g></g></g>
</g>
<g clip-path="url(#clipd0)">
<g filter="url(#f35)"><rect x="225.9" y="1498" width="388.4" height="387.3" fill="rgb(17,17,17)"/><g filter="url(#b36)"><ellipse cx="405" cy="1700" rx="45" ry="95" transform="rotate(-28 405 1700)" fill="rgb(51,51,51)"/><ellipse cx="330" cy="1670" rx="50" ry="25" transform="rotate(0 330 1670)" fill="rgb(41,41,41)"/><ellipse cx="470" cy="1770" rx="40" ry="20" transform="rotate(0 470 1770)" fill="rgb(41,41,41)"/><path d="M340.4 1667.9C339.7 1663.4 339.8 1660.6 341.4 1657.5C343 1654.3 345.6 1651.9 349.8 1649.1C354 1646.3 360.9 1643.8 366.5 1640.7C372.1 1637.6 378 1633.6 383.3 1630.2C388.5 1626.9 393.7 1622.4 397.9 1620.8C402.1 1619.3 405.2 1619.6 408.4 1620.8C411.5 1622 414.7 1625.2 416.8 1628.1C418.8 1631.1 419.5 1634.8 420.9 1638.6C422.3 1642.5 423.4 1646.3 425.1 1651.2C426.9 1656.1 429.3 1662.7 431.4 1667.9C433.5 1673.2 434.9 1677.3 437.7 1682.6C440.5 1687.8 444.3 1693.7 448.2 1699.3C452 1704.9 456.2 1711.2 460.7 1716.1C465.2 1720.9 470.8 1724.4 475.4 1728.6C479.9 1732.8 484.4 1737 487.9 1741.2C491.4 1745.4 494.4 1749.7 496.3 1753.7C498.2 1757.7 500.1 1762.3 499.4 1765.2C498.7 1768.2 496.1 1769.3 492.1 1771.5C488.1 1773.8 480.6 1776.6 475.4 1778.9C470.1 1781.1 464.5 1782.7 460.7 1785.1C456.9 1787.6 455.5 1790.7 452.3 1793.5C449.2 1796.3 446.1 1799.6 441.9 1801.9C437.7 1804.1 431.4 1806.9 427.2 1807.1C423 1807.3 419.9 1805.2 416.8 1802.9C413.6 1800.7 410.8 1797.5 408.4 1793.5C405.9 1789.5 404.2 1784.4 402.1 1778.9C400 1773.3 398.3 1766.3 395.8 1760C393.4 1753.7 390.2 1746.8 387.5 1741.2C384.7 1735.6 382.2 1731.1 379.1 1726.5C375.9 1722 372.5 1718.5 368.6 1714C364.8 1709.4 359.9 1704.2 356.1 1699.3C352.2 1694.4 348.2 1689.9 345.6 1684.7C343 1679.4 341.1 1672.5 340.4 1667.9Z" fill="rgb(66,66,66)" stroke="rgb(66,66,66)" stroke-width="22" stroke-linejoin="round"/></g><g filter="url(#b37)"><path d="M340.4 1667.9C339.7 1663.4 339.8 1660.6 341.4 1657.5C343 1654.3 345.6 1651.9 349.8 1649.1C354 1646.3 360.9 1643.8 366.5 1640.7C372.1 1637.6 378 1633.6 383.3 1630.2C388.5 1626.9 393.7 1622.4 397.9 1620.8C402.1 1619.3 405.2 1619.6 408.4 1620.8C411.5 1622 414.7 1625.2 416.8 1628.1C418.8 1631.1 419.5 1634.8 420.9 1638.6C422.3 1642.5 423.4 1646.3 425.1 1651.2C426.9 1656.1 429.3 1662.7 431.4 1667.9C433.5 1673.2 434.9 1677.3 437.7 1682.6C440.5 1687.8 444.3 1693.7 448.2 1699.3C452 1704.9 456.2 1711.2 460.7 1716.1C465.2 1720.9 470.8 1724.4 475.4 1728.6C479.9 1732.8 484.4 1737 487.9 1741.2C491.4 1745.4 494.4 1749.7 496.3 1753.7C498.2 1757.7 500.1 1762.3 499.4 1765.2C498.7 1768.2 496.1 1769.3 492.1 1771.5C488.1 1773.8 480.6 1776.6 475.4 1778.9C470.1 1781.1 464.5 1782.7 460.7 1785.1C456.9 1787.6 455.5 1790.7 452.3 1793.5C449.2 1796.3 446.1 1799.6 441.9 1801.9C437.7 1804.1 431.4 1806.9 427.2 1807.1C423 1807.3 419.9 1805.2 416.8 1802.9C413.6 1800.7 410.8 1797.5 408.4 1793.5C405.9 1789.5 404.2 1784.4 402.1 1778.9C400 1773.3 398.3 1766.3 395.8 1760C393.4 1753.7 390.2 1746.8 387.5 1741.2C384.7 1735.6 382.2 1731.1 379.1 1726.5C375.9 1722 372.5 1718.5 368.6 1714C364.8 1709.4 359.9 1704.2 356.1 1699.3C352.2 1694.4 348.2 1689.9 345.6 1684.7C343 1679.4 341.1 1672.5 340.4 1667.9Z" fill="rgb(128,128,128)"/><ellipse cx="478" cy="1752" rx="22" ry="13" transform="rotate(-35 478 1752)" fill="rgb(97,97,97)"/><ellipse cx="350" cy="1668" rx="10" ry="8" fill="rgb(115,115,115)"/><path d="M373.8 1674.2C374.5 1669.3 376.5 1661.6 379.1 1657.5C381.7 1653.3 386.1 1651.2 389.5 1649.1C393 1647 396.9 1644.9 400 1644.9C403.2 1644.9 405.6 1645.9 408.4 1649.1C411.2 1652.2 414.3 1658.8 416.8 1663.7C419.2 1668.6 420.9 1673.5 423 1678.4C425.1 1683.3 426.5 1687.5 429.3 1693C432.1 1698.6 436.6 1706.6 439.8 1711.9C442.9 1717.1 445.9 1719.5 448.2 1724.4C450.4 1729.3 452.7 1735.6 453.4 1741.2C454.1 1746.8 453.6 1753 452.3 1757.9C451.1 1762.8 449.2 1766.6 446.1 1770.5C442.9 1774.3 437.3 1779.4 433.5 1780.9C429.7 1782.5 426.5 1782 423 1779.9C419.5 1777.8 415.7 1773.4 412.6 1768.4C409.4 1763.3 406.6 1755.5 404.2 1749.5C401.8 1743.6 400.4 1738.4 397.9 1732.8C395.5 1727.2 392.3 1721.6 389.5 1716.1C386.8 1710.5 383.6 1704.2 381.2 1699.3C378.7 1694.4 376.1 1690.9 374.9 1686.8C373.7 1682.6 373.1 1679.1 373.8 1674.2Z" fill="rgb(178,178,178)"/><path d="M392.7 1682.6C393 1679.1 394.3 1676.3 395.8 1674.2C397.4 1672.1 400 1670.4 402.1 1670C404.2 1669.7 406.3 1670 408.4 1672.1C410.5 1674.2 412.6 1678.7 414.7 1682.6C416.8 1686.4 418.5 1690.2 420.9 1695.1C423.4 1700 426.9 1705.9 429.3 1711.9C431.8 1717.8 434.4 1724.8 435.6 1730.7C436.8 1736.6 437.3 1743.3 436.6 1747.5C435.9 1751.6 433.5 1754.4 431.4 1755.8C429.3 1757.2 426.3 1757.2 424.1 1755.8C421.8 1754.4 419.7 1751.3 417.8 1747.5C415.9 1743.6 414.5 1737.3 412.6 1732.8C410.7 1728.3 408.4 1724.4 406.3 1720.2C404.2 1716.1 402.1 1711.9 400 1707.7C397.9 1703.5 395 1699.3 393.7 1695.1C392.5 1690.9 392.3 1686.1 392.7 1682.6Z" fill="rgb(219,219,219)"/></g><ellipse cx="404.5" cy="1690.5" rx="12" ry="26" transform="rotate(-25 404.5 1690.5)" fill="url(#g38)"/></g><g fill="none" stroke="#000" stroke-width="3.1" stroke-linejoin="round" stroke-linecap="round"><path d="M340.4 1667.9C339.7 1663.4 339.8 1660.6 341.4 1657.5C343 1654.3 345.6 1651.9 349.8 1649.1C354 1646.3 360.9 1643.8 366.5 1640.7C372.1 1637.6 378 1633.6 383.3 1630.2C388.5 1626.9 393.7 1622.4 397.9 1620.8C402.1 1619.3 405.2 1619.6 408.4 1620.8C411.5 1622 414.7 1625.2 416.8 1628.1C418.8 1631.1 419.5 1634.8 420.9 1638.6C422.3 1642.5 423.4 1646.3 425.1 1651.2C426.9 1656.1 429.3 1662.7 431.4 1667.9C433.5 1673.2 434.9 1677.3 437.7 1682.6C440.5 1687.8 444.3 1693.7 448.2 1699.3C452 1704.9 456.2 1711.2 460.7 1716.1C465.2 1720.9 470.8 1724.4 475.4 1728.6C479.9 1732.8 484.4 1737 487.9 1741.2C491.4 1745.4 494.4 1749.7 496.3 1753.7C498.2 1757.7 500.1 1762.3 499.4 1765.2C498.7 1768.2 496.1 1769.3 492.1 1771.5C488.1 1773.8 480.6 1776.6 475.4 1778.9C470.1 1781.1 464.5 1782.7 460.7 1785.1C456.9 1787.6 455.5 1790.7 452.3 1793.5C449.2 1796.3 446.1 1799.6 441.9 1801.9C437.7 1804.1 431.4 1806.9 427.2 1807.1C423 1807.3 419.9 1805.2 416.8 1802.9C413.6 1800.7 410.8 1797.5 408.4 1793.5C405.9 1789.5 404.2 1784.4 402.1 1778.9C400 1773.3 398.3 1766.3 395.8 1760C393.4 1753.7 390.2 1746.8 387.5 1741.2C384.7 1735.6 382.2 1731.1 379.1 1726.5C375.9 1722 372.5 1718.5 368.6 1714C364.8 1709.4 359.9 1704.2 356.1 1699.3C352.2 1694.4 348.2 1689.9 345.6 1684.7C343 1679.4 341.1 1672.5 340.4 1667.9Z"/><path d="M373.8 1674.2C374.5 1669.3 376.5 1661.6 379.1 1657.5C381.7 1653.3 386.1 1651.2 389.5 1649.1C393 1647 396.9 1644.9 400 1644.9C403.2 1644.9 405.6 1645.9 408.4 1649.1C411.2 1652.2 414.3 1658.8 416.8 1663.7C419.2 1668.6 420.9 1673.5 423 1678.4C425.1 1683.3 426.5 1687.5 429.3 1693C432.1 1698.6 436.6 1706.6 439.8 1711.9C442.9 1717.1 445.9 1719.5 448.2 1724.4C450.4 1729.3 452.7 1735.6 453.4 1741.2C454.1 1746.8 453.6 1753 452.3 1757.9C451.1 1762.8 449.2 1766.6 446.1 1770.5C442.9 1774.3 437.3 1779.4 433.5 1780.9C429.7 1782.5 426.5 1782 423 1779.9C419.5 1777.8 415.7 1773.4 412.6 1768.4C409.4 1763.3 406.6 1755.5 404.2 1749.5C401.8 1743.6 400.4 1738.4 397.9 1732.8C395.5 1727.2 392.3 1721.6 389.5 1716.1C386.8 1710.5 383.6 1704.2 381.2 1699.3C378.7 1694.4 376.1 1690.9 374.9 1686.8C373.7 1682.6 373.1 1679.1 373.8 1674.2Z"/><path d="M392.7 1682.6C393 1679.1 394.3 1676.3 395.8 1674.2C397.4 1672.1 400 1670.4 402.1 1670C404.2 1669.7 406.3 1670 408.4 1672.1C410.5 1674.2 412.6 1678.7 414.7 1682.6C416.8 1686.4 418.5 1690.2 420.9 1695.1C423.4 1700 426.9 1705.9 429.3 1711.9C431.8 1717.8 434.4 1724.8 435.6 1730.7C436.8 1736.6 437.3 1743.3 436.6 1747.5C435.9 1751.6 433.5 1754.4 431.4 1755.8C429.3 1757.2 426.3 1757.2 424.1 1755.8C421.8 1754.4 419.7 1751.3 417.8 1747.5C415.9 1743.6 414.5 1737.3 412.6 1732.8C410.7 1728.3 408.4 1724.4 406.3 1720.2C404.2 1716.1 402.1 1711.9 400 1707.7C397.9 1703.5 395 1699.3 393.7 1695.1C392.5 1690.9 392.3 1686.1 392.7 1682.6Z"/></g><rect x="244.5" y="1517.4" width="208.8" height="47.6" fill="#fff" stroke="#000" stroke-width="2.6"/><text x="250.0" y="1552.8" font-size="38.2" letter-spacing="0.5">Major Axis</text>
</g>
<g clip-path="url(#clipd1)">
<g filter="url(#f39)"><rect x="833.4" y="1497.1" width="388.2" height="388.2" fill="rgb(17,17,17)"/><g filter="url(#b40)"><ellipse cx="1025" cy="1712" rx="40" ry="105" transform="rotate(0 1025 1712)" fill="rgb(51,51,51)"/><ellipse cx="960" cy="1712" rx="60" ry="30" transform="rotate(0 960 1712)" fill="rgb(38,38,38)"/><path d="M1025 1634C1027.9 1633.6 1031 1636.9 1033.6 1640.7C1036.2 1644.6 1037.4 1650.6 1040.3 1656.9C1043.2 1663.2 1047.5 1672.1 1051.1 1678.4C1054.7 1684.7 1059.2 1688.7 1061.9 1694.6C1064.5 1700.4 1066.8 1707.1 1067.2 1713.4C1067.7 1719.7 1066.3 1726.4 1064.5 1732.3C1062.8 1738.1 1059.6 1742.1 1056.5 1748.4C1053.3 1754.7 1048.4 1763.7 1045.7 1769.9C1043 1776.2 1042.3 1781.2 1040.3 1786.1C1038.3 1791 1036.1 1796.6 1033.6 1799.6C1031.1 1802.5 1028.2 1803.6 1025.5 1803.6C1022.8 1803.6 1020.1 1802.5 1017.4 1799.6C1014.8 1796.6 1012.3 1791 1009.4 1786.1C1006.5 1781.2 1003.3 1774.9 999.9 1769.9C996.6 1765 993.2 1760.5 989.2 1756.5C985.1 1752.4 980 1749.8 975.7 1745.7C971.5 1741.7 966.1 1737.6 963.6 1732.3C961.1 1726.9 960.2 1718.8 960.9 1713.4C961.6 1708 963.8 1704 967.6 1700C971.5 1695.9 978.9 1692.8 983.8 1689.2C988.7 1685.6 993.2 1682.9 997.3 1678.4C1001.3 1673.9 1004.9 1668.1 1008 1662.3C1011.2 1656.4 1013.3 1648.1 1016.1 1643.4C1018.9 1638.7 1022.1 1634.5 1025 1634Z" fill="rgb(66,66,66)" stroke="rgb(66,66,66)" stroke-width="22" stroke-linejoin="round"/></g><g filter="url(#b41)"><path d="M1025 1634C1027.9 1633.6 1031 1636.9 1033.6 1640.7C1036.2 1644.6 1037.4 1650.6 1040.3 1656.9C1043.2 1663.2 1047.5 1672.1 1051.1 1678.4C1054.7 1684.7 1059.2 1688.7 1061.9 1694.6C1064.5 1700.4 1066.8 1707.1 1067.2 1713.4C1067.7 1719.7 1066.3 1726.4 1064.5 1732.3C1062.8 1738.1 1059.6 1742.1 1056.5 1748.4C1053.3 1754.7 1048.4 1763.7 1045.7 1769.9C1043 1776.2 1042.3 1781.2 1040.3 1786.1C1038.3 1791 1036.1 1796.6 1033.6 1799.6C1031.1 1802.5 1028.2 1803.6 1025.5 1803.6C1022.8 1803.6 1020.1 1802.5 1017.4 1799.6C1014.8 1796.6 1012.3 1791 1009.4 1786.1C1006.5 1781.2 1003.3 1774.9 999.9 1769.9C996.6 1765 993.2 1760.5 989.2 1756.5C985.1 1752.4 980 1749.8 975.7 1745.7C971.5 1741.7 966.1 1737.6 963.6 1732.3C961.1 1726.9 960.2 1718.8 960.9 1713.4C961.6 1708 963.8 1704 967.6 1700C971.5 1695.9 978.9 1692.8 983.8 1689.2C988.7 1685.6 993.2 1682.9 997.3 1678.4C1001.3 1673.9 1004.9 1668.1 1008 1662.3C1011.2 1656.4 1013.3 1648.1 1016.1 1643.4C1018.9 1638.7 1022.1 1634.5 1025 1634Z" fill="rgb(143,143,143)"/><ellipse cx="972" cy="1714" rx="11" ry="10" fill="rgb(97,97,97)"/><path d="M1024.2 1669C1026.4 1669 1029.6 1670.1 1032.2 1673C1034.9 1676 1037.6 1682 1040.3 1686.5C1043 1691 1046.4 1695.5 1048.4 1700C1050.4 1704.4 1052.4 1708 1052.4 1713.4C1052.4 1718.8 1050.4 1726.4 1048.4 1732.3C1046.4 1738.1 1043 1742.6 1040.3 1748.4C1037.6 1754.2 1034.9 1762.8 1032.2 1767.3C1029.6 1771.7 1026.9 1774.9 1024.2 1775.3C1021.5 1775.8 1019.2 1773.1 1016.1 1769.9C1013 1766.8 1008.9 1761.9 1005.3 1756.5C1001.7 1751.1 997.3 1743.5 994.6 1737.6C991.9 1731.8 989.6 1726.9 989.2 1721.5C988.7 1716.1 989.6 1709.8 991.9 1705.3C994.1 1700.9 999 1698.2 1002.6 1694.6C1006.2 1691 1010.7 1687.4 1013.4 1683.8C1016.1 1680.2 1017 1675.5 1018.8 1673C1020.6 1670.6 1021.9 1669 1024.2 1669Z" fill="rgb(196,196,196)"/><path d="M1022.8 1697.3C1026 1697.3 1029.6 1700 1032.2 1702.7C1034.9 1705.3 1037.9 1709.8 1039 1713.4C1040.1 1717 1040.1 1720.6 1039 1724.2C1037.9 1727.8 1034.3 1731.4 1032.2 1735C1030.2 1738.5 1028.4 1743 1026.9 1745.7C1025.3 1748.4 1024.4 1751.1 1022.8 1751.1C1021.3 1751.1 1019.5 1748.9 1017.4 1745.7C1015.4 1742.6 1012.7 1736.3 1010.7 1732.3C1008.7 1728.2 1006.2 1725.1 1005.3 1721.5C1004.4 1717.9 1004 1713.9 1005.3 1710.7C1006.7 1707.6 1010.5 1704.9 1013.4 1702.7C1016.3 1700.4 1019.7 1697.3 1022.8 1697.3Z" fill="rgb(230,230,230)"/></g><ellipse cx="1024.5" cy="1714" rx="10" ry="24" transform="rotate(0 1024.5 1714)" fill="url(#g42)"/></g><g fill="none" stroke="#000" stroke-width="3.1" stroke-linejoin="round" stroke-linecap="round"><path d="M1025 1634C1027.9 1633.6 1031 1636.9 1033.6 1640.7C1036.2 1644.6 1037.4 1650.6 1040.3 1656.9C1043.2 1663.2 1047.5 1672.1 1051.1 1678.4C1054.7 1684.7 1059.2 1688.7 1061.9 1694.6C1064.5 1700.4 1066.8 1707.1 1067.2 1713.4C1067.7 1719.7 1066.3 1726.4 1064.5 1732.3C1062.8 1738.1 1059.6 1742.1 1056.5 1748.4C1053.3 1754.7 1048.4 1763.7 1045.7 1769.9C1043 1776.2 1042.3 1781.2 1040.3 1786.1C1038.3 1791 1036.1 1796.6 1033.6 1799.6C1031.1 1802.5 1028.2 1803.6 1025.5 1803.6C1022.8 1803.6 1020.1 1802.5 1017.4 1799.6C1014.8 1796.6 1012.3 1791 1009.4 1786.1C1006.5 1781.2 1003.3 1774.9 999.9 1769.9C996.6 1765 993.2 1760.5 989.2 1756.5C985.1 1752.4 980 1749.8 975.7 1745.7C971.5 1741.7 966.1 1737.6 963.6 1732.3C961.1 1726.9 960.2 1718.8 960.9 1713.4C961.6 1708 963.8 1704 967.6 1700C971.5 1695.9 978.9 1692.8 983.8 1689.2C988.7 1685.6 993.2 1682.9 997.3 1678.4C1001.3 1673.9 1004.9 1668.1 1008 1662.3C1011.2 1656.4 1013.3 1648.1 1016.1 1643.4C1018.9 1638.7 1022.1 1634.5 1025 1634Z"/><path d="M1024.2 1669C1026.4 1669 1029.6 1670.1 1032.2 1673C1034.9 1676 1037.6 1682 1040.3 1686.5C1043 1691 1046.4 1695.5 1048.4 1700C1050.4 1704.4 1052.4 1708 1052.4 1713.4C1052.4 1718.8 1050.4 1726.4 1048.4 1732.3C1046.4 1738.1 1043 1742.6 1040.3 1748.4C1037.6 1754.2 1034.9 1762.8 1032.2 1767.3C1029.6 1771.7 1026.9 1774.9 1024.2 1775.3C1021.5 1775.8 1019.2 1773.1 1016.1 1769.9C1013 1766.8 1008.9 1761.9 1005.3 1756.5C1001.7 1751.1 997.3 1743.5 994.6 1737.6C991.9 1731.8 989.6 1726.9 989.2 1721.5C988.7 1716.1 989.6 1709.8 991.9 1705.3C994.1 1700.9 999 1698.2 1002.6 1694.6C1006.2 1691 1010.7 1687.4 1013.4 1683.8C1016.1 1680.2 1017 1675.5 1018.8 1673C1020.6 1670.6 1021.9 1669 1024.2 1669Z"/><path d="M1022.8 1697.3C1026 1697.3 1029.6 1700 1032.2 1702.7C1034.9 1705.3 1037.9 1709.8 1039 1713.4C1040.1 1717 1040.1 1720.6 1039 1724.2C1037.9 1727.8 1034.3 1731.4 1032.2 1735C1030.2 1738.5 1028.4 1743 1026.9 1745.7C1025.3 1748.4 1024.4 1751.1 1022.8 1751.1C1021.3 1751.1 1019.5 1748.9 1017.4 1745.7C1015.4 1742.6 1012.7 1736.3 1010.7 1732.3C1008.7 1728.2 1006.2 1725.1 1005.3 1721.5C1004.4 1717.9 1004 1713.9 1005.3 1710.7C1006.7 1707.6 1010.5 1704.9 1013.4 1702.7C1016.3 1700.4 1019.7 1697.3 1022.8 1697.3Z"/></g><rect x="851.8" y="1517.4" width="209.6" height="40.8" fill="#fff" stroke="#000" stroke-width="2.6"/><text x="857.2" y="1552.8" font-size="38.2" letter-spacing="0.5">Minor Axis</text>
</g>
<path d="M271.8 379.3v-10.5M271.8 1.8v10.5M406.7 379.3v-10.5M406.7 1.8v10.5M541.6 379.3v-10.5M541.6 1.8v10.5M217.2 55.9h10.5M595.4 55.9h-10.5M217.2 190.8h10.5M595.4 190.8h-10.5M217.2 325.7h10.5M595.4 325.7h-10.5" stroke="#000" stroke-width="1.6" fill="none"/>
<rect x="217.2" y="1.8" width="378.2" height="377.5" fill="none" stroke="#000" stroke-width="2.6"/>
<path d="M879.7 379.3v-10.5M879.7 1.8v10.5M1014.6 379.3v-10.5M1014.6 1.8v10.5M1149.5 379.3v-10.5M1149.5 1.8v10.5M823.9 55.9h10.5M1203.4 55.9h-10.5M823.9 190.8h10.5M1203.4 190.8h-10.5M823.9 325.7h10.5M1203.4 325.7h-10.5" stroke="#000" stroke-width="1.6" fill="none"/>
<rect x="823.9" y="1.8" width="379.5" height="377.5" fill="none" stroke="#000" stroke-width="2.6"/>
<path d="M1472.4 379.3v-10.5M1472.4 1.8v10.5M1607.3 379.3v-10.5M1607.3 1.8v10.5M1742.2 379.3v-10.5M1742.2 1.8v10.5M1417.8 55.9h10.5M1795.7 55.9h-10.5M1417.8 190.8h10.5M1795.7 190.8h-10.5M1417.8 325.7h10.5M1795.7 325.7h-10.5" stroke="#000" stroke-width="1.6" fill="none"/>
<rect x="1417.8" y="1.8" width="377.9" height="377.5" fill="none" stroke="#000" stroke-width="2.6"/>
<path d="M271.8 859.3v-10.5M271.8 482.4v10.5M406.7 859.3v-10.5M406.7 482.4v10.5M541.6 859.3v-10.5M541.6 482.4v10.5M217.2 535.8h10.5M595.4 535.8h-10.5M217.2 670.7h10.5M595.4 670.7h-10.5M217.2 805.6h10.5M595.4 805.6h-10.5" stroke="#000" stroke-width="1.6" fill="none"/>
<rect x="217.2" y="482.4" width="378.2" height="376.9" fill="none" stroke="#000" stroke-width="2.6"/>
<path d="M879.7 859.3v-10.5M879.7 482.4v10.5M1014.6 859.3v-10.5M1014.6 482.4v10.5M1149.5 859.3v-10.5M1149.5 482.4v10.5M823.9 535.8h10.5M1203.4 535.8h-10.5M823.9 670.7h10.5M1203.4 670.7h-10.5M823.9 805.6h10.5M1203.4 805.6h-10.5" stroke="#000" stroke-width="1.6" fill="none"/>
<rect x="823.9" y="482.4" width="379.5" height="376.9" fill="none" stroke="#000" stroke-width="2.6"/>
<path d="M1472.4 859.3v-10.5M1472.4 482.4v10.5M1607.3 859.3v-10.5M1607.3 482.4v10.5M1742.2 859.3v-10.5M1742.2 482.4v10.5M1417.8 535.8h10.5M1795.7 535.8h-10.5M1417.8 670.7h10.5M1795.7 670.7h-10.5M1417.8 805.6h10.5M1795.7 805.6h-10.5" stroke="#000" stroke-width="1.6" fill="none"/>
<rect x="1417.8" y="482.4" width="377.9" height="376.9" fill="none" stroke="#000" stroke-width="2.6"/>
<path d="M271.8 1339.8v-10.5M271.8 963.4v10.5M406.7 1339.8v-10.5M406.7 963.4v10.5M541.6 1339.8v-10.5M541.6 963.4v10.5M217.2 1017.3h10.5M595.4 1017.3h-10.5M217.2 1152.2h10.5M595.4 1152.2h-10.5M217.2 1287.1h10.5M595.4 1287.1h-10.5" stroke="#000" stroke-width="1.6" fill="none"/>
<rect x="217.2" y="963.4" width="378.2" height="376.4" fill="none" stroke="#000" stroke-width="2.6"/>
<path d="M879.7 1339.8v-10.5M879.7 963.4v10.5M1014.6 1339.8v-10.5M1014.6 963.4v10.5M1149.5 1339.8v-10.5M1149.5 963.4v10.5M823.9 1017.3h10.5M1203.4 1017.3h-10.5M823.9 1152.2h10.5M1203.4 1152.2h-10.5M823.9 1287.1h10.5M1203.4 1287.1h-10.5" stroke="#000" stroke-width="1.6" fill="none"/>
<rect x="823.9" y="963.4" width="379.5" height="376.4" fill="none" stroke="#000" stroke-width="2.6"/>
<path d="M1472.4 1339.8v-10.5M1472.4 963.4v10.5M1607.3 1339.8v-10.5M1607.3 963.4v10.5M1742.2 1339.8v-10.5M1742.2 963.4v10.5M1417.8 1017.3h10.5M1795.7 1017.3h-10.5M1417.8 1152.2h10.5M1795.7 1152.2h-10.5M1417.8 1287.1h10.5M1795.7 1287.1h-10.5" stroke="#000" stroke-width="1.6" fill="none"/>
<rect x="1417.8" y="963.4" width="377.9" height="376.4" fill="none" stroke="#000" stroke-width="2.6"/>
<path d="M276.5 1880.3v-10.5M276.5 1503v10.5M348.7 1880.3v-10.5M348.7 1503v10.5M420.9 1880.3v-10.5M420.9 1503v10.5M492.1 1880.3v-10.5M492.1 1503v10.5M564.3 1880.3v-10.5M564.3 1503v10.5M230.9 1546.9h10.5M609.3 1546.9h-10.5M230.9 1630.1h10.5M609.3 1630.1h-10.5M230.9 1713.7h10.5M609.3 1713.7h-10.5M230.9 1797.3h10.5M609.3 1797.3h-10.5" stroke="#000" stroke-width="1.6" fill="none"/>
<rect x="230.9" y="1503" width="378.4" height="377.3" fill="none" stroke="#000" stroke-width="2.6"/>
<path d="M884.2 1880.3v-10.5M884.2 1502.1v10.5M956.3 1880.3v-10.5M956.3 1502.1v10.5M1028.7 1880.3v-10.5M1028.7 1502.1v10.5M1100.1 1880.3v-10.5M1100.1 1502.1v10.5M1172.2 1880.3v-10.5M1172.2 1502.1v10.5M838.4 1546.9h10.5M1216.6 1546.9h-10.5M838.4 1630.1h10.5M1216.6 1630.1h-10.5M838.4 1713.7h10.5M1216.6 1713.7h-10.5M838.4 1797.3h10.5M1216.6 1797.3h-10.5" stroke="#000" stroke-width="1.6" fill="none"/>
<rect x="838.4" y="1502.1" width="378.2" height="378.2" fill="none" stroke="#000" stroke-width="2.6"/>
<ellipse cx="274.4" cy="323.4" rx="15.2" ry="13.0" transform="rotate(-22 274.4 323.4)" fill="#ff0000" stroke="#000" stroke-width="2.2"/>
<ellipse cx="882.3" cy="323.4" rx="15.2" ry="13.0" transform="rotate(-22 882.3 323.4)" fill="#ff0000" stroke="#000" stroke-width="2.2"/>
<ellipse cx="1475" cy="323.4" rx="15.2" ry="13.0" transform="rotate(-22 1475 323.4)" fill="#ff0000" stroke="#000" stroke-width="2.2"/>
<ellipse cx="274.4" cy="803.3" rx="15.2" ry="13.0" transform="rotate(-22 274.4 803.3)" fill="#ff0000" stroke="#000" stroke-width="2.2"/>
<ellipse cx="882.3" cy="803.3" rx="15.2" ry="13.0" transform="rotate(-22 882.3 803.3)" fill="#ff0000" stroke="#000" stroke-width="2.2"/>
<ellipse cx="1475" cy="803.3" rx="15.2" ry="13.0" transform="rotate(-22 1475 803.3)" fill="#ff0000" stroke="#000" stroke-width="2.2"/>
<ellipse cx="274.4" cy="1284.8" rx="15.2" ry="13.0" transform="rotate(-22 274.4 1284.8)" fill="#ff0000" stroke="#000" stroke-width="2.2"/>
<ellipse cx="882.3" cy="1284.8" rx="15.2" ry="13.0" transform="rotate(-22 882.3 1284.8)" fill="#ff0000" stroke="#000" stroke-width="2.2"/>
<ellipse cx="1475" cy="1284.8" rx="15.2" ry="13.0" transform="rotate(-22 1475 1284.8)" fill="#ff0000" stroke="#000" stroke-width="2.2"/>
<text x="208.1" y="70.1" font-size="38.2" text-anchor="end" letter-spacing="0.5">1.0</text>
<text x="208.1" y="205" font-size="38.2" text-anchor="end" letter-spacing="0.5">0.0</text>
<text x="208.1" y="339.9" font-size="38.2" text-anchor="end" letter-spacing="0.5">-1.0</text>
<text x="272.05" y="420.5" font-size="38.2" text-anchor="middle" letter-spacing="0.5">1.0</text>
<text x="406.95" y="420.5" font-size="38.2" text-anchor="middle" letter-spacing="0.5">0.0</text>
<text x="541.85" y="420.5" font-size="38.2" text-anchor="middle" letter-spacing="0.5">-1.0</text>
<text x="814.8" y="70.1" font-size="38.2" text-anchor="end" letter-spacing="0.5">1.0</text>
<text x="814.8" y="205" font-size="38.2" text-anchor="end" letter-spacing="0.5">0.0</text>
<text x="814.8" y="339.9" font-size="38.2" text-anchor="end" letter-spacing="0.5">-1.0</text>
<text x="879.95" y="420.5" font-size="38.2" text-anchor="middle" letter-spacing="0.5">1.0</text>
<text x="1014.85" y="420.5" font-size="38.2" text-anchor="middle" letter-spacing="0.5">0.0</text>
<text x="1149.75" y="420.5" font-size="38.2" text-anchor="middle" letter-spacing="0.5">-1.0</text>
<text x="1408.7" y="70.1" font-size="38.2" text-anchor="end" letter-spacing="0.5">1.0</text>
<text x="1408.7" y="205" font-size="38.2" text-anchor="end" letter-spacing="0.5">0.0</text>
<text x="1408.7" y="339.9" font-size="38.2" text-anchor="end" letter-spacing="0.5">-1.0</text>
<text x="1472.65" y="420.5" font-size="38.2" text-anchor="middle" letter-spacing="0.5">1.0</text>
<text x="1607.55" y="420.5" font-size="38.2" text-anchor="middle" letter-spacing="0.5">0.0</text>
<text x="1742.45" y="420.5" font-size="38.2" text-anchor="middle" letter-spacing="0.5">-1.0</text>
<text x="208.1" y="550" font-size="38.2" text-anchor="end" letter-spacing="0.5">1.0</text>
<text x="208.1" y="684.9" font-size="38.2" text-anchor="end" letter-spacing="0.5">0.0</text>
<text x="208.1" y="819.8" font-size="38.2" text-anchor="end" letter-spacing="0.5">-1.0</text>
<text x="272.05" y="900.5" font-size="38.2" text-anchor="middle" letter-spacing="0.5">1.0</text>
<text x="406.95" y="900.5" font-size="38.2" text-anchor="middle" letter-spacing="0.5">0.0</text>
<text x="541.85" y="900.5" font-size="38.2" text-anchor="middle" letter-spacing="0.5">-1.0</text>
<text x="814.8" y="550" font-size="38.2" text-anchor="end" letter-spacing="0.5">1.0</text>
<text x="814.8" y="684.9" font-size="38.2" text-anchor="end" letter-spacing="0.5">0.0</text>
<text x="814.8" y="819.8" font-size="38.2" text-anchor="end" letter-spacing="0.5">-1.0</text>
<text x="879.95" y="900.5" font-size="38.2" text-anchor="middle" letter-spacing="0.5">1.0</text>
<text x="1014.85" y="900.5" font-size="38.2" text-anchor="middle" letter-spacing="0.5">0.0</text>
<text x="1149.75" y="900.5" font-size="38.2" text-anchor="middle" letter-spacing="0.5">-1.0</text>
<text x="1408.7" y="550" font-size="38.2" text-anchor="end" letter-spacing="0.5">1.0</text>
<text x="1408.7" y="684.9" font-size="38.2" text-anchor="end" letter-spacing="0.5">0.0</text>
<text x="1408.7" y="819.8" font-size="38.2" text-anchor="end" letter-spacing="0.5">-1.0</text>
<text x="1472.65" y="900.5" font-size="38.2" text-anchor="middle" letter-spacing="0.5">1.0</text>
<text x="1607.55" y="900.5" font-size="38.2" text-anchor="middle" letter-spacing="0.5">0.0</text>
<text x="1742.45" y="900.5" font-size="38.2" text-anchor="middle" letter-spacing="0.5">-1.0</text>
<text x="208.1" y="1031.5" font-size="38.2" text-anchor="end" letter-spacing="0.5">1.0</text>
<text x="208.1" y="1166.4" font-size="38.2" text-anchor="end" letter-spacing="0.5">0.0</text>
<text x="208.1" y="1301.3" font-size="38.2" text-anchor="end" letter-spacing="0.5">-1.0</text>
<text x="272.05" y="1381" font-size="38.2" text-anchor="middle" letter-spacing="0.5">1.0</text>
<text x="406.95" y="1381" font-size="38.2" text-anchor="middle" letter-spacing="0.5">0.0</text>
<text x="541.85" y="1381" font-size="38.2" text-anchor="middle" letter-spacing="0.5">-1.0</text>
<text x="814.8" y="1031.5" font-size="38.2" text-anchor="end" letter-spacing="0.5">1.0</text>
<text x="814.8" y="1166.4" font-size="38.2" text-anchor="end" letter-spacing="0.5">0.0</text>
<text x="814.8" y="1301.3" font-size="38.2" text-anchor="end" letter-spacing="0.5">-1.0</text>
<text x="879.95" y="1381" font-size="38.2" text-anchor="middle" letter-spacing="0.5">1.0</text>
<text x="1014.85" y="1381" font-size="38.2" text-anchor="middle" letter-spacing="0.5">0.0</text>
<text x="1149.75" y="1381" font-size="38.2" text-anchor="middle" letter-spacing="0.5">-1.0</text>
<text x="1408.7" y="1031.5" font-size="38.2" text-anchor="end" letter-spacing="0.5">1.0</text>
<text x="1408.7" y="1166.4" font-size="38.2" text-anchor="end" letter-spacing="0.5">0.0</text>
<text x="1408.7" y="1301.3" font-size="38.2" text-anchor="end" letter-spacing="0.5">-1.0</text>
<text x="1472.65" y="1381" font-size="38.2" text-anchor="middle" letter-spacing="0.5">1.0</text>
<text x="1607.55" y="1381" font-size="38.2" text-anchor="middle" letter-spacing="0.5">0.0</text>
<text x="1742.45" y="1381" font-size="38.2" text-anchor="middle" letter-spacing="0.5">-1.0</text>
<text x="0" y="0" font-size="38.2" letter-spacing="0.5" text-anchor="middle" transform="translate(113.6 191.3) rotate(-90)">Relative Dec ["]</text>
<text x="0" y="0" font-size="38.2" letter-spacing="0.5" text-anchor="middle" transform="translate(113.6 671.2) rotate(-90)">Relative Dec ["]</text>
<text x="0" y="0" font-size="38.2" letter-spacing="0.5" text-anchor="middle" transform="translate(113.6 1152.7) rotate(-90)">Relative Dec ["]</text>
<text x="408.45" y="1425.7" font-size="38.2" text-anchor="middle" letter-spacing="0.5">Relative RA ["]</text>
<text x="1016.35" y="1425.7" font-size="38.2" text-anchor="middle" letter-spacing="0.5">Relative RA ["]</text>
<text x="1609.05" y="1425.7" font-size="38.2" text-anchor="middle" letter-spacing="0.5">Relative RA ["]</text>
<rect x="1806.5" y="1.8" width="18.8" height="377.5" fill="url(#cg_heat)" stroke="#000" stroke-width="2.6"/>
<path d="M1825.3 356.6h-10.5M1825.3 315h-10.5M1825.3 273.4h-10.5M1825.3 231.8h-10.5M1825.3 190.2h-10.5M1825.3 148.6h-10.5M1825.3 107h-10.5M1825.3 65.4h-10.5M1825.3 23.8h-10.5" stroke="#000" stroke-width="1.6"/>
<text x="1834" y="371" font-size="38.2" letter-spacing="0.5">0.00</text>
<text x="1834" y="329.4" font-size="38.2" letter-spacing="0.5">0.25</text>
<text x="1834" y="287.8" font-size="38.2" letter-spacing="0.5">0.50</text>
<text x="1834" y="246.2" font-size="38.2" letter-spacing="0.5">0.75</text>
<text x="1834" y="204.6" font-size="38.2" letter-spacing="0.5">1.00</text>
<text x="1834" y="163" font-size="38.2" letter-spacing="0.5">1.25</text>
<text x="1834" y="121.4" font-size="38.2" letter-spacing="0.5">1.50</text>
<text x="1834" y="79.8" font-size="38.2" letter-spacing="0.5">1.75</text>
<text x="1834" y="38.2" font-size="38.2" letter-spacing="0.5">2.00</text>
<rect x="1806.5" y="482.4" width="18.8" height="376.9" fill="url(#cg_bwr)" stroke="#000" stroke-width="2.6"/>
<path d="M1825.3 848.4h-10.5M1825.3 804.05h-10.5M1825.3 759.7h-10.5M1825.3 715.35h-10.5M1825.3 671h-10.5M1825.3 626.65h-10.5M1825.3 582.3h-10.5M1825.3 537.95h-10.5M1825.3 493.6h-10.5" stroke="#000" stroke-width="1.6"/>
<text x="1834" y="862.8" font-size="38.2" letter-spacing="0.5">−600</text>
<text x="1834" y="818.45" font-size="38.2" letter-spacing="0.5">−450</text>
<text x="1834" y="774.1" font-size="38.2" letter-spacing="0.5">−300</text>
<text x="1834" y="729.75" font-size="38.2" letter-spacing="0.5">−150</text>
<text x="1834" y="685.4" font-size="38.2" letter-spacing="0.5">0</text>
<text x="1834" y="641.05" font-size="38.2" letter-spacing="0.5">150</text>
<text x="1834" y="596.7" font-size="38.2" letter-spacing="0.5">300</text>
<text x="1834" y="552.35" font-size="38.2" letter-spacing="0.5">450</text>
<text x="1834" y="508" font-size="38.2" letter-spacing="0.5">600</text>
<rect x="1806.5" y="963.4" width="18.8" height="376.4" fill="url(#cg_inf)" stroke="#000" stroke-width="2.6"/>
<path d="M1825.3 1299.6h-10.5M1825.3 1258.5h-10.5M1825.3 1217.4h-10.5M1825.3 1176.3h-10.5M1825.3 1135.2h-10.5M1825.3 1094.1h-10.5M1825.3 1053h-10.5M1825.3 1011.9h-10.5M1825.3 970.8h-10.5" stroke="#000" stroke-width="1.6"/>
<text x="1834" y="1355.1" font-size="38.2" letter-spacing="0.5">0</text>
<text x="1834" y="1314" font-size="38.2" letter-spacing="0.5">40</text>
<text x="1834" y="1272.9" font-size="38.2" letter-spacing="0.5">80</text>
<text x="1834" y="1231.8" font-size="38.2" letter-spacing="0.5">120</text>
<text x="1834" y="1190.7" font-size="38.2" letter-spacing="0.5">160</text>
<text x="1834" y="1149.6" font-size="38.2" letter-spacing="0.5">200</text>
<text x="1834" y="1108.5" font-size="38.2" letter-spacing="0.5">240</text>
<text x="1834" y="1067.4" font-size="38.2" letter-spacing="0.5">280</text>
<text x="1834" y="1026.3" font-size="38.2" letter-spacing="0.5">320</text>
<text x="1834" y="985.2" font-size="38.2" letter-spacing="0.5">360</text>
<text x="0" y="0" font-size="40" text-anchor="middle" transform="translate(1961.2 192.6) rotate(90) scale(0.885 1)">Flux [Jy/beam km/s]</text>
<text x="0" y="0" font-size="35" text-anchor="middle" transform="translate(1962.3 648.2) rotate(90)">Velocity [km/s]</text>
<text x="0" y="0" font-size="35.3" text-anchor="middle" transform="translate(1933.8 1128.2) rotate(90)">Velocity [km/s]</text>
<text x="221.8" y="1562.2" font-size="38.2" text-anchor="end" letter-spacing="0.5">1000</text>
<text x="221.8" y="1645.4" font-size="38.2" text-anchor="end" letter-spacing="0.5">500</text>
<text x="221.8" y="1729" font-size="38.2" text-anchor="end" letter-spacing="0.5">0</text>
<text x="221.8" y="1812.6" font-size="38.2" text-anchor="end" letter-spacing="0.5">-500</text>
<text x="276.75" y="1921.5" font-size="38.2" text-anchor="middle" letter-spacing="0.5">-0.8</text>
<text x="348.95" y="1921.5" font-size="38.2" text-anchor="middle" letter-spacing="0.5">-0.4</text>
<text x="421.15" y="1921.5" font-size="38.2" text-anchor="middle" letter-spacing="0.5">-0.0</text>
<text x="492.35" y="1921.5" font-size="38.2" text-anchor="middle" letter-spacing="0.5">0.4</text>
<text x="564.55" y="1921.5" font-size="38.2" text-anchor="middle" letter-spacing="0.5">0.8</text>
<text x="422.05" y="1967" font-size="38.2" text-anchor="middle" letter-spacing="0.5">Offset ["]</text>
<text x="829.3" y="1562.2" font-size="38.2" text-anchor="end" letter-spacing="0.5">1000</text>
<text x="829.3" y="1645.4" font-size="38.2" text-anchor="end" letter-spacing="0.5">500</text>
<text x="829.3" y="1729" font-size="38.2" text-anchor="end" letter-spacing="0.5">0</text>
<text x="829.3" y="1812.6" font-size="38.2" text-anchor="end" letter-spacing="0.5">-500</text>
<text x="884.45" y="1921.5" font-size="38.2" text-anchor="middle" letter-spacing="0.5">-0.8</text>
<text x="956.55" y="1921.5" font-size="38.2" text-anchor="middle" letter-spacing="0.5">-0.4</text>
<text x="1028.95" y="1921.5" font-size="38.2" text-anchor="middle" letter-spacing="0.5">-0.0</text>
<text x="1100.35" y="1921.5" font-size="38.2" text-anchor="middle" letter-spacing="0.5">0.4</text>
<text x="1172.45" y="1921.5" font-size="38.2" text-anchor="middle" letter-spacing="0.5">0.8</text>
<text x="1029.45" y="1967" font-size="38.2" text-anchor="middle" letter-spacing="0.5">Offset ["]</text>
<text x="0" y="0" font-size="38.2" letter-spacing="0.5" text-anchor="middle" transform="translate(104.3 1693) rotate(-90)">Velocity [km/s]</text>
<text x="-1" y="81.4" font-size="64" font-weight="bold" font-family="'Liberation Sans', Arial, sans-serif">a</text>
<text x="-1" y="540.5" font-size="64" font-weight="bold" font-family="'Liberation Sans', Arial, sans-serif">b</text>
<text x="-1" y="999.6" font-size="64" font-weight="bold" font-family="'Liberation Sans', Arial, sans-serif">c</text>
<text x="-1" y="1542.6" font-size="64" font-weight="bold" font-family="'Liberation Sans', Arial, sans-serif">d</text>
<rect x="499.2" y="315.3" width="88.2" height="7.6" fill="#000"/>
<text x="497.5" y="303.6" font-size="35">5 kpc</text>
</svg></body></html>
